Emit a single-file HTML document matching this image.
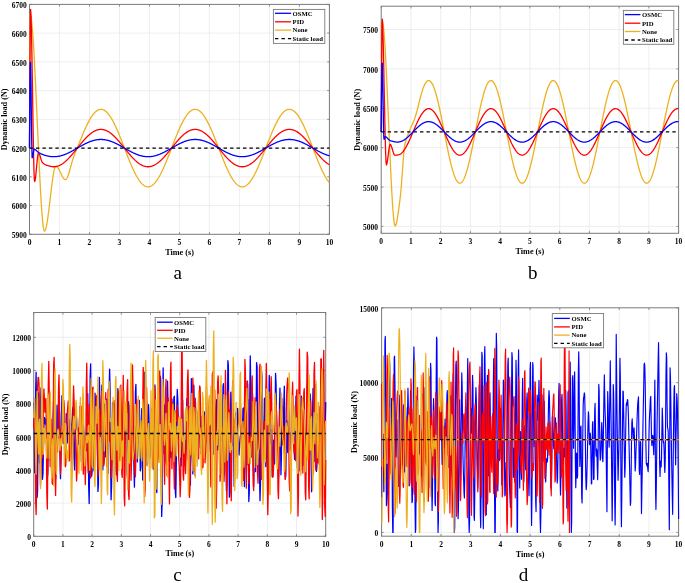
<!DOCTYPE html><html><head><meta charset="utf-8"><style>html,body{margin:0;padding:0;background:#fff;}svg{display:block;will-change:transform;filter:blur(0.35px);}</style></head><body><svg width="685" height="583" viewBox="0 0 685 583" font-family='"Liberation Serif", serif' font-weight="bold" fill="#000">
<rect width="685" height="583" fill="#fff"/>
<line x1="59.49" y1="4.4" x2="59.49" y2="234.3" stroke="#e6e6e6" stroke-width="0.7"/>
<line x1="89.48" y1="4.4" x2="89.48" y2="234.3" stroke="#e6e6e6" stroke-width="0.7"/>
<line x1="119.47" y1="4.4" x2="119.47" y2="234.3" stroke="#e6e6e6" stroke-width="0.7"/>
<line x1="149.46" y1="4.4" x2="149.46" y2="234.3" stroke="#e6e6e6" stroke-width="0.7"/>
<line x1="179.45" y1="4.4" x2="179.45" y2="234.3" stroke="#e6e6e6" stroke-width="0.7"/>
<line x1="209.44" y1="4.4" x2="209.44" y2="234.3" stroke="#e6e6e6" stroke-width="0.7"/>
<line x1="239.43" y1="4.4" x2="239.43" y2="234.3" stroke="#e6e6e6" stroke-width="0.7"/>
<line x1="269.42" y1="4.4" x2="269.42" y2="234.3" stroke="#e6e6e6" stroke-width="0.7"/>
<line x1="299.41" y1="4.4" x2="299.41" y2="234.3" stroke="#e6e6e6" stroke-width="0.7"/>
<line x1="29.5" y1="205.56" x2="329.4" y2="205.56" stroke="#e6e6e6" stroke-width="0.7"/>
<line x1="29.5" y1="176.83" x2="329.4" y2="176.83" stroke="#e6e6e6" stroke-width="0.7"/>
<line x1="29.5" y1="148.09" x2="329.4" y2="148.09" stroke="#e6e6e6" stroke-width="0.7"/>
<line x1="29.5" y1="119.35" x2="329.4" y2="119.35" stroke="#e6e6e6" stroke-width="0.7"/>
<line x1="29.5" y1="90.61" x2="329.4" y2="90.61" stroke="#e6e6e6" stroke-width="0.7"/>
<line x1="29.5" y1="61.88" x2="329.4" y2="61.88" stroke="#e6e6e6" stroke-width="0.7"/>
<line x1="29.5" y1="33.14" x2="329.4" y2="33.14" stroke="#e6e6e6" stroke-width="0.7"/>
<rect x="29.5" y="4.4" width="299.9" height="229.9" fill="none" stroke="#7a7a7a" stroke-width="1"/>
<line x1="29.5" y1="234.3" x2="29.5" y2="232.1" stroke="#7a7a7a" stroke-width="0.8"/>
<line x1="29.5" y1="4.4" x2="29.5" y2="6.6" stroke="#7a7a7a" stroke-width="0.8"/>
<line x1="59.49" y1="234.3" x2="59.49" y2="232.1" stroke="#7a7a7a" stroke-width="0.8"/>
<line x1="59.49" y1="4.4" x2="59.49" y2="6.6" stroke="#7a7a7a" stroke-width="0.8"/>
<line x1="89.48" y1="234.3" x2="89.48" y2="232.1" stroke="#7a7a7a" stroke-width="0.8"/>
<line x1="89.48" y1="4.4" x2="89.48" y2="6.6" stroke="#7a7a7a" stroke-width="0.8"/>
<line x1="119.47" y1="234.3" x2="119.47" y2="232.1" stroke="#7a7a7a" stroke-width="0.8"/>
<line x1="119.47" y1="4.4" x2="119.47" y2="6.6" stroke="#7a7a7a" stroke-width="0.8"/>
<line x1="149.46" y1="234.3" x2="149.46" y2="232.1" stroke="#7a7a7a" stroke-width="0.8"/>
<line x1="149.46" y1="4.4" x2="149.46" y2="6.6" stroke="#7a7a7a" stroke-width="0.8"/>
<line x1="179.45" y1="234.3" x2="179.45" y2="232.1" stroke="#7a7a7a" stroke-width="0.8"/>
<line x1="179.45" y1="4.4" x2="179.45" y2="6.6" stroke="#7a7a7a" stroke-width="0.8"/>
<line x1="209.44" y1="234.3" x2="209.44" y2="232.1" stroke="#7a7a7a" stroke-width="0.8"/>
<line x1="209.44" y1="4.4" x2="209.44" y2="6.6" stroke="#7a7a7a" stroke-width="0.8"/>
<line x1="239.43" y1="234.3" x2="239.43" y2="232.1" stroke="#7a7a7a" stroke-width="0.8"/>
<line x1="239.43" y1="4.4" x2="239.43" y2="6.6" stroke="#7a7a7a" stroke-width="0.8"/>
<line x1="269.42" y1="234.3" x2="269.42" y2="232.1" stroke="#7a7a7a" stroke-width="0.8"/>
<line x1="269.42" y1="4.4" x2="269.42" y2="6.6" stroke="#7a7a7a" stroke-width="0.8"/>
<line x1="299.41" y1="234.3" x2="299.41" y2="232.1" stroke="#7a7a7a" stroke-width="0.8"/>
<line x1="299.41" y1="4.4" x2="299.41" y2="6.6" stroke="#7a7a7a" stroke-width="0.8"/>
<line x1="329.4" y1="234.3" x2="329.4" y2="232.1" stroke="#7a7a7a" stroke-width="0.8"/>
<line x1="329.4" y1="4.4" x2="329.4" y2="6.6" stroke="#7a7a7a" stroke-width="0.8"/>
<line x1="29.5" y1="234.3" x2="31.7" y2="234.3" stroke="#7a7a7a" stroke-width="0.8"/>
<line x1="329.4" y1="234.3" x2="327.2" y2="234.3" stroke="#7a7a7a" stroke-width="0.8"/>
<line x1="29.5" y1="205.56" x2="31.7" y2="205.56" stroke="#7a7a7a" stroke-width="0.8"/>
<line x1="329.4" y1="205.56" x2="327.2" y2="205.56" stroke="#7a7a7a" stroke-width="0.8"/>
<line x1="29.5" y1="176.83" x2="31.7" y2="176.83" stroke="#7a7a7a" stroke-width="0.8"/>
<line x1="329.4" y1="176.83" x2="327.2" y2="176.83" stroke="#7a7a7a" stroke-width="0.8"/>
<line x1="29.5" y1="148.09" x2="31.7" y2="148.09" stroke="#7a7a7a" stroke-width="0.8"/>
<line x1="329.4" y1="148.09" x2="327.2" y2="148.09" stroke="#7a7a7a" stroke-width="0.8"/>
<line x1="29.5" y1="119.35" x2="31.7" y2="119.35" stroke="#7a7a7a" stroke-width="0.8"/>
<line x1="329.4" y1="119.35" x2="327.2" y2="119.35" stroke="#7a7a7a" stroke-width="0.8"/>
<line x1="29.5" y1="90.61" x2="31.7" y2="90.61" stroke="#7a7a7a" stroke-width="0.8"/>
<line x1="329.4" y1="90.61" x2="327.2" y2="90.61" stroke="#7a7a7a" stroke-width="0.8"/>
<line x1="29.5" y1="61.88" x2="31.7" y2="61.88" stroke="#7a7a7a" stroke-width="0.8"/>
<line x1="329.4" y1="61.88" x2="327.2" y2="61.88" stroke="#7a7a7a" stroke-width="0.8"/>
<line x1="29.5" y1="33.14" x2="31.7" y2="33.14" stroke="#7a7a7a" stroke-width="0.8"/>
<line x1="329.4" y1="33.14" x2="327.2" y2="33.14" stroke="#7a7a7a" stroke-width="0.8"/>
<line x1="29.5" y1="4.4" x2="31.7" y2="4.4" stroke="#7a7a7a" stroke-width="0.8"/>
<line x1="329.4" y1="4.4" x2="327.2" y2="4.4" stroke="#7a7a7a" stroke-width="0.8"/>
<text x="29.5" y="244.6" font-size="7.5" text-anchor="middle">0</text>
<text x="59.49" y="244.6" font-size="7.5" text-anchor="middle">1</text>
<text x="89.48" y="244.6" font-size="7.5" text-anchor="middle">2</text>
<text x="119.47" y="244.6" font-size="7.5" text-anchor="middle">3</text>
<text x="149.46" y="244.6" font-size="7.5" text-anchor="middle">4</text>
<text x="179.45" y="244.6" font-size="7.5" text-anchor="middle">5</text>
<text x="209.44" y="244.6" font-size="7.5" text-anchor="middle">6</text>
<text x="239.43" y="244.6" font-size="7.5" text-anchor="middle">7</text>
<text x="269.42" y="244.6" font-size="7.5" text-anchor="middle">8</text>
<text x="299.41" y="244.6" font-size="7.5" text-anchor="middle">9</text>
<text x="329.4" y="244.6" font-size="7.5" text-anchor="middle">10</text>
<text x="26.7" y="238.1" font-size="7.5" text-anchor="end">5900</text>
<text x="26.7" y="209.36" font-size="7.5" text-anchor="end">6000</text>
<text x="26.7" y="180.63" font-size="7.5" text-anchor="end">6100</text>
<text x="26.7" y="151.89" font-size="7.5" text-anchor="end">6200</text>
<text x="26.7" y="123.15" font-size="7.5" text-anchor="end">6300</text>
<text x="26.7" y="94.41" font-size="7.5" text-anchor="end">6400</text>
<text x="26.7" y="65.67" font-size="7.5" text-anchor="end">6500</text>
<text x="26.7" y="36.94" font-size="7.5" text-anchor="end">6600</text>
<text x="26.7" y="8.2" font-size="7.5" text-anchor="end">6700</text>
<text x="179.5" y="254.8" font-size="8.2" text-anchor="middle">Time (s)</text>
<text x="0" y="0" font-size="8.2" text-anchor="middle" transform="translate(7.2,119.35) rotate(-90)">Dynamic load (N)</text>
<text x="177.7" y="279" font-size="19" font-weight="normal" text-anchor="middle">a</text>
<line x1="410.94" y1="6.2" x2="410.94" y2="233.3" stroke="#e6e6e6" stroke-width="0.7"/>
<line x1="440.68" y1="6.2" x2="440.68" y2="233.3" stroke="#e6e6e6" stroke-width="0.7"/>
<line x1="470.42" y1="6.2" x2="470.42" y2="233.3" stroke="#e6e6e6" stroke-width="0.7"/>
<line x1="500.16" y1="6.2" x2="500.16" y2="233.3" stroke="#e6e6e6" stroke-width="0.7"/>
<line x1="529.9" y1="6.2" x2="529.9" y2="233.3" stroke="#e6e6e6" stroke-width="0.7"/>
<line x1="559.64" y1="6.2" x2="559.64" y2="233.3" stroke="#e6e6e6" stroke-width="0.7"/>
<line x1="589.38" y1="6.2" x2="589.38" y2="233.3" stroke="#e6e6e6" stroke-width="0.7"/>
<line x1="619.12" y1="6.2" x2="619.12" y2="233.3" stroke="#e6e6e6" stroke-width="0.7"/>
<line x1="648.86" y1="6.2" x2="648.86" y2="233.3" stroke="#e6e6e6" stroke-width="0.7"/>
<line x1="381.2" y1="226.4" x2="678.6" y2="226.4" stroke="#e6e6e6" stroke-width="0.7"/>
<line x1="381.2" y1="187.02" x2="678.6" y2="187.02" stroke="#e6e6e6" stroke-width="0.7"/>
<line x1="381.2" y1="147.64" x2="678.6" y2="147.64" stroke="#e6e6e6" stroke-width="0.7"/>
<line x1="381.2" y1="108.26" x2="678.6" y2="108.26" stroke="#e6e6e6" stroke-width="0.7"/>
<line x1="381.2" y1="68.88" x2="678.6" y2="68.88" stroke="#e6e6e6" stroke-width="0.7"/>
<line x1="381.2" y1="29.5" x2="678.6" y2="29.5" stroke="#e6e6e6" stroke-width="0.7"/>
<rect x="381.2" y="6.2" width="297.4" height="227.1" fill="none" stroke="#7a7a7a" stroke-width="1"/>
<line x1="381.2" y1="233.3" x2="381.2" y2="231.1" stroke="#7a7a7a" stroke-width="0.8"/>
<line x1="381.2" y1="6.2" x2="381.2" y2="8.4" stroke="#7a7a7a" stroke-width="0.8"/>
<line x1="410.94" y1="233.3" x2="410.94" y2="231.1" stroke="#7a7a7a" stroke-width="0.8"/>
<line x1="410.94" y1="6.2" x2="410.94" y2="8.4" stroke="#7a7a7a" stroke-width="0.8"/>
<line x1="440.68" y1="233.3" x2="440.68" y2="231.1" stroke="#7a7a7a" stroke-width="0.8"/>
<line x1="440.68" y1="6.2" x2="440.68" y2="8.4" stroke="#7a7a7a" stroke-width="0.8"/>
<line x1="470.42" y1="233.3" x2="470.42" y2="231.1" stroke="#7a7a7a" stroke-width="0.8"/>
<line x1="470.42" y1="6.2" x2="470.42" y2="8.4" stroke="#7a7a7a" stroke-width="0.8"/>
<line x1="500.16" y1="233.3" x2="500.16" y2="231.1" stroke="#7a7a7a" stroke-width="0.8"/>
<line x1="500.16" y1="6.2" x2="500.16" y2="8.4" stroke="#7a7a7a" stroke-width="0.8"/>
<line x1="529.9" y1="233.3" x2="529.9" y2="231.1" stroke="#7a7a7a" stroke-width="0.8"/>
<line x1="529.9" y1="6.2" x2="529.9" y2="8.4" stroke="#7a7a7a" stroke-width="0.8"/>
<line x1="559.64" y1="233.3" x2="559.64" y2="231.1" stroke="#7a7a7a" stroke-width="0.8"/>
<line x1="559.64" y1="6.2" x2="559.64" y2="8.4" stroke="#7a7a7a" stroke-width="0.8"/>
<line x1="589.38" y1="233.3" x2="589.38" y2="231.1" stroke="#7a7a7a" stroke-width="0.8"/>
<line x1="589.38" y1="6.2" x2="589.38" y2="8.4" stroke="#7a7a7a" stroke-width="0.8"/>
<line x1="619.12" y1="233.3" x2="619.12" y2="231.1" stroke="#7a7a7a" stroke-width="0.8"/>
<line x1="619.12" y1="6.2" x2="619.12" y2="8.4" stroke="#7a7a7a" stroke-width="0.8"/>
<line x1="648.86" y1="233.3" x2="648.86" y2="231.1" stroke="#7a7a7a" stroke-width="0.8"/>
<line x1="648.86" y1="6.2" x2="648.86" y2="8.4" stroke="#7a7a7a" stroke-width="0.8"/>
<line x1="678.6" y1="233.3" x2="678.6" y2="231.1" stroke="#7a7a7a" stroke-width="0.8"/>
<line x1="678.6" y1="6.2" x2="678.6" y2="8.4" stroke="#7a7a7a" stroke-width="0.8"/>
<line x1="381.2" y1="226.4" x2="383.4" y2="226.4" stroke="#7a7a7a" stroke-width="0.8"/>
<line x1="678.6" y1="226.4" x2="676.4" y2="226.4" stroke="#7a7a7a" stroke-width="0.8"/>
<line x1="381.2" y1="187.02" x2="383.4" y2="187.02" stroke="#7a7a7a" stroke-width="0.8"/>
<line x1="678.6" y1="187.02" x2="676.4" y2="187.02" stroke="#7a7a7a" stroke-width="0.8"/>
<line x1="381.2" y1="147.64" x2="383.4" y2="147.64" stroke="#7a7a7a" stroke-width="0.8"/>
<line x1="678.6" y1="147.64" x2="676.4" y2="147.64" stroke="#7a7a7a" stroke-width="0.8"/>
<line x1="381.2" y1="108.26" x2="383.4" y2="108.26" stroke="#7a7a7a" stroke-width="0.8"/>
<line x1="678.6" y1="108.26" x2="676.4" y2="108.26" stroke="#7a7a7a" stroke-width="0.8"/>
<line x1="381.2" y1="68.88" x2="383.4" y2="68.88" stroke="#7a7a7a" stroke-width="0.8"/>
<line x1="678.6" y1="68.88" x2="676.4" y2="68.88" stroke="#7a7a7a" stroke-width="0.8"/>
<line x1="381.2" y1="29.5" x2="383.4" y2="29.5" stroke="#7a7a7a" stroke-width="0.8"/>
<line x1="678.6" y1="29.5" x2="676.4" y2="29.5" stroke="#7a7a7a" stroke-width="0.8"/>
<text x="381.2" y="244" font-size="7.5" text-anchor="middle">0</text>
<text x="410.94" y="244" font-size="7.5" text-anchor="middle">1</text>
<text x="440.68" y="244" font-size="7.5" text-anchor="middle">2</text>
<text x="470.42" y="244" font-size="7.5" text-anchor="middle">3</text>
<text x="500.16" y="244" font-size="7.5" text-anchor="middle">4</text>
<text x="529.9" y="244" font-size="7.5" text-anchor="middle">5</text>
<text x="559.64" y="244" font-size="7.5" text-anchor="middle">6</text>
<text x="589.38" y="244" font-size="7.5" text-anchor="middle">7</text>
<text x="619.12" y="244" font-size="7.5" text-anchor="middle">8</text>
<text x="648.86" y="244" font-size="7.5" text-anchor="middle">9</text>
<text x="678.6" y="244" font-size="7.5" text-anchor="middle">10</text>
<text x="378.1" y="230.2" font-size="7.5" text-anchor="end">5000</text>
<text x="378.1" y="190.82" font-size="7.5" text-anchor="end">5500</text>
<text x="378.1" y="151.44" font-size="7.5" text-anchor="end">6000</text>
<text x="378.1" y="112.06" font-size="7.5" text-anchor="end">6500</text>
<text x="378.1" y="72.68" font-size="7.5" text-anchor="end">7000</text>
<text x="378.1" y="33.3" font-size="7.5" text-anchor="end">7500</text>
<text x="529.9" y="253.9" font-size="8.2" text-anchor="middle">Time (s)</text>
<text x="0" y="0" font-size="8.2" text-anchor="middle" transform="translate(359.6,119.75) rotate(-90)">Dynamic load (N)</text>
<text x="532.75" y="279" font-size="19" font-weight="normal" text-anchor="middle">b</text>
<line x1="62.9" y1="312.5" x2="62.9" y2="536.3" stroke="#e6e6e6" stroke-width="0.7"/>
<line x1="92.1" y1="312.5" x2="92.1" y2="536.3" stroke="#e6e6e6" stroke-width="0.7"/>
<line x1="121.3" y1="312.5" x2="121.3" y2="536.3" stroke="#e6e6e6" stroke-width="0.7"/>
<line x1="150.5" y1="312.5" x2="150.5" y2="536.3" stroke="#e6e6e6" stroke-width="0.7"/>
<line x1="179.7" y1="312.5" x2="179.7" y2="536.3" stroke="#e6e6e6" stroke-width="0.7"/>
<line x1="208.9" y1="312.5" x2="208.9" y2="536.3" stroke="#e6e6e6" stroke-width="0.7"/>
<line x1="238.1" y1="312.5" x2="238.1" y2="536.3" stroke="#e6e6e6" stroke-width="0.7"/>
<line x1="267.3" y1="312.5" x2="267.3" y2="536.3" stroke="#e6e6e6" stroke-width="0.7"/>
<line x1="296.5" y1="312.5" x2="296.5" y2="536.3" stroke="#e6e6e6" stroke-width="0.7"/>
<line x1="33.7" y1="503.13" x2="325.7" y2="503.13" stroke="#e6e6e6" stroke-width="0.7"/>
<line x1="33.7" y1="469.97" x2="325.7" y2="469.97" stroke="#e6e6e6" stroke-width="0.7"/>
<line x1="33.7" y1="436.8" x2="325.7" y2="436.8" stroke="#e6e6e6" stroke-width="0.7"/>
<line x1="33.7" y1="403.63" x2="325.7" y2="403.63" stroke="#e6e6e6" stroke-width="0.7"/>
<line x1="33.7" y1="370.47" x2="325.7" y2="370.47" stroke="#e6e6e6" stroke-width="0.7"/>
<line x1="33.7" y1="337.3" x2="325.7" y2="337.3" stroke="#e6e6e6" stroke-width="0.7"/>
<rect x="33.7" y="312.5" width="292" height="223.8" fill="none" stroke="#7a7a7a" stroke-width="1"/>
<line x1="33.7" y1="536.3" x2="33.7" y2="534.1" stroke="#7a7a7a" stroke-width="0.8"/>
<line x1="33.7" y1="312.5" x2="33.7" y2="314.7" stroke="#7a7a7a" stroke-width="0.8"/>
<line x1="62.9" y1="536.3" x2="62.9" y2="534.1" stroke="#7a7a7a" stroke-width="0.8"/>
<line x1="62.9" y1="312.5" x2="62.9" y2="314.7" stroke="#7a7a7a" stroke-width="0.8"/>
<line x1="92.1" y1="536.3" x2="92.1" y2="534.1" stroke="#7a7a7a" stroke-width="0.8"/>
<line x1="92.1" y1="312.5" x2="92.1" y2="314.7" stroke="#7a7a7a" stroke-width="0.8"/>
<line x1="121.3" y1="536.3" x2="121.3" y2="534.1" stroke="#7a7a7a" stroke-width="0.8"/>
<line x1="121.3" y1="312.5" x2="121.3" y2="314.7" stroke="#7a7a7a" stroke-width="0.8"/>
<line x1="150.5" y1="536.3" x2="150.5" y2="534.1" stroke="#7a7a7a" stroke-width="0.8"/>
<line x1="150.5" y1="312.5" x2="150.5" y2="314.7" stroke="#7a7a7a" stroke-width="0.8"/>
<line x1="179.7" y1="536.3" x2="179.7" y2="534.1" stroke="#7a7a7a" stroke-width="0.8"/>
<line x1="179.7" y1="312.5" x2="179.7" y2="314.7" stroke="#7a7a7a" stroke-width="0.8"/>
<line x1="208.9" y1="536.3" x2="208.9" y2="534.1" stroke="#7a7a7a" stroke-width="0.8"/>
<line x1="208.9" y1="312.5" x2="208.9" y2="314.7" stroke="#7a7a7a" stroke-width="0.8"/>
<line x1="238.1" y1="536.3" x2="238.1" y2="534.1" stroke="#7a7a7a" stroke-width="0.8"/>
<line x1="238.1" y1="312.5" x2="238.1" y2="314.7" stroke="#7a7a7a" stroke-width="0.8"/>
<line x1="267.3" y1="536.3" x2="267.3" y2="534.1" stroke="#7a7a7a" stroke-width="0.8"/>
<line x1="267.3" y1="312.5" x2="267.3" y2="314.7" stroke="#7a7a7a" stroke-width="0.8"/>
<line x1="296.5" y1="536.3" x2="296.5" y2="534.1" stroke="#7a7a7a" stroke-width="0.8"/>
<line x1="296.5" y1="312.5" x2="296.5" y2="314.7" stroke="#7a7a7a" stroke-width="0.8"/>
<line x1="325.7" y1="536.3" x2="325.7" y2="534.1" stroke="#7a7a7a" stroke-width="0.8"/>
<line x1="325.7" y1="312.5" x2="325.7" y2="314.7" stroke="#7a7a7a" stroke-width="0.8"/>
<line x1="33.7" y1="536.3" x2="35.9" y2="536.3" stroke="#7a7a7a" stroke-width="0.8"/>
<line x1="325.7" y1="536.3" x2="323.5" y2="536.3" stroke="#7a7a7a" stroke-width="0.8"/>
<line x1="33.7" y1="503.13" x2="35.9" y2="503.13" stroke="#7a7a7a" stroke-width="0.8"/>
<line x1="325.7" y1="503.13" x2="323.5" y2="503.13" stroke="#7a7a7a" stroke-width="0.8"/>
<line x1="33.7" y1="469.97" x2="35.9" y2="469.97" stroke="#7a7a7a" stroke-width="0.8"/>
<line x1="325.7" y1="469.97" x2="323.5" y2="469.97" stroke="#7a7a7a" stroke-width="0.8"/>
<line x1="33.7" y1="436.8" x2="35.9" y2="436.8" stroke="#7a7a7a" stroke-width="0.8"/>
<line x1="325.7" y1="436.8" x2="323.5" y2="436.8" stroke="#7a7a7a" stroke-width="0.8"/>
<line x1="33.7" y1="403.63" x2="35.9" y2="403.63" stroke="#7a7a7a" stroke-width="0.8"/>
<line x1="325.7" y1="403.63" x2="323.5" y2="403.63" stroke="#7a7a7a" stroke-width="0.8"/>
<line x1="33.7" y1="370.47" x2="35.9" y2="370.47" stroke="#7a7a7a" stroke-width="0.8"/>
<line x1="325.7" y1="370.47" x2="323.5" y2="370.47" stroke="#7a7a7a" stroke-width="0.8"/>
<line x1="33.7" y1="337.3" x2="35.9" y2="337.3" stroke="#7a7a7a" stroke-width="0.8"/>
<line x1="325.7" y1="337.3" x2="323.5" y2="337.3" stroke="#7a7a7a" stroke-width="0.8"/>
<text x="33.7" y="546.7" font-size="7.5" text-anchor="middle">0</text>
<text x="62.9" y="546.7" font-size="7.5" text-anchor="middle">1</text>
<text x="92.1" y="546.7" font-size="7.5" text-anchor="middle">2</text>
<text x="121.3" y="546.7" font-size="7.5" text-anchor="middle">3</text>
<text x="150.5" y="546.7" font-size="7.5" text-anchor="middle">4</text>
<text x="179.7" y="546.7" font-size="7.5" text-anchor="middle">5</text>
<text x="208.9" y="546.7" font-size="7.5" text-anchor="middle">6</text>
<text x="238.1" y="546.7" font-size="7.5" text-anchor="middle">7</text>
<text x="267.3" y="546.7" font-size="7.5" text-anchor="middle">8</text>
<text x="296.5" y="546.7" font-size="7.5" text-anchor="middle">9</text>
<text x="325.7" y="546.7" font-size="7.5" text-anchor="middle">10</text>
<text x="30.9" y="540.1" font-size="7.5" text-anchor="end">0</text>
<text x="30.9" y="506.93" font-size="7.5" text-anchor="end">2000</text>
<text x="30.9" y="473.77" font-size="7.5" text-anchor="end">4000</text>
<text x="30.9" y="440.6" font-size="7.5" text-anchor="end">6000</text>
<text x="30.9" y="407.43" font-size="7.5" text-anchor="end">8000</text>
<text x="30.9" y="374.27" font-size="7.5" text-anchor="end">10000</text>
<text x="30.9" y="341.1" font-size="7.5" text-anchor="end">12000</text>
<text x="179.9" y="556.2" font-size="8.2" text-anchor="middle">Time (s)</text>
<text x="0" y="0" font-size="8.2" text-anchor="middle" transform="translate(7.6,424.4) rotate(-90)">Dynamic load (N)</text>
<text x="177.4" y="580.8" font-size="19" font-weight="normal" text-anchor="middle">c</text>
<line x1="411.3" y1="307.8" x2="411.3" y2="536.2" stroke="#e6e6e6" stroke-width="0.7"/>
<line x1="441" y1="307.8" x2="441" y2="536.2" stroke="#e6e6e6" stroke-width="0.7"/>
<line x1="470.7" y1="307.8" x2="470.7" y2="536.2" stroke="#e6e6e6" stroke-width="0.7"/>
<line x1="500.4" y1="307.8" x2="500.4" y2="536.2" stroke="#e6e6e6" stroke-width="0.7"/>
<line x1="530.1" y1="307.8" x2="530.1" y2="536.2" stroke="#e6e6e6" stroke-width="0.7"/>
<line x1="559.8" y1="307.8" x2="559.8" y2="536.2" stroke="#e6e6e6" stroke-width="0.7"/>
<line x1="589.5" y1="307.8" x2="589.5" y2="536.2" stroke="#e6e6e6" stroke-width="0.7"/>
<line x1="619.2" y1="307.8" x2="619.2" y2="536.2" stroke="#e6e6e6" stroke-width="0.7"/>
<line x1="648.9" y1="307.8" x2="648.9" y2="536.2" stroke="#e6e6e6" stroke-width="0.7"/>
<line x1="381.6" y1="532.4" x2="678.6" y2="532.4" stroke="#e6e6e6" stroke-width="0.7"/>
<line x1="381.6" y1="457.53" x2="678.6" y2="457.53" stroke="#e6e6e6" stroke-width="0.7"/>
<line x1="381.6" y1="382.67" x2="678.6" y2="382.67" stroke="#e6e6e6" stroke-width="0.7"/>
<rect x="381.6" y="307.8" width="297" height="228.4" fill="none" stroke="#7a7a7a" stroke-width="1"/>
<line x1="381.6" y1="536.2" x2="381.6" y2="534" stroke="#7a7a7a" stroke-width="0.8"/>
<line x1="381.6" y1="307.8" x2="381.6" y2="310" stroke="#7a7a7a" stroke-width="0.8"/>
<line x1="411.3" y1="536.2" x2="411.3" y2="534" stroke="#7a7a7a" stroke-width="0.8"/>
<line x1="411.3" y1="307.8" x2="411.3" y2="310" stroke="#7a7a7a" stroke-width="0.8"/>
<line x1="441" y1="536.2" x2="441" y2="534" stroke="#7a7a7a" stroke-width="0.8"/>
<line x1="441" y1="307.8" x2="441" y2="310" stroke="#7a7a7a" stroke-width="0.8"/>
<line x1="470.7" y1="536.2" x2="470.7" y2="534" stroke="#7a7a7a" stroke-width="0.8"/>
<line x1="470.7" y1="307.8" x2="470.7" y2="310" stroke="#7a7a7a" stroke-width="0.8"/>
<line x1="500.4" y1="536.2" x2="500.4" y2="534" stroke="#7a7a7a" stroke-width="0.8"/>
<line x1="500.4" y1="307.8" x2="500.4" y2="310" stroke="#7a7a7a" stroke-width="0.8"/>
<line x1="530.1" y1="536.2" x2="530.1" y2="534" stroke="#7a7a7a" stroke-width="0.8"/>
<line x1="530.1" y1="307.8" x2="530.1" y2="310" stroke="#7a7a7a" stroke-width="0.8"/>
<line x1="559.8" y1="536.2" x2="559.8" y2="534" stroke="#7a7a7a" stroke-width="0.8"/>
<line x1="559.8" y1="307.8" x2="559.8" y2="310" stroke="#7a7a7a" stroke-width="0.8"/>
<line x1="589.5" y1="536.2" x2="589.5" y2="534" stroke="#7a7a7a" stroke-width="0.8"/>
<line x1="589.5" y1="307.8" x2="589.5" y2="310" stroke="#7a7a7a" stroke-width="0.8"/>
<line x1="619.2" y1="536.2" x2="619.2" y2="534" stroke="#7a7a7a" stroke-width="0.8"/>
<line x1="619.2" y1="307.8" x2="619.2" y2="310" stroke="#7a7a7a" stroke-width="0.8"/>
<line x1="648.9" y1="536.2" x2="648.9" y2="534" stroke="#7a7a7a" stroke-width="0.8"/>
<line x1="648.9" y1="307.8" x2="648.9" y2="310" stroke="#7a7a7a" stroke-width="0.8"/>
<line x1="678.6" y1="536.2" x2="678.6" y2="534" stroke="#7a7a7a" stroke-width="0.8"/>
<line x1="678.6" y1="307.8" x2="678.6" y2="310" stroke="#7a7a7a" stroke-width="0.8"/>
<line x1="381.6" y1="532.4" x2="383.8" y2="532.4" stroke="#7a7a7a" stroke-width="0.8"/>
<line x1="678.6" y1="532.4" x2="676.4" y2="532.4" stroke="#7a7a7a" stroke-width="0.8"/>
<line x1="381.6" y1="457.53" x2="383.8" y2="457.53" stroke="#7a7a7a" stroke-width="0.8"/>
<line x1="678.6" y1="457.53" x2="676.4" y2="457.53" stroke="#7a7a7a" stroke-width="0.8"/>
<line x1="381.6" y1="382.67" x2="383.8" y2="382.67" stroke="#7a7a7a" stroke-width="0.8"/>
<line x1="678.6" y1="382.67" x2="676.4" y2="382.67" stroke="#7a7a7a" stroke-width="0.8"/>
<line x1="381.6" y1="307.8" x2="383.8" y2="307.8" stroke="#7a7a7a" stroke-width="0.8"/>
<line x1="678.6" y1="307.8" x2="676.4" y2="307.8" stroke="#7a7a7a" stroke-width="0.8"/>
<text x="381.6" y="546.9" font-size="7.5" text-anchor="middle">0</text>
<text x="411.3" y="546.9" font-size="7.5" text-anchor="middle">1</text>
<text x="441" y="546.9" font-size="7.5" text-anchor="middle">2</text>
<text x="470.7" y="546.9" font-size="7.5" text-anchor="middle">3</text>
<text x="500.4" y="546.9" font-size="7.5" text-anchor="middle">4</text>
<text x="530.1" y="546.9" font-size="7.5" text-anchor="middle">5</text>
<text x="559.8" y="546.9" font-size="7.5" text-anchor="middle">6</text>
<text x="589.5" y="546.9" font-size="7.5" text-anchor="middle">7</text>
<text x="619.2" y="546.9" font-size="7.5" text-anchor="middle">8</text>
<text x="648.9" y="546.9" font-size="7.5" text-anchor="middle">9</text>
<text x="678.6" y="546.9" font-size="7.5" text-anchor="middle">10</text>
<text x="378.3" y="536.2" font-size="7.5" text-anchor="end">0</text>
<text x="378.3" y="461.33" font-size="7.5" text-anchor="end">5000</text>
<text x="378.3" y="386.47" font-size="7.5" text-anchor="end">10000</text>
<text x="378.3" y="311.6" font-size="7.5" text-anchor="end">15000</text>
<text x="530.1" y="556.6" font-size="8.2" text-anchor="middle">Time (s)</text>
<text x="0" y="0" font-size="8.2" text-anchor="middle" transform="translate(356.5,422) rotate(-90)">Dynamic load (N)</text>
<text x="523.6" y="580.8" font-size="19" font-weight="normal" text-anchor="middle">d</text>
<polyline points="29.5,148.09 29.87,44.05 30.25,13.95 30.62,14.73 31,16.32 31.37,18.69 31.75,21.79 32.12,25.56 32.5,29.98 32.87,34.98 33.25,40.52 33.62,46.57 34,53.06 34.37,59.96 34.75,67.22 35.12,74.79 35.5,82.62 35.87,90.68 36.25,98.92 36.62,107.28 37,115.73 37.37,124.21 37.75,132.68 38.12,141.1 38.5,149.42 38.87,157.59 39.25,165.56 39.62,173.3 40,180.75 40.37,187.87 40.75,194.61 41.12,200.93 41.5,206.78 41.87,212.11 42.25,216.88 42.62,221.05 43,224.56 43.37,227.37 43.75,229.43 44.12,230.7 44.49,231.14 44.87,230.93 45.24,230.33 45.62,229.37 45.99,228.06 46.37,226.45 46.74,224.55 47.12,222.39 47.49,220.01 47.87,217.43 48.24,214.68 48.62,211.78 48.99,208.77 49.37,205.67 49.74,202.5 50.12,199.31 50.49,196.1 50.87,192.92 51.24,189.79 51.62,186.74 51.99,183.79 52.37,180.98 52.74,178.33 53.12,175.86 53.49,173.62 53.87,171.61 54.24,169.88 54.62,168.45 54.99,167.34 55.37,166.59 55.74,166.23 56.12,166.21 56.49,166.34 56.87,166.58 57.24,166.92 57.62,167.34 57.99,167.85 58.37,168.42 58.74,169.06 59.12,169.74 59.49,170.47 59.86,171.22 60.24,172 60.61,172.79 60.99,173.58 61.36,174.36 61.74,175.13 62.11,175.86 62.49,176.57 62.86,177.22 63.24,177.82 63.61,178.35 63.99,178.81 64.36,179.19 64.74,179.46 65.11,179.64 65.49,179.7 65.86,179.6 66.24,179.32 66.61,178.86 66.99,178.24 67.36,177.47 67.74,176.56 68.11,175.54 68.49,174.42 68.86,173.22 69.24,171.95 69.61,170.63 69.99,169.28 70.36,167.91 70.74,166.53 71.11,165.17 71.49,163.82 71.86,162.51 72.24,161.23 72.61,160 72.99,158.82 73.36,157.7 73.74,156.63 74.11,155.61 74.48,154.66 74.86,153.72 75.23,152.8 75.61,151.87 75.98,150.95 76.36,150.03 76.73,149.11 77.11,148.19 77.48,147.27 77.86,146.35 78.23,145.43 78.61,144.51 78.98,143.59 79.36,142.67 79.73,141.76 80.11,140.84 80.48,139.92 80.86,139.01 81.23,138.09 81.61,137.18 81.98,136.28 82.36,135.37 82.73,134.47 83.11,133.57 83.48,132.68 83.86,131.79 84.23,130.92 84.61,130.06 84.98,129.2 85.36,128.36 85.73,127.53 86.11,126.72 86.48,125.91 86.86,125.12 87.23,124.35 87.61,123.59 87.98,122.85 88.36,122.12 88.73,121.41 89.11,120.71 89.48,120.03 89.85,119.37 90.23,118.73 90.6,118.1 90.98,117.5 91.35,116.91 91.73,116.34 92.1,115.79 92.48,115.27 92.85,114.76 93.23,114.27 93.6,113.81 93.98,113.37 94.35,112.94 94.73,112.54 95.1,112.17 95.48,111.81 95.85,111.48 96.23,111.17 96.6,110.88 96.98,110.62 97.35,110.38 97.73,110.16 98.1,109.97 98.48,109.8 98.85,109.66 99.23,109.54 99.6,109.44 99.98,109.37 100.35,109.32 100.73,109.29 101.1,109.29 101.48,109.32 101.85,109.37 102.23,109.44 102.6,109.54 102.98,109.66 103.35,109.8 103.73,109.97 104.1,110.17 104.47,110.38 104.85,110.62 105.22,110.89 105.6,111.17 105.97,111.48 106.35,111.81 106.72,112.17 107.1,112.55 107.47,112.95 107.85,113.37 108.22,113.81 108.6,114.28 108.97,114.76 109.35,115.27 109.72,115.8 110.1,116.35 110.47,116.91 110.85,117.5 111.22,118.11 111.6,118.73 111.97,119.38 112.35,120.04 112.72,120.72 113.1,121.41 113.47,122.12 113.85,122.85 114.22,123.6 114.6,124.36 114.97,125.13 115.35,125.92 115.72,126.72 116.1,127.54 116.47,128.37 116.85,129.21 117.22,130.06 117.6,130.93 117.97,131.8 118.35,132.69 118.72,133.58 119.1,134.49 119.47,135.4 119.84,136.32 120.22,137.25 120.59,138.18 120.97,139.12 121.34,140.07 121.72,141.02 122.09,141.98 122.47,142.94 122.84,143.9 123.22,144.86 123.59,145.83 123.97,146.8 124.34,147.77 124.72,148.74 125.09,149.71 125.47,150.68 125.84,151.64 126.22,152.61 126.59,153.57 126.97,154.53 127.34,155.48 127.72,156.43 128.09,157.38 128.47,158.32 128.84,159.25 129.22,160.17 129.59,161.09 129.97,162 130.34,162.9 130.72,163.79 131.09,164.68 131.47,165.55 131.84,166.41 132.22,167.26 132.59,168.09 132.97,168.92 133.34,169.73 133.72,170.53 134.09,171.31 134.46,172.08 134.84,172.84 135.21,173.58 135.59,174.3 135.96,175.01 136.34,175.7 136.71,176.37 137.09,177.02 137.46,177.66 137.84,178.28 138.21,178.88 138.59,179.46 138.96,180.02 139.34,180.56 139.71,181.08 140.09,181.58 140.46,182.06 140.84,182.52 141.21,182.95 141.59,183.37 141.96,183.76 142.34,184.13 142.71,184.48 143.09,184.8 143.46,185.1 143.84,185.38 144.21,185.64 144.59,185.87 144.96,186.08 145.34,186.26 145.71,186.42 146.09,186.56 146.46,186.67 146.84,186.76 147.21,186.83 147.59,186.87 147.96,186.88 148.34,186.87 148.71,186.84 149.09,186.79 149.46,186.7 149.83,186.6 150.21,186.47 150.58,186.32 150.96,186.14 151.33,185.94 151.71,185.71 152.08,185.47 152.46,185.2 152.83,184.9 153.21,184.58 153.58,184.24 153.96,183.88 154.33,183.5 154.71,183.09 155.08,182.66 155.46,182.21 155.83,181.74 156.21,181.24 156.58,180.73 156.96,180.19 157.33,179.64 157.71,179.07 158.08,178.47 158.46,177.86 158.83,177.23 159.21,176.58 159.58,175.91 159.96,175.23 160.33,174.53 160.71,173.81 161.08,173.07 161.46,172.32 161.83,171.56 162.21,170.78 162.58,169.99 162.96,169.18 163.33,168.36 163.71,167.52 164.08,166.68 164.45,165.82 164.83,164.95 165.2,164.08 165.58,163.19 165.95,162.29 166.33,161.38 166.7,160.47 167.08,159.54 167.45,158.61 167.83,157.68 168.2,156.73 168.58,155.79 168.95,154.83 169.33,153.88 169.7,152.92 170.08,151.95 170.45,150.99 170.83,150.02 171.2,149.05 171.58,148.08 171.95,147.11 172.33,146.14 172.7,145.17 173.08,144.21 173.45,143.24 173.83,142.28 174.2,141.32 174.58,140.37 174.95,139.42 175.33,138.48 175.7,137.54 176.08,136.61 176.45,135.69 176.83,134.78 177.2,133.87 177.58,132.97 177.95,132.08 178.33,131.2 178.7,130.34 179.08,129.48 179.45,128.64 179.82,127.8 180.2,126.98 180.57,126.17 180.95,125.38 181.32,124.6 181.7,123.84 182.07,123.09 182.45,122.35 182.82,121.64 183.2,120.94 183.57,120.25 183.95,119.58 184.32,118.94 184.7,118.3 185.07,117.69 185.45,117.1 185.82,116.53 186.2,115.97 186.57,115.44 186.95,114.92 187.32,114.43 187.7,113.96 188.07,113.51 188.45,113.08 188.82,112.67 189.2,112.29 189.57,111.93 189.95,111.59 190.32,111.27 190.7,110.97 191.07,110.7 191.45,110.46 191.82,110.23 192.2,110.03 192.57,109.85 192.95,109.7 193.32,109.57 193.7,109.47 194.07,109.39 194.44,109.33 194.82,109.3 195.19,109.29 195.57,109.31 195.94,109.35 196.32,109.41 196.69,109.5 197.07,109.62 197.44,109.75 197.82,109.91 198.19,110.1 198.57,110.31 198.94,110.54 199.32,110.8 199.69,111.08 200.07,111.38 200.44,111.7 200.82,112.05 201.19,112.42 201.57,112.81 201.94,113.23 202.32,113.67 202.69,114.12 203.07,114.6 203.44,115.1 203.82,115.62 204.19,116.17 204.57,116.73 204.94,117.31 205.32,117.91 205.69,118.53 206.07,119.16 206.44,119.82 206.82,120.49 207.19,121.18 207.57,121.89 207.94,122.61 208.32,123.35 208.69,124.11 209.07,124.88 209.44,125.66 209.81,126.46 210.19,127.27 210.56,128.1 210.94,128.93 211.31,129.78 211.69,130.64 212.06,131.51 212.44,132.4 212.81,133.29 213.19,134.19 213.56,135.1 213.94,136.02 214.31,136.94 214.69,137.88 215.06,138.81 215.44,139.76 215.81,140.71 216.19,141.66 216.56,142.62 216.94,143.58 217.31,144.55 217.69,145.51 218.06,146.48 218.44,147.45 218.81,148.42 219.19,149.39 219.56,150.36 219.94,151.33 220.31,152.29 220.69,153.26 221.06,154.22 221.44,155.17 221.81,156.12 222.19,157.07 222.56,158.01 222.94,158.94 223.31,159.87 223.69,160.79 224.06,161.7 224.44,162.61 224.81,163.5 225.18,164.39 225.56,165.26 225.93,166.13 226.31,166.98 226.68,167.82 227.06,168.65 227.43,169.47 227.81,170.27 228.18,171.06 228.56,171.83 228.93,172.59 229.31,173.34 229.68,174.06 230.06,174.78 230.43,175.47 230.81,176.15 231.18,176.81 231.56,177.45 231.93,178.08 232.31,178.68 232.68,179.27 233.06,179.84 233.43,180.39 233.81,180.91 234.18,181.42 234.56,181.91 234.93,182.37 235.31,182.81 235.68,183.23 236.06,183.63 236.43,184.01 236.81,184.37 237.18,184.7 237.56,185.01 237.93,185.29 238.31,185.56 238.68,185.8 239.06,186.01 239.43,186.21 239.8,186.37 240.18,186.52 240.55,186.64 240.93,186.74 241.3,186.81 241.68,186.86 242.05,186.88 242.43,186.88 242.8,186.86 243.18,186.81 243.55,186.73 243.93,186.64 244.3,186.52 244.68,186.37 245.05,186.2 245.43,186.01 245.8,185.79 246.18,185.55 246.55,185.29 246.93,185 247.3,184.69 247.68,184.36 248.05,184 248.43,183.62 248.8,183.22 249.18,182.8 249.55,182.36 249.93,181.89 250.3,181.41 250.68,180.9 251.05,180.37 251.43,179.82 251.8,179.26 252.18,178.67 252.55,178.06 252.93,177.44 253.3,176.79 253.68,176.13 254.05,175.45 254.43,174.76 254.8,174.04 255.17,173.32 255.55,172.57 255.92,171.81 256.3,171.04 256.67,170.25 257.05,169.44 257.42,168.63 257.8,167.8 258.17,166.96 258.55,166.1 258.92,165.24 259.3,164.36 259.67,163.48 260.05,162.58 260.42,161.68 260.8,160.77 261.17,159.85 261.55,158.92 261.92,157.98 262.3,157.04 262.67,156.1 263.05,155.15 263.42,154.19 263.8,153.23 264.17,152.27 264.55,151.3 264.92,150.33 265.3,149.37 265.67,148.4 266.05,147.43 266.42,146.46 266.8,145.49 267.17,144.52 267.55,143.56 267.92,142.6 268.3,141.64 268.67,140.68 269.05,139.73 269.42,138.79 269.79,137.85 270.17,136.92 270.54,135.99 270.92,135.08 271.29,134.17 271.67,133.26 272.04,132.37 272.42,131.49 272.79,130.62 273.17,129.76 273.54,128.91 273.92,128.07 274.29,127.25 274.67,126.44 275.04,125.64 275.42,124.86 275.79,124.09 276.17,123.33 276.54,122.59 276.92,121.87 277.29,121.16 277.67,120.47 278.04,119.8 278.42,119.15 278.79,118.51 279.17,117.89 279.54,117.29 279.92,116.71 280.29,116.15 280.67,115.61 281.04,115.09 281.42,114.59 281.79,114.11 282.17,113.65 282.54,113.22 282.92,112.8 283.29,112.41 283.67,112.04 284.04,111.69 284.41,111.37 284.79,111.07 285.16,110.79 285.54,110.53 285.91,110.3 286.29,110.09 286.66,109.91 287.04,109.75 287.41,109.61 287.79,109.5 288.16,109.41 288.54,109.35 288.91,109.31 289.29,109.29 289.66,109.3 290.04,109.33 290.41,109.39 290.79,109.47 291.16,109.58 291.54,109.71 291.91,109.86 292.29,110.04 292.66,110.24 293.04,110.46 293.41,110.71 293.79,110.98 294.16,111.28 294.54,111.59 294.91,111.93 295.29,112.3 295.66,112.68 296.04,113.09 296.41,113.52 296.79,113.97 297.16,114.44 297.54,114.94 297.91,115.45 298.29,115.99 298.66,116.54 299.04,117.11 299.41,117.71 299.78,118.32 300.16,118.95 300.53,119.6 300.91,120.27 301.28,120.95 301.66,121.66 302.03,122.37 302.41,123.11 302.78,123.86 303.16,124.62 303.53,125.4 303.91,126.2 304.28,127 304.66,127.82 305.03,128.66 305.41,129.5 305.78,130.36 306.16,131.23 306.53,132.11 306.91,133 307.28,133.89 307.66,134.8 308.03,135.72 308.41,136.64 308.78,137.57 309.16,138.51 309.53,139.45 309.91,140.4 310.28,141.35 310.66,142.31 311.03,143.27 311.41,144.23 311.78,145.2 312.16,146.17 312.53,147.13 312.91,148.1 313.28,149.07 313.66,150.04 314.03,151.01 314.4,151.98 314.78,152.94 315.15,153.9 315.53,154.86 315.9,155.81 316.28,156.76 316.65,157.7 317.03,158.64 317.4,159.57 317.78,160.49 318.15,161.41 318.53,162.31 318.9,163.21 319.28,164.1 319.65,164.98 320.03,165.85 320.4,166.7 320.78,167.55 321.15,168.38 321.53,169.2 321.9,170.01 322.28,170.8 322.65,171.58 323.03,172.34 323.4,173.09 323.78,173.83 324.15,174.54 324.53,175.25 324.9,175.93 325.28,176.6 325.65,177.25 326.03,177.88 326.4,178.49 326.78,179.08 327.15,179.65 327.53,180.21 327.9,180.74 328.28,181.26 328.65,181.75 329.03,182.22 329.4,182.67" fill="none" stroke="#edb120" stroke-width="1.3" stroke-linejoin="round" />
<polyline points="29.5,148.09 29.87,81.56 30.25,26.51 30.62,9.46 31,15.2 31.37,27.83 31.75,45.73 32.12,67.23 32.5,90.71 32.87,114.52 33.25,137.01 33.62,156.54 34,171.48 34.37,180.17 34.75,181.59 35.12,180.29 35.5,177.83 35.87,174.5 36.25,170.63 36.62,166.51 37,162.46 37.37,158.77 37.75,155.75 38.12,153.72 38.5,152.97 38.87,153.19 39.25,153.77 39.62,154.66 40,155.75 40.37,156.98 40.75,158.26 41.12,159.51 41.5,160.65 41.87,161.6 42.25,162.28 42.62,162.68 43,163.02 43.37,163.35 43.75,163.65 44.12,163.93 44.49,164.19 44.87,164.42 45.24,164.63 45.62,164.81 45.99,164.98 46.37,165.13 46.74,165.27 47.12,165.39 47.49,165.5 47.87,165.61 48.24,165.71 48.62,165.81 48.99,165.91 49.37,166.01 49.74,166.11 50.12,166.21 50.49,166.31 50.87,166.41 51.24,166.5 51.62,166.57 51.99,166.63 52.37,166.68 52.74,166.72 53.12,166.75 53.49,166.76 53.87,166.77 54.24,166.76 54.62,166.74 54.99,166.71 55.37,166.67 55.74,166.61 56.12,166.55 56.49,166.47 56.87,166.38 57.24,166.28 57.62,166.17 57.99,166.04 58.37,165.91 58.74,165.76 59.12,165.61 59.49,165.44 59.86,165.26 60.24,165.07 60.61,164.87 60.99,164.66 61.36,164.44 61.74,164.21 62.11,163.97 62.49,163.72 62.86,163.46 63.24,163.19 63.61,162.91 63.99,162.62 64.36,162.32 64.74,162.02 65.11,161.7 65.49,161.38 65.86,161.05 66.24,160.7 66.61,160.36 66.99,160 67.36,159.64 67.74,159.27 68.11,158.89 68.49,158.5 68.86,158.11 69.24,157.72 69.61,157.31 69.99,156.9 70.36,156.49 70.74,156.07 71.11,155.65 71.49,155.22 71.86,154.78 72.24,154.34 72.61,153.9 72.99,153.46 73.36,153.01 73.74,152.56 74.11,152.1 74.48,151.64 74.86,151.18 75.23,150.72 75.61,150.26 75.98,149.8 76.36,149.33 76.73,148.86 77.11,148.4 77.48,147.93 77.86,147.46 78.23,147 78.61,146.53 78.98,146.07 79.36,145.6 79.73,145.14 80.11,144.68 80.48,144.22 80.86,143.77 81.23,143.31 81.61,142.86 81.98,142.42 82.36,141.97 82.73,141.54 83.11,141.1 83.48,140.67 83.86,140.24 84.23,139.82 84.61,139.41 84.98,138.99 85.36,138.59 85.73,138.19 86.11,137.8 86.48,137.41 86.86,137.03 87.23,136.66 87.61,136.29 87.98,135.93 88.36,135.58 88.73,135.24 89.11,134.91 89.48,134.58 89.85,134.26 90.23,133.95 90.6,133.65 90.98,133.36 91.35,133.08 91.73,132.8 92.1,132.54 92.48,132.29 92.85,132.04 93.23,131.81 93.6,131.58 93.98,131.37 94.35,131.17 94.73,130.97 95.1,130.79 95.48,130.62 95.85,130.46 96.23,130.31 96.6,130.17 96.98,130.05 97.35,129.93 97.73,129.83 98.1,129.74 98.48,129.65 98.85,129.58 99.23,129.53 99.6,129.48 99.98,129.44 100.35,129.42 100.73,129.41 101.1,129.41 101.48,129.42 101.85,129.44 102.23,129.48 102.6,129.53 102.98,129.58 103.35,129.65 103.73,129.74 104.1,129.83 104.47,129.93 104.85,130.05 105.22,130.18 105.6,130.31 105.97,130.46 106.35,130.62 106.72,130.79 107.1,130.98 107.47,131.17 107.85,131.37 108.22,131.59 108.6,131.81 108.97,132.04 109.35,132.29 109.72,132.54 110.1,132.8 110.47,133.08 110.85,133.36 111.22,133.65 111.6,133.95 111.97,134.26 112.35,134.58 112.72,134.91 113.1,135.24 113.47,135.59 113.85,135.94 114.22,136.3 114.6,136.66 114.97,137.03 115.35,137.41 115.72,137.8 116.1,138.19 116.47,138.59 116.85,139 117.22,139.41 117.6,139.83 117.97,140.25 118.35,140.67 118.72,141.1 119.1,141.54 119.47,141.98 119.84,142.42 120.22,142.87 120.59,143.32 120.97,143.77 121.34,144.23 121.72,144.68 122.09,145.15 122.47,145.61 122.84,146.07 123.22,146.54 123.59,147 123.97,147.47 124.34,147.93 124.72,148.4 125.09,148.87 125.47,149.33 125.84,149.8 126.22,150.26 126.59,150.73 126.97,151.19 127.34,151.65 127.72,152.11 128.09,152.56 128.47,153.01 128.84,153.46 129.22,153.91 129.59,154.35 129.97,154.79 130.34,155.22 130.72,155.65 131.09,156.07 131.47,156.49 131.84,156.91 132.22,157.32 132.59,157.72 132.97,158.12 133.34,158.51 133.72,158.89 134.09,159.27 134.46,159.64 134.84,160 135.21,160.36 135.59,160.71 135.96,161.05 136.34,161.38 136.71,161.7 137.09,162.02 137.46,162.33 137.84,162.62 138.21,162.91 138.59,163.19 138.96,163.46 139.34,163.72 139.71,163.97 140.09,164.21 140.46,164.44 140.84,164.66 141.21,164.87 141.59,165.07 141.96,165.26 142.34,165.44 142.71,165.61 143.09,165.77 143.46,165.91 143.84,166.04 144.21,166.17 144.59,166.28 144.96,166.38 145.34,166.47 145.71,166.55 146.09,166.61 146.46,166.67 146.84,166.71 147.21,166.74 147.59,166.76 147.96,166.77 148.34,166.76 148.71,166.75 149.09,166.72 149.46,166.68 149.83,166.63 150.21,166.57 150.58,166.49 150.96,166.41 151.33,166.31 151.71,166.2 152.08,166.09 152.46,165.95 152.83,165.81 153.21,165.66 153.58,165.5 153.96,165.32 154.33,165.14 154.71,164.94 155.08,164.73 155.46,164.52 155.83,164.29 156.21,164.05 156.58,163.8 156.96,163.55 157.33,163.28 157.71,163 158.08,162.72 158.46,162.42 158.83,162.12 159.21,161.81 159.58,161.48 159.96,161.15 160.33,160.82 160.71,160.47 161.08,160.12 161.46,159.76 161.83,159.39 162.21,159.01 162.58,158.63 162.96,158.24 163.33,157.85 163.71,157.45 164.08,157.04 164.45,156.63 164.83,156.21 165.2,155.79 165.58,155.36 165.95,154.93 166.33,154.49 166.7,154.05 167.08,153.6 167.45,153.16 167.83,152.7 168.2,152.25 168.58,151.79 168.95,151.34 169.33,150.87 169.7,150.41 170.08,149.95 170.45,149.48 170.83,149.02 171.2,148.55 171.58,148.08 171.95,147.62 172.33,147.15 172.7,146.68 173.08,146.22 173.45,145.75 173.83,145.29 174.2,144.83 174.58,144.37 174.95,143.92 175.33,143.46 175.7,143.01 176.08,142.56 176.45,142.12 176.83,141.68 177.2,141.24 177.58,140.81 177.95,140.38 178.33,139.96 178.7,139.54 179.08,139.13 179.45,138.72 179.82,138.32 180.2,137.93 180.57,137.54 180.95,137.15 181.32,136.78 181.7,136.41 182.07,136.05 182.45,135.7 182.82,135.35 183.2,135.01 183.57,134.68 183.95,134.36 184.32,134.05 184.7,133.75 185.07,133.45 185.45,133.17 185.82,132.89 186.2,132.62 186.57,132.37 186.95,132.12 187.32,131.88 187.7,131.66 188.07,131.44 188.45,131.23 188.82,131.04 189.2,130.85 189.57,130.68 189.95,130.51 190.32,130.36 190.7,130.22 191.07,130.09 191.45,129.97 191.82,129.86 192.2,129.76 192.57,129.68 192.95,129.61 193.32,129.54 193.7,129.49 194.07,129.45 194.44,129.43 194.82,129.41 195.19,129.41 195.57,129.42 195.94,129.44 196.32,129.47 196.69,129.51 197.07,129.56 197.44,129.63 197.82,129.71 198.19,129.8 198.57,129.9 198.94,130.01 199.32,130.13 199.69,130.27 200.07,130.41 200.44,130.57 200.82,130.74 201.19,130.92 201.57,131.1 201.94,131.3 202.32,131.51 202.69,131.73 203.07,131.97 203.44,132.21 203.82,132.46 204.19,132.72 204.57,132.99 204.94,133.27 205.32,133.56 205.69,133.85 206.07,134.16 206.44,134.48 206.82,134.8 207.19,135.13 207.57,135.47 207.94,135.82 208.32,136.18 208.69,136.54 209.07,136.91 209.44,137.29 209.81,137.67 210.19,138.06 210.56,138.46 210.94,138.86 211.31,139.27 211.69,139.69 212.06,140.11 212.44,140.53 212.81,140.96 213.19,141.4 213.56,141.83 213.94,142.28 214.31,142.72 214.69,143.17 215.06,143.62 215.44,144.08 215.81,144.53 216.19,144.99 216.56,145.46 216.94,145.92 217.31,146.38 217.69,146.85 218.06,147.31 218.44,147.78 218.81,148.25 219.19,148.72 219.56,149.18 219.94,149.65 220.31,150.11 220.69,150.58 221.06,151.04 221.44,151.5 221.81,151.96 222.19,152.41 222.56,152.86 222.94,153.31 223.31,153.76 223.69,154.2 224.06,154.64 224.44,155.08 224.81,155.51 225.18,155.94 225.56,156.36 225.93,156.77 226.31,157.18 226.68,157.59 227.06,157.99 227.43,158.38 227.81,158.77 228.18,159.15 228.56,159.52 228.93,159.89 229.31,160.24 229.68,160.59 230.06,160.94 230.43,161.27 230.81,161.6 231.18,161.92 231.56,162.23 231.93,162.53 232.31,162.82 232.68,163.1 233.06,163.37 233.43,163.64 233.81,163.89 234.18,164.14 234.56,164.37 234.93,164.59 235.31,164.81 235.68,165.01 236.06,165.2 236.43,165.38 236.81,165.56 237.18,165.72 237.56,165.86 237.93,166 238.31,166.13 238.68,166.24 239.06,166.35 239.43,166.44 239.8,166.52 240.18,166.59 240.55,166.65 240.93,166.7 241.3,166.73 241.68,166.75 242.05,166.77 242.43,166.77 242.8,166.75 243.18,166.73 243.55,166.69 243.93,166.65 244.3,166.59 244.68,166.52 245.05,166.44 245.43,166.35 245.8,166.24 246.18,166.13 246.55,166 246.93,165.86 247.3,165.71 247.68,165.55 248.05,165.38 248.43,165.2 248.8,165 249.18,164.8 249.55,164.59 249.93,164.36 250.3,164.13 250.68,163.89 251.05,163.63 251.43,163.37 251.8,163.09 252.18,162.81 252.55,162.52 252.93,162.22 253.3,161.91 253.68,161.59 254.05,161.26 254.43,160.93 254.8,160.59 255.17,160.23 255.55,159.88 255.92,159.51 256.3,159.14 256.67,158.76 257.05,158.37 257.42,157.98 257.8,157.58 258.17,157.17 258.55,156.76 258.92,156.35 259.3,155.92 259.67,155.5 260.05,155.07 260.42,154.63 260.8,154.19 261.17,153.75 261.55,153.3 261.92,152.85 262.3,152.4 262.67,151.94 263.05,151.49 263.42,151.03 263.8,150.56 264.17,150.1 264.55,149.64 264.92,149.17 265.3,148.7 265.67,148.24 266.05,147.77 266.42,147.3 266.8,146.84 267.17,146.37 267.55,145.91 267.92,145.44 268.3,144.98 268.67,144.52 269.05,144.07 269.42,143.61 269.79,143.16 270.17,142.71 270.54,142.26 270.92,141.82 271.29,141.38 271.67,140.95 272.04,140.52 272.42,140.1 272.79,139.68 273.17,139.26 273.54,138.85 273.92,138.45 274.29,138.05 274.67,137.66 275.04,137.28 275.42,136.9 275.79,136.53 276.17,136.17 276.54,135.81 276.92,135.46 277.29,135.12 277.67,134.79 278.04,134.47 278.42,134.15 278.79,133.85 279.17,133.55 279.54,133.26 279.92,132.98 280.29,132.71 280.67,132.45 281.04,132.2 281.42,131.96 281.79,131.73 282.17,131.51 282.54,131.3 282.92,131.1 283.29,130.91 283.67,130.73 284.04,130.56 284.41,130.41 284.79,130.26 285.16,130.13 285.54,130.01 285.91,129.89 286.29,129.79 286.66,129.71 287.04,129.63 287.41,129.56 287.79,129.51 288.16,129.47 288.54,129.44 288.91,129.42 289.29,129.41 289.66,129.41 290.04,129.43 290.41,129.46 290.79,129.49 291.16,129.55 291.54,129.61 291.91,129.68 292.29,129.77 292.66,129.86 293.04,129.97 293.41,130.09 293.79,130.22 294.16,130.36 294.54,130.52 294.91,130.68 295.29,130.86 295.66,131.04 296.04,131.24 296.41,131.44 296.79,131.66 297.16,131.89 297.54,132.13 297.91,132.37 298.29,132.63 298.66,132.9 299.04,133.17 299.41,133.46 299.78,133.76 300.16,134.06 300.53,134.37 300.91,134.69 301.28,135.02 301.66,135.36 302.03,135.71 302.41,136.06 302.78,136.42 303.16,136.79 303.53,137.16 303.91,137.55 304.28,137.94 304.66,138.33 305.03,138.73 305.41,139.14 305.78,139.55 306.16,139.97 306.53,140.39 306.91,140.82 307.28,141.25 307.66,141.69 308.03,142.13 308.41,142.58 308.78,143.02 309.16,143.47 309.53,143.93 309.91,144.38 310.28,144.84 310.66,145.3 311.03,145.77 311.41,146.23 311.78,146.7 312.16,147.16 312.53,147.63 312.91,148.1 313.28,148.56 313.66,149.03 314.03,149.5 314.4,149.96 314.78,150.42 315.15,150.89 315.53,151.35 315.9,151.81 316.28,152.26 316.65,152.72 317.03,153.17 317.4,153.62 317.78,154.06 318.15,154.5 318.53,154.94 318.9,155.37 319.28,155.8 319.65,156.22 320.03,156.64 320.4,157.05 320.78,157.46 321.15,157.86 321.53,158.25 321.9,158.64 322.28,159.02 322.65,159.4 323.03,159.77 323.4,160.13 323.78,160.48 324.15,160.83 324.53,161.16 324.9,161.49 325.28,161.81 325.65,162.13 326.03,162.43 326.4,162.72 326.78,163.01 327.15,163.29 327.53,163.55 327.9,163.81 328.28,164.06 328.65,164.29 329.03,164.52 329.4,164.74" fill="none" stroke="#ff0000" stroke-width="1.3" stroke-linejoin="round" />
<polyline points="29.5,148.09 29.87,95.39 30.25,62.47 30.62,63.26 31,84.71 31.37,114.76 31.75,142.65 32.12,157.64 32.5,157.65 32.87,155.98 33.25,153.69 33.62,151.41 34,149.73 34.37,149.24 34.75,149.31 35.12,149.48 35.5,149.73 35.87,150.03 36.25,150.38 36.62,150.75 37,151.13 37.37,151.5 37.75,151.85 38.12,152.15 38.5,152.4 38.87,152.61 39.25,152.81 39.62,153.02 40,153.22 40.37,153.42 40.75,153.61 41.12,153.8 41.5,153.98 41.87,154.15 42.25,154.32 42.62,154.47 43,154.62 43.37,154.77 43.75,154.9 44.12,155.03 44.49,155.15 44.87,155.26 45.24,155.37 45.62,155.48 45.99,155.58 46.37,155.68 46.74,155.77 47.12,155.87 47.49,155.96 47.87,156.04 48.24,156.12 48.62,156.2 48.99,156.27 49.37,156.33 49.74,156.39 50.12,156.45 50.49,156.5 50.87,156.54 51.24,156.58 51.62,156.62 51.99,156.65 52.37,156.67 52.74,156.69 53.12,156.7 53.49,156.71 53.87,156.71 54.24,156.71 54.62,156.7 54.99,156.68 55.37,156.66 55.74,156.64 56.12,156.61 56.49,156.57 56.87,156.53 57.24,156.48 57.62,156.43 57.99,156.37 58.37,156.31 58.74,156.25 59.12,156.17 59.49,156.1 59.86,156.01 60.24,155.93 60.61,155.83 60.99,155.74 61.36,155.64 61.74,155.53 62.11,155.42 62.49,155.3 62.86,155.18 63.24,155.06 63.61,154.93 63.99,154.8 64.36,154.66 64.74,154.52 65.11,154.37 65.49,154.22 65.86,154.07 66.24,153.91 66.61,153.75 66.99,153.59 67.36,153.42 67.74,153.25 68.11,153.07 68.49,152.9 68.86,152.72 69.24,152.53 69.61,152.35 69.99,152.16 70.36,151.97 70.74,151.77 71.11,151.58 71.49,151.38 71.86,151.18 72.24,150.98 72.61,150.77 72.99,150.57 73.36,150.36 73.74,150.15 74.11,149.94 74.48,149.73 74.86,149.52 75.23,149.3 75.61,149.09 75.98,148.88 76.36,148.66 76.73,148.45 77.11,148.23 77.48,148.02 77.86,147.8 78.23,147.58 78.61,147.37 78.98,147.15 79.36,146.94 79.73,146.73 80.11,146.52 80.48,146.3 80.86,146.09 81.23,145.88 81.61,145.68 81.98,145.47 82.36,145.27 82.73,145.06 83.11,144.86 83.48,144.66 83.86,144.47 84.23,144.27 84.61,144.08 84.98,143.89 85.36,143.7 85.73,143.52 86.11,143.34 86.48,143.16 86.86,142.98 87.23,142.81 87.61,142.64 87.98,142.48 88.36,142.32 88.73,142.16 89.11,142 89.48,141.85 89.85,141.71 90.23,141.56 90.6,141.42 90.98,141.29 91.35,141.16 91.73,141.03 92.1,140.91 92.48,140.79 92.85,140.68 93.23,140.57 93.6,140.47 93.98,140.37 94.35,140.28 94.73,140.19 95.1,140.11 95.48,140.03 95.85,139.95 96.23,139.88 96.6,139.82 96.98,139.76 97.35,139.71 97.73,139.66 98.1,139.62 98.48,139.58 98.85,139.55 99.23,139.52 99.6,139.5 99.98,139.48 100.35,139.47 100.73,139.47 101.1,139.47 101.48,139.47 101.85,139.48 102.23,139.5 102.6,139.52 102.98,139.55 103.35,139.58 103.73,139.62 104.1,139.66 104.47,139.71 104.85,139.76 105.22,139.82 105.6,139.88 105.97,139.95 106.35,140.03 106.72,140.11 107.1,140.19 107.47,140.28 107.85,140.37 108.22,140.47 108.6,140.57 108.97,140.68 109.35,140.8 109.72,140.91 110.1,141.03 110.47,141.16 110.85,141.29 111.22,141.43 111.6,141.56 111.97,141.71 112.35,141.85 112.72,142 113.1,142.16 113.47,142.32 113.85,142.48 114.22,142.65 114.6,142.81 114.97,142.99 115.35,143.16 115.72,143.34 116.1,143.52 116.47,143.71 116.85,143.89 117.22,144.08 117.6,144.27 117.97,144.47 118.35,144.67 118.72,144.86 119.1,145.07 119.47,145.27 119.84,145.47 120.22,145.68 120.59,145.89 120.97,146.1 121.34,146.31 121.72,146.52 122.09,146.73 122.47,146.94 122.84,147.16 123.22,147.37 123.59,147.59 123.97,147.8 124.34,148.02 124.72,148.23 125.09,148.45 125.47,148.66 125.84,148.88 126.22,149.09 126.59,149.31 126.97,149.52 127.34,149.73 127.72,149.94 128.09,150.15 128.47,150.36 128.84,150.57 129.22,150.77 129.59,150.98 129.97,151.18 130.34,151.38 130.72,151.58 131.09,151.77 131.47,151.97 131.84,152.16 132.22,152.35 132.59,152.53 132.97,152.72 133.34,152.9 133.72,153.07 134.09,153.25 134.46,153.42 134.84,153.59 135.21,153.75 135.59,153.91 135.96,154.07 136.34,154.22 136.71,154.37 137.09,154.52 137.46,154.66 137.84,154.8 138.21,154.93 138.59,155.06 138.96,155.18 139.34,155.3 139.71,155.42 140.09,155.53 140.46,155.64 140.84,155.74 141.21,155.84 141.59,155.93 141.96,156.01 142.34,156.1 142.71,156.17 143.09,156.25 143.46,156.31 143.84,156.38 144.21,156.43 144.59,156.48 144.96,156.53 145.34,156.57 145.71,156.61 146.09,156.64 146.46,156.66 146.84,156.68 147.21,156.7 147.59,156.71 147.96,156.71 148.34,156.71 148.71,156.7 149.09,156.69 149.46,156.67 149.83,156.65 150.21,156.62 150.58,156.58 150.96,156.54 151.33,156.5 151.71,156.45 152.08,156.39 152.46,156.33 152.83,156.27 153.21,156.2 153.58,156.12 153.96,156.04 154.33,155.96 154.71,155.87 155.08,155.77 155.46,155.67 155.83,155.56 156.21,155.46 156.58,155.34 156.96,155.22 157.33,155.1 157.71,154.97 158.08,154.84 158.46,154.7 158.83,154.56 159.21,154.42 159.58,154.27 159.96,154.12 160.33,153.96 160.71,153.8 161.08,153.64 161.46,153.47 161.83,153.3 162.21,153.13 162.58,152.95 162.96,152.77 163.33,152.59 163.71,152.41 164.08,152.22 164.45,152.03 164.83,151.84 165.2,151.64 165.58,151.44 165.95,151.24 166.33,151.04 166.7,150.84 167.08,150.63 167.45,150.43 167.83,150.22 168.2,150.01 168.58,149.8 168.95,149.59 169.33,149.37 169.7,149.16 170.08,148.95 170.45,148.73 170.83,148.52 171.2,148.3 171.58,148.09 171.95,147.87 172.33,147.65 172.7,147.44 173.08,147.22 173.45,147.01 173.83,146.8 174.2,146.58 174.58,146.37 174.95,146.16 175.33,145.95 175.7,145.74 176.08,145.54 176.45,145.33 176.83,145.13 177.2,144.93 177.58,144.73 177.95,144.53 178.33,144.34 178.7,144.14 179.08,143.95 179.45,143.76 179.82,143.58 180.2,143.4 180.57,143.22 180.95,143.04 181.32,142.87 181.7,142.7 182.07,142.53 182.45,142.37 182.82,142.21 183.2,142.05 183.57,141.9 183.95,141.75 184.32,141.61 184.7,141.47 185.07,141.33 185.45,141.2 185.82,141.07 186.2,140.95 186.57,140.83 186.95,140.72 187.32,140.61 187.7,140.5 188.07,140.4 188.45,140.31 188.82,140.22 189.2,140.13 189.57,140.05 189.95,139.98 190.32,139.91 190.7,139.84 191.07,139.78 191.45,139.72 191.82,139.68 192.2,139.63 192.57,139.59 192.95,139.56 193.32,139.53 193.7,139.51 194.07,139.49 194.44,139.48 194.82,139.47 195.19,139.47 195.57,139.47 195.94,139.48 196.32,139.49 196.69,139.51 197.07,139.54 197.44,139.57 197.82,139.6 198.19,139.65 198.57,139.69 198.94,139.74 199.32,139.8 199.69,139.86 200.07,139.93 200.44,140 200.82,140.08 201.19,140.16 201.57,140.25 201.94,140.34 202.32,140.44 202.69,140.54 203.07,140.65 203.44,140.76 203.82,140.87 204.19,140.99 204.57,141.12 204.94,141.25 205.32,141.38 205.69,141.52 206.07,141.66 206.44,141.81 206.82,141.96 207.19,142.11 207.57,142.27 207.94,142.43 208.32,142.59 208.69,142.76 209.07,142.93 209.44,143.1 209.81,143.28 210.19,143.46 210.56,143.64 210.94,143.83 211.31,144.02 211.69,144.21 212.06,144.4 212.44,144.6 212.81,144.8 213.19,145 213.56,145.2 213.94,145.41 214.31,145.61 214.69,145.82 215.06,146.03 215.44,146.24 215.81,146.45 216.19,146.66 216.56,146.87 216.94,147.09 217.31,147.3 217.69,147.52 218.06,147.73 218.44,147.95 218.81,148.16 219.19,148.38 219.56,148.59 219.94,148.81 220.31,149.02 220.69,149.24 221.06,149.45 221.44,149.66 221.81,149.87 222.19,150.08 222.56,150.29 222.94,150.5 223.31,150.71 223.69,150.91 224.06,151.11 224.44,151.31 224.81,151.51 225.18,151.71 225.56,151.9 225.93,152.1 226.31,152.29 226.68,152.47 227.06,152.66 227.43,152.84 227.81,153.02 228.18,153.19 228.56,153.36 228.93,153.53 229.31,153.7 229.68,153.86 230.06,154.02 230.43,154.17 230.81,154.32 231.18,154.47 231.56,154.61 231.93,154.75 232.31,154.89 232.68,155.02 233.06,155.14 233.43,155.26 233.81,155.38 234.18,155.49 234.56,155.6 234.93,155.71 235.31,155.8 235.68,155.9 236.06,155.99 236.43,156.07 236.81,156.15 237.18,156.22 237.56,156.29 237.93,156.36 238.31,156.41 238.68,156.47 239.06,156.52 239.43,156.56 239.8,156.6 240.18,156.63 240.55,156.65 240.93,156.68 241.3,156.69 241.68,156.7 242.05,156.71 242.43,156.71 242.8,156.7 243.18,156.69 243.55,156.68 243.93,156.65 244.3,156.63 244.68,156.59 245.05,156.56 245.43,156.51 245.8,156.47 246.18,156.41 246.55,156.35 246.93,156.29 247.3,156.22 247.68,156.15 248.05,156.07 248.43,155.98 248.8,155.9 249.18,155.8 249.55,155.7 249.93,155.6 250.3,155.49 250.68,155.38 251.05,155.26 251.43,155.14 251.8,155.01 252.18,154.88 252.55,154.75 252.93,154.61 253.3,154.47 253.68,154.32 254.05,154.17 254.43,154.01 254.8,153.86 255.17,153.69 255.55,153.53 255.92,153.36 256.3,153.19 256.67,153.01 257.05,152.83 257.42,152.65 257.8,152.47 258.17,152.28 258.55,152.09 258.92,151.9 259.3,151.7 259.67,151.51 260.05,151.31 260.42,151.11 260.8,150.91 261.17,150.7 261.55,150.49 261.92,150.29 262.3,150.08 262.67,149.87 263.05,149.66 263.42,149.44 263.8,149.23 264.17,149.02 264.55,148.8 264.92,148.59 265.3,148.37 265.67,148.16 266.05,147.94 266.42,147.73 266.8,147.51 267.17,147.3 267.55,147.08 267.92,146.87 268.3,146.65 268.67,146.44 269.05,146.23 269.42,146.02 269.79,145.81 270.17,145.61 270.54,145.4 270.92,145.2 271.29,144.99 271.67,144.79 272.04,144.6 272.42,144.4 272.79,144.21 273.17,144.01 273.54,143.83 273.92,143.64 274.29,143.46 274.67,143.28 275.04,143.1 275.42,142.92 275.79,142.75 276.17,142.59 276.54,142.42 276.92,142.26 277.29,142.1 277.67,141.95 278.04,141.8 278.42,141.66 278.79,141.51 279.17,141.38 279.54,141.24 279.92,141.11 280.29,140.99 280.67,140.87 281.04,140.75 281.42,140.64 281.79,140.54 282.17,140.44 282.54,140.34 282.92,140.25 283.29,140.16 283.67,140.08 284.04,140 284.41,139.93 284.79,139.86 285.16,139.8 285.54,139.74 285.91,139.69 286.29,139.64 286.66,139.6 287.04,139.57 287.41,139.54 287.79,139.51 288.16,139.49 288.54,139.48 288.91,139.47 289.29,139.47 289.66,139.47 290.04,139.48 290.41,139.49 290.79,139.51 291.16,139.53 291.54,139.56 291.91,139.59 292.29,139.63 292.66,139.68 293.04,139.73 293.41,139.78 293.79,139.84 294.16,139.91 294.54,139.98 294.91,140.05 295.29,140.13 295.66,140.22 296.04,140.31 296.41,140.41 296.79,140.51 297.16,140.61 297.54,140.72 297.91,140.84 298.29,140.95 298.66,141.08 299.04,141.2 299.41,141.34 299.78,141.47 300.16,141.61 300.53,141.76 300.91,141.91 301.28,142.06 301.66,142.21 302.03,142.37 302.41,142.54 302.78,142.7 303.16,142.87 303.53,143.05 303.91,143.22 304.28,143.4 304.66,143.58 305.03,143.77 305.41,143.96 305.78,144.15 306.16,144.34 306.53,144.54 306.91,144.73 307.28,144.93 307.66,145.13 308.03,145.34 308.41,145.54 308.78,145.75 309.16,145.96 309.53,146.17 309.91,146.38 310.28,146.59 310.66,146.8 311.03,147.02 311.41,147.23 311.78,147.45 312.16,147.66 312.53,147.88 312.91,148.09 313.28,148.31 313.66,148.52 314.03,148.74 314.4,148.95 314.78,149.17 315.15,149.38 315.53,149.59 315.9,149.8 316.28,150.01 316.65,150.22 317.03,150.43 317.4,150.64 317.78,150.84 318.15,151.05 318.53,151.25 318.9,151.45 319.28,151.65 319.65,151.84 320.03,152.03 320.4,152.22 320.78,152.41 321.15,152.6 321.53,152.78 321.9,152.96 322.28,153.13 322.65,153.31 323.03,153.48 323.4,153.64 323.78,153.81 324.15,153.97 324.53,154.12 324.9,154.27 325.28,154.42 325.65,154.57 326.03,154.71 326.4,154.84 326.78,154.97 327.15,155.1 327.53,155.23 327.9,155.34 328.28,155.46 328.65,155.57 329.03,155.67 329.4,155.77" fill="none" stroke="#0000ff" stroke-width="1.3" stroke-linejoin="round" />
<polyline points="381.2,131.89 381.57,73.11 381.94,26.08 382.32,20.78 382.69,21.83 383.06,23.8 383.43,26.61 383.8,30.21 384.17,34.54 384.55,39.56 384.92,45.19 385.29,51.39 385.66,58.1 386.03,65.26 386.4,72.82 386.78,80.72 387.15,88.89 387.52,97.3 387.89,105.87 388.26,114.56 388.63,123.3 389.01,132.05 389.38,140.73 389.75,149.31 390.12,157.71 390.49,165.89 390.87,173.79 391.24,181.34 391.61,188.51 391.98,195.21 392.35,201.41 392.72,207.05 393.1,212.06 393.47,216.4 393.84,220 394.21,222.81 394.58,224.77 394.95,225.83 395.33,225.96 395.7,225.51 396.07,224.6 396.44,223.28 396.81,221.59 397.19,219.6 397.56,217.35 397.93,214.88 398.3,212.25 398.67,209.51 399.04,206.71 399.42,203.89 399.79,201.11 400.16,198.25 400.53,194.78 400.9,190.73 401.27,186.23 401.65,181.41 402.02,176.39 402.39,171.29 402.76,166.25 403.13,161.38 403.5,156.81 403.88,152.66 404.25,149.07 404.62,146.14 404.99,144.02 405.36,142.43 405.74,141.01 406.11,139.74 406.48,138.6 406.85,137.56 407.22,136.6 407.59,135.71 407.97,134.85 408.34,134 408.71,133.14 409.08,132.24 409.45,131.3 409.82,130.27 410.2,129.16 410.57,128.12 410.94,127.19 411.31,126.32 411.68,125.49 412.06,124.7 412.43,123.92 412.8,123.13 413.17,122.31 413.54,121.47 413.91,120.58 414.29,119.64 414.66,118.64 415.03,117.59 415.4,116.47 415.77,115.28 416.14,114.03 416.52,112.72 416.89,111.35 417.26,109.94 417.63,108.49 418,107 418.38,105.5 418.75,103.99 419.12,102.47 419.49,100.96 419.86,99.46 420.23,97.99 420.61,96.57 420.98,95.2 421.35,93.88 421.72,92.61 422.09,91.4 422.46,90.24 422.84,89.14 423.21,88.11 423.58,87.13 423.95,86.22 424.32,85.37 424.69,84.59 425.07,83.87 425.44,83.22 425.81,82.64 426.18,82.13 426.55,81.69 426.93,81.32 427.3,81.02 427.67,80.79 428.04,80.64 428.41,80.55 428.78,80.54 429.16,80.6 429.53,80.73 429.9,80.94 430.27,81.21 430.64,81.56 431.01,81.98 431.39,82.47 431.76,83.03 432.13,83.65 432.5,84.35 432.87,85.11 433.25,85.93 433.62,86.83 433.99,87.78 434.36,88.8 434.73,89.87 435.1,91.01 435.48,92.21 435.85,93.46 436.22,94.76 436.59,96.12 436.96,97.52 437.33,98.98 437.71,100.48 438.08,102.02 438.45,103.61 438.82,105.24 439.19,106.9 439.56,108.6 439.94,110.33 440.31,112.1 440.68,113.89 441.05,115.7 441.42,117.54 441.8,119.4 442.17,121.27 442.54,123.17 442.91,125.07 443.28,126.98 443.65,128.9 444.03,130.83 444.4,132.75 444.77,134.68 445.14,136.6 445.51,138.51 445.88,140.41 446.26,142.31 446.63,144.18 447,146.05 447.37,147.89 447.74,149.7 448.12,151.5 448.49,153.26 448.86,155 449.23,156.7 449.6,158.37 449.97,160 450.35,161.59 450.72,163.14 451.09,164.65 451.46,166.11 451.83,167.52 452.2,168.88 452.58,170.19 452.95,171.44 453.32,172.64 453.69,173.79 454.06,174.87 454.43,175.89 454.81,176.85 455.18,177.75 455.55,178.59 455.92,179.35 456.29,180.06 456.67,180.69 457.04,181.25 457.41,181.75 457.78,182.17 458.15,182.53 458.52,182.81 458.9,183.02 459.27,183.16 459.64,183.23 460.01,183.23 460.38,183.15 460.75,183 461.13,182.78 461.5,182.49 461.87,182.13 462.24,181.69 462.61,181.19 462.99,180.62 463.36,179.97 463.73,179.27 464.1,178.49 464.47,177.65 464.84,176.74 465.22,175.77 465.59,174.74 465.96,173.65 466.33,172.5 466.7,171.3 467.07,170.03 467.45,168.72 467.82,167.35 468.19,165.93 468.56,164.47 468.93,162.96 469.3,161.4 469.68,159.81 470.05,158.17 470.42,156.5 470.79,154.79 471.16,153.05 471.54,151.28 471.91,149.49 472.28,147.66 472.65,145.82 473.02,143.96 473.39,142.08 473.77,140.18 474.14,138.28 474.51,136.36 474.88,134.44 475.25,132.52 475.62,130.59 476,128.67 476.37,126.75 476.74,124.84 477.11,122.94 477.48,121.05 477.86,119.17 478.23,117.32 478.6,115.48 478.97,113.67 479.34,111.88 479.71,110.12 480.09,108.39 480.46,106.7 480.83,105.04 481.2,103.42 481.57,101.83 481.94,100.29 482.32,98.8 482.69,97.35 483.06,95.95 483.43,94.6 483.8,93.3 484.17,92.06 484.55,90.87 484.92,89.74 485.29,88.67 485.66,87.66 486.03,86.71 486.41,85.83 486.78,85.01 487.15,84.26 487.52,83.57 487.89,82.95 488.26,82.4 488.64,81.92 489.01,81.52 489.38,81.18 489.75,80.91 490.12,80.71 490.49,80.59 490.87,80.54 491.24,80.56 491.61,80.65 491.98,80.82 492.35,81.05 492.73,81.36 493.1,81.74 493.47,82.19 493.84,82.71 494.21,83.3 494.58,83.95 494.96,84.68 495.33,85.47 495.7,86.33 496.07,87.25 496.44,88.23 496.81,89.27 497.19,90.38 497.56,91.54 497.93,92.76 498.3,94.03 498.67,95.36 499.04,96.74 499.42,98.17 499.79,99.64 500.16,101.16 500.53,102.73 500.9,104.33 501.28,105.98 501.65,107.66 502.02,109.37 502.39,111.12 502.76,112.89 503.13,114.7 503.51,116.52 503.88,118.37 504.25,120.24 504.62,122.12 504.99,124.02 505.36,125.93 505.74,127.84 506.11,129.76 506.48,131.69 506.85,133.61 507.22,135.54 507.6,137.46 507.97,139.37 508.34,141.26 508.71,143.15 509.08,145.02 509.45,146.87 509.83,148.7 510.2,150.51 510.57,152.29 510.94,154.04 511.31,155.77 511.68,157.45 512.06,159.11 512.43,160.72 512.8,162.29 513.17,163.82 513.54,165.31 513.91,166.75 514.29,168.13 514.66,169.47 515.03,170.76 515.4,171.99 515.77,173.16 516.15,174.28 516.52,175.34 516.89,176.33 517.26,177.27 517.63,178.13 518,178.94 518.38,179.68 518.75,180.35 519.12,180.95 519.49,181.48 519.86,181.95 520.23,182.34 520.61,182.67 520.98,182.92 521.35,183.1 521.72,183.2 522.09,183.24 522.47,183.2 522.84,183.09 523.21,182.91 523.58,182.66 523.95,182.34 524.32,181.94 524.7,181.48 525.07,180.94 525.44,180.34 525.81,179.66 526.18,178.93 526.55,178.12 526.93,177.25 527.3,176.32 527.67,175.32 528.04,174.26 528.41,173.14 528.78,171.97 529.16,170.74 529.53,169.45 529.9,168.11 530.27,166.72 530.64,165.28 531.02,163.8 531.39,162.26 531.76,160.69 532.13,159.08 532.5,157.42 532.87,155.74 533.25,154.01 533.62,152.26 533.99,150.48 534.36,148.67 534.73,146.84 535.1,144.99 535.48,143.12 535.85,141.23 536.22,139.33 536.59,137.42 536.96,135.5 537.34,133.58 537.71,131.66 538.08,129.73 538.45,127.81 538.82,125.89 539.19,123.98 539.57,122.09 539.94,120.2 540.31,118.34 540.68,116.49 541.05,114.66 541.42,112.86 541.8,111.09 542.17,109.34 542.54,107.63 542.91,105.95 543.28,104.31 543.65,102.7 544.03,101.14 544.4,99.62 544.77,98.14 545.14,96.71 545.51,95.34 545.89,94.01 546.26,92.74 546.63,91.52 547,90.36 547.37,89.25 547.74,88.21 548.12,87.23 548.49,86.31 548.86,85.46 549.23,84.67 549.6,83.94 549.97,83.29 550.35,82.7 550.72,82.18 551.09,81.73 551.46,81.35 551.83,81.05 552.21,80.81 552.58,80.65 552.95,80.56 553.32,80.54 553.69,80.59 554.06,80.72 554.44,80.91 554.81,81.18 555.18,81.52 555.55,81.93 555.92,82.41 556.29,82.96 556.67,83.58 557.04,84.27 557.41,85.03 557.78,85.85 558.15,86.73 558.52,87.68 558.9,88.69 559.27,89.76 559.64,90.89 560.01,92.08 560.38,93.32 560.76,94.62 561.13,95.97 561.5,97.37 561.87,98.82 562.24,100.32 562.61,101.86 562.99,103.44 563.36,105.07 563.73,106.73 564.1,108.42 564.47,110.15 564.84,111.91 565.22,113.7 565.59,115.51 565.96,117.35 566.33,119.21 566.7,121.08 567.08,122.97 567.45,124.87 567.82,126.78 568.19,128.7 568.56,130.63 568.93,132.55 569.31,134.48 569.68,136.4 570.05,138.31 570.42,140.22 570.79,142.11 571.16,143.99 571.54,145.85 571.91,147.7 572.28,149.52 572.65,151.31 573.02,153.08 573.39,154.82 573.77,156.53 574.14,158.2 574.51,159.83 574.88,161.43 575.25,162.98 575.63,164.49 576,165.96 576.37,167.37 576.74,168.74 577.11,170.06 577.48,171.32 577.86,172.52 578.23,173.67 578.6,174.76 578.97,175.79 579.34,176.76 579.71,177.66 580.09,178.5 580.46,179.28 580.83,179.99 581.2,180.63 581.57,181.2 581.95,181.7 582.32,182.13 582.69,182.5 583.06,182.79 583.43,183.01 583.8,183.15 584.18,183.23 584.55,183.23 584.92,183.16 585.29,183.02 585.66,182.81 586.03,182.52 586.41,182.17 586.78,181.74 587.15,181.24 587.52,180.68 587.89,180.04 588.26,179.34 588.64,178.57 589.01,177.74 589.38,176.84 589.75,175.88 590.12,174.85 590.5,173.77 590.87,172.62 591.24,171.42 591.61,170.17 591.98,168.86 592.35,167.49 592.73,166.08 593.1,164.62 593.47,163.11 593.84,161.56 594.21,159.97 594.58,158.34 594.96,156.67 595.33,154.97 595.7,153.23 596.07,151.47 596.44,149.67 596.82,147.85 597.19,146.01 597.56,144.15 597.93,142.27 598.3,140.38 598.67,138.48 599.05,136.56 599.42,134.64 599.79,132.72 600.16,130.79 600.53,128.87 600.9,126.95 601.28,125.04 601.65,123.13 602.02,121.24 602.39,119.37 602.76,117.51 603.13,115.67 603.51,113.85 603.88,112.06 604.25,110.3 604.62,108.57 604.99,106.87 605.37,105.21 605.74,103.58 606.11,101.99 606.48,100.45 606.85,98.95 607.22,97.5 607.6,96.09 607.97,94.74 608.34,93.43 608.71,92.18 609.08,90.99 609.45,89.86 609.83,88.78 610.2,87.76 610.57,86.81 610.94,85.92 611.31,85.09 611.69,84.33 612.06,83.64 612.43,83.01 612.8,82.46 613.17,81.97 613.54,81.55 613.92,81.21 614.29,80.93 614.66,80.73 615.03,80.6 615.4,80.54 615.77,80.55 616.15,80.64 616.52,80.8 616.89,81.03 617.26,81.33 617.63,81.7 618,82.14 618.38,82.65 618.75,83.23 619.12,83.88 619.49,84.6 619.86,85.39 620.24,86.23 620.61,87.15 620.98,88.12 621.35,89.16 621.72,90.26 622.09,91.42 622.47,92.63 622.84,93.9 623.21,95.22 623.58,96.6 623.95,98.02 624.32,99.49 624.7,101.01 625.07,102.57 625.44,104.17 625.81,105.81 626.18,107.48 626.56,109.19 626.93,110.94 627.3,112.71 627.67,114.51 628.04,116.33 628.41,118.18 628.79,120.04 629.16,121.93 629.53,123.82 629.9,125.73 630.27,127.64 630.64,129.57 631.02,131.49 631.39,133.42 631.76,135.34 632.13,137.26 632.5,139.17 632.87,141.07 633.25,142.96 633.62,144.83 633.99,146.68 634.36,148.52 634.73,150.33 635.11,152.11 635.48,153.87 635.85,155.59 636.22,157.28 636.59,158.94 636.96,160.55 637.34,162.13 637.71,163.67 638.08,165.16 638.45,166.6 638.82,167.99 639.19,169.34 639.57,170.63 639.94,171.86 640.31,173.04 640.68,174.17 641.05,175.23 641.42,176.23 641.8,177.17 642.17,178.05 642.54,178.86 642.91,179.6 643.28,180.28 643.66,180.89 644.03,181.43 644.4,181.9 644.77,182.31 645.14,182.64 645.51,182.89 645.89,183.08 646.26,183.2 646.63,183.24 647,183.21 647.37,183.11 647.74,182.93 648.12,182.69 648.49,182.37 648.86,181.99 649.23,181.53 649.6,181 649.98,180.4 650.35,179.74 650.72,179 651.09,178.21 651.46,177.34 651.83,176.41 652.21,175.42 652.58,174.37 652.95,173.26 653.32,172.09 653.69,170.87 654.06,169.58 654.44,168.25 654.81,166.87 655.18,165.43 655.55,163.95 655.92,162.42 656.3,160.86 656.67,159.24 657.04,157.6 657.41,155.91 657.78,154.19 658.15,152.44 658.53,150.66 658.9,148.86 659.27,147.03 659.64,145.18 660.01,143.31 660.38,141.43 660.76,139.53 661.13,137.62 661.5,135.7 661.87,133.78 662.24,131.85 662.61,129.93 662.99,128.01 663.36,126.09 663.73,124.18 664.1,122.28 664.47,120.4 664.85,118.53 665.22,116.68 665.59,114.85 665.96,113.05 666.33,111.27 666.7,109.52 667.08,107.8 667.45,106.12 667.82,104.47 668.19,102.86 668.56,101.3 668.93,99.77 669.31,98.29 669.68,96.86 670.05,95.48 670.42,94.14 670.79,92.87 671.16,91.64 671.54,90.47 671.91,89.37 672.28,88.32 672.65,87.33 673.02,86.4 673.4,85.54 673.77,84.74 674.14,84.01 674.51,83.35 674.88,82.76 675.25,82.23 675.63,81.78 676,81.39 676.37,81.08 676.74,80.83 677.11,80.66 677.48,80.56 677.86,80.54 678.23,80.58 678.6,80.7" fill="none" stroke="#edb120" stroke-width="1.3" stroke-linejoin="round" />
<polyline points="381.2,131.89 381.57,69.44 381.94,23.3 382.32,19.22 382.69,25.68 383.06,36.89 383.43,51.7 383.8,69 384.17,87.65 384.55,106.53 384.92,124.5 385.29,140.44 385.66,153.23 386.03,161.73 386.4,164.81 386.78,164.24 387.15,162.69 387.52,160.4 387.89,157.63 388.26,154.61 388.63,151.59 389.01,148.82 389.38,146.53 389.75,144.98 390.12,144.41 390.49,144.6 390.87,145.12 391.24,145.91 391.61,146.91 391.98,148.06 392.35,149.3 392.72,150.56 393.1,151.79 393.47,152.91 393.84,153.88 394.21,154.62 394.58,155.08 394.95,155.2 395.33,155.19 395.7,155.18 396.07,155.16 396.44,155.13 396.81,155.1 397.19,155.07 397.56,155.02 397.93,154.95 398.3,154.87 398.67,154.77 399.04,154.65 399.42,154.51 399.79,154.34 400.16,154.15 400.53,153.94 400.9,153.7 401.27,153.43 401.65,153.12 402.02,152.77 402.39,152.37 402.76,151.94 403.13,151.49 403.5,151.01 403.88,150.5 404.25,149.97 404.62,149.41 404.99,148.82 405.36,148.21 405.74,147.58 406.11,146.93 406.48,146.25 406.85,145.56 407.22,144.85 407.59,144.11 407.97,143.36 408.34,142.6 408.71,141.82 409.08,141.02 409.45,140.22 409.82,139.4 410.2,138.57 410.57,137.73 410.94,136.88 411.31,136.03 411.68,135.17 412.06,134.3 412.43,133.43 412.8,132.56 413.17,131.69 413.54,130.82 413.91,129.95 414.29,129.09 414.66,128.22 415.03,127.37 415.4,126.51 415.77,125.67 416.14,124.84 416.52,124.01 416.89,123.2 417.26,122.39 417.63,121.61 418,120.83 418.38,120.07 418.75,119.33 419.12,118.61 419.49,117.9 419.86,117.22 420.23,116.55 420.61,115.91 420.98,115.29 421.35,114.69 421.72,114.12 422.09,113.57 422.46,113.04 422.84,112.55 423.21,112.08 423.58,111.64 423.95,111.22 424.32,110.84 424.69,110.49 425.07,110.16 425.44,109.87 425.81,109.61 426.18,109.38 426.55,109.18 426.93,109.01 427.3,108.87 427.67,108.77 428.04,108.7 428.41,108.66 428.78,108.66 429.16,108.68 429.53,108.74 429.9,108.84 430.27,108.96 430.64,109.12 431.01,109.31 431.39,109.53 431.76,109.78 432.13,110.06 432.5,110.38 432.87,110.72 433.25,111.1 433.62,111.5 433.99,111.93 434.36,112.39 434.73,112.88 435.1,113.39 435.48,113.93 435.85,114.5 436.22,115.09 436.59,115.7 436.96,116.34 437.33,117 437.71,117.68 438.08,118.38 438.45,119.09 438.82,119.83 439.19,120.58 439.56,121.35 439.94,122.14 440.31,122.93 440.68,123.74 441.05,124.56 441.42,125.4 441.8,126.24 442.17,127.09 442.54,127.94 442.91,128.8 443.28,129.67 443.65,130.54 444.03,131.41 444.4,132.28 444.77,133.15 445.14,134.02 445.51,134.88 445.88,135.75 446.26,136.6 446.63,137.45 447,138.29 447.37,139.13 447.74,139.95 448.12,140.76 448.49,141.56 448.86,142.34 449.23,143.11 449.6,143.87 449.97,144.61 450.35,145.33 450.72,146.03 451.09,146.71 451.46,147.37 451.83,148.01 452.2,148.62 452.58,149.22 452.95,149.79 453.32,150.33 453.69,150.85 454.06,151.34 454.43,151.8 454.81,152.23 455.18,152.64 455.55,153.02 455.92,153.36 456.29,153.68 456.67,153.97 457.04,154.22 457.41,154.45 457.78,154.64 458.15,154.8 458.52,154.93 458.9,155.03 459.27,155.09 459.64,155.12 460.01,155.12 460.38,155.08 460.75,155.02 461.13,154.92 461.5,154.78 461.87,154.62 462.24,154.42 462.61,154.19 462.99,153.94 463.36,153.64 463.73,153.32 464.1,152.97 464.47,152.59 464.84,152.18 465.22,151.74 465.59,151.28 465.96,150.78 466.33,150.26 466.7,149.72 467.07,149.15 467.45,148.55 467.82,147.93 468.19,147.29 468.56,146.63 468.93,145.94 469.3,145.24 469.68,144.52 470.05,143.78 470.42,143.02 470.79,142.25 471.16,141.46 471.54,140.66 471.91,139.85 472.28,139.03 472.65,138.19 473.02,137.35 473.39,136.5 473.77,135.64 474.14,134.78 474.51,133.91 474.88,133.04 475.25,132.17 475.62,131.3 476,130.43 476.37,129.56 476.74,128.7 477.11,127.84 477.48,126.98 477.86,126.13 478.23,125.29 478.6,124.46 478.97,123.64 479.34,122.84 479.71,122.04 480.09,121.26 480.46,120.49 480.83,119.74 481.2,119.01 481.57,118.29 481.94,117.59 482.32,116.92 482.69,116.26 483.06,115.63 483.43,115.02 483.8,114.43 484.17,113.87 484.55,113.33 484.92,112.82 485.29,112.33 485.66,111.88 486.03,111.45 486.41,111.05 486.78,110.68 487.15,110.34 487.52,110.03 487.89,109.75 488.26,109.5 488.64,109.28 489.01,109.1 489.38,108.94 489.75,108.82 490.12,108.73 490.49,108.68 490.87,108.65 491.24,108.66 491.61,108.71 491.98,108.78 492.35,108.89 492.73,109.03 493.1,109.2 493.47,109.4 493.84,109.64 494.21,109.9 494.58,110.2 494.96,110.53 495.33,110.89 495.7,111.27 496.07,111.69 496.44,112.13 496.81,112.61 497.19,113.11 497.56,113.63 497.93,114.18 498.3,114.76 498.67,115.36 499.04,115.98 499.42,116.63 499.79,117.3 500.16,117.99 500.53,118.69 500.9,119.42 501.28,120.16 501.65,120.93 502.02,121.7 502.39,122.49 502.76,123.29 503.13,124.11 503.51,124.94 503.88,125.77 504.25,126.62 504.62,127.47 504.99,128.33 505.36,129.19 505.74,130.06 506.11,130.93 506.48,131.8 506.85,132.67 507.22,133.54 507.6,134.41 507.97,135.27 508.34,136.13 508.71,136.98 509.08,137.83 509.45,138.67 509.83,139.5 510.2,140.31 510.57,141.12 510.94,141.91 511.31,142.69 511.68,143.46 512.06,144.2 512.43,144.93 512.8,145.64 513.17,146.34 513.54,147.01 513.91,147.66 514.29,148.29 514.66,148.89 515.03,149.48 515.4,150.03 515.77,150.56 516.15,151.07 516.52,151.55 516.89,152 517.26,152.42 517.63,152.81 518,153.18 518.38,153.51 518.75,153.81 519.12,154.09 519.49,154.33 519.86,154.54 520.23,154.72 520.61,154.86 520.98,154.98 521.35,155.06 521.72,155.11 522.09,155.12 522.47,155.11 522.84,155.06 523.21,154.97 523.58,154.86 523.95,154.71 524.32,154.53 524.7,154.32 525.07,154.08 525.44,153.81 525.81,153.5 526.18,153.17 526.55,152.81 526.93,152.41 527.3,151.99 527.67,151.54 528.04,151.06 528.41,150.55 528.78,150.02 529.16,149.46 529.53,148.88 529.9,148.28 530.27,147.65 530.64,147 531.02,146.32 531.39,145.63 531.76,144.92 532.13,144.19 532.5,143.44 532.87,142.68 533.25,141.9 533.62,141.11 533.99,140.3 534.36,139.48 534.73,138.65 535.1,137.82 535.48,136.97 535.85,136.12 536.22,135.26 536.59,134.39 536.96,133.52 537.34,132.65 537.71,131.78 538.08,130.91 538.45,130.04 538.82,129.17 539.19,128.31 539.57,127.45 539.94,126.6 540.31,125.76 540.68,124.92 541.05,124.1 541.42,123.28 541.8,122.48 542.17,121.69 542.54,120.91 542.91,120.15 543.28,119.41 543.65,118.68 544.03,117.97 544.4,117.29 544.77,116.62 545.14,115.97 545.51,115.35 545.89,114.75 546.26,114.17 546.63,113.62 547,113.1 547.37,112.6 547.74,112.13 548.12,111.68 548.49,111.27 548.86,110.88 549.23,110.52 549.6,110.19 549.97,109.9 550.35,109.63 550.72,109.4 551.09,109.19 551.46,109.02 551.83,108.89 552.21,108.78 552.58,108.7 552.95,108.66 553.32,108.65 553.69,108.68 554.06,108.74 554.44,108.82 554.81,108.95 555.18,109.1 555.55,109.29 555.92,109.5 556.29,109.75 556.67,110.03 557.04,110.34 557.41,110.68 557.78,111.06 558.15,111.46 558.52,111.89 558.9,112.34 559.27,112.83 559.64,113.34 560.01,113.88 560.38,114.44 560.76,115.03 561.13,115.64 561.5,116.27 561.87,116.93 562.24,117.61 562.61,118.3 562.99,119.02 563.36,119.75 563.73,120.5 564.1,121.27 564.47,122.05 564.84,122.85 565.22,123.66 565.59,124.48 565.96,125.31 566.33,126.15 566.7,127 567.08,127.85 567.45,128.71 567.82,129.58 568.19,130.45 568.56,131.32 568.93,132.19 569.31,133.06 569.68,133.93 570.05,134.79 570.42,135.66 570.79,136.51 571.16,137.36 571.54,138.21 571.91,139.04 572.28,139.86 572.65,140.68 573.02,141.48 573.39,142.26 573.77,143.04 574.14,143.79 574.51,144.53 574.88,145.25 575.25,145.96 575.63,146.64 576,147.3 576.37,147.94 576.74,148.56 577.11,149.16 577.48,149.73 577.86,150.27 578.23,150.79 578.6,151.29 578.97,151.75 579.34,152.19 579.71,152.6 580.09,152.98 580.46,153.33 580.83,153.65 581.2,153.94 581.57,154.2 581.95,154.43 582.32,154.62 582.69,154.79 583.06,154.92 583.43,155.02 583.8,155.08 584.18,155.12 584.55,155.12 584.92,155.09 585.29,155.02 585.66,154.93 586.03,154.8 586.41,154.64 586.78,154.44 587.15,154.22 587.52,153.96 587.89,153.68 588.26,153.36 588.64,153.01 589.01,152.63 589.38,152.23 589.75,151.79 590.12,151.33 590.5,150.84 590.87,150.32 591.24,149.78 591.61,149.21 591.98,148.61 592.35,148 592.73,147.36 593.1,146.7 593.47,146.02 593.84,145.31 594.21,144.59 594.58,143.86 594.96,143.1 595.33,142.33 595.7,141.55 596.07,140.75 596.44,139.93 596.82,139.11 597.19,138.28 597.56,137.44 597.93,136.59 598.3,135.73 598.67,134.87 599.05,134 599.42,133.13 599.79,132.26 600.16,131.39 600.53,130.52 600.9,129.65 601.28,128.79 601.65,127.93 602.02,127.07 602.39,126.22 602.76,125.38 603.13,124.55 603.51,123.73 603.88,122.92 604.25,122.12 604.62,121.34 604.99,120.57 605.37,119.82 605.74,119.08 606.11,118.36 606.48,117.66 606.85,116.99 607.22,116.33 607.6,115.69 607.97,115.08 608.34,114.49 608.71,113.92 609.08,113.38 609.45,112.87 609.83,112.38 610.2,111.92 610.57,111.49 610.94,111.09 611.31,110.72 611.69,110.37 612.06,110.06 612.43,109.78 612.8,109.52 613.17,109.3 613.54,109.11 613.92,108.96 614.29,108.83 614.66,108.74 615.03,108.68 615.4,108.66 615.77,108.66 616.15,108.7 616.52,108.77 616.89,108.87 617.26,109.01 617.63,109.18 618,109.38 618.38,109.61 618.75,109.87 619.12,110.17 619.49,110.49 619.86,110.85 620.24,111.23 620.61,111.65 620.98,112.09 621.35,112.56 621.72,113.05 622.09,113.58 622.47,114.13 622.84,114.7 623.21,115.3 623.58,115.92 623.95,116.56 624.32,117.23 624.7,117.92 625.07,118.62 625.44,119.35 625.81,120.09 626.18,120.85 626.56,121.62 626.93,122.41 627.3,123.21 627.67,124.02 628.04,124.85 628.41,125.69 628.79,126.53 629.16,127.38 629.53,128.24 629.9,129.1 630.27,129.97 630.64,130.84 631.02,131.71 631.39,132.58 631.76,133.45 632.13,134.32 632.5,135.18 632.87,136.04 633.25,136.9 633.62,137.74 633.99,138.58 634.36,139.41 634.73,140.23 635.11,141.04 635.48,141.83 635.85,142.61 636.22,143.38 636.59,144.13 636.96,144.86 637.34,145.57 637.71,146.27 638.08,146.94 638.45,147.59 638.82,148.22 639.19,148.83 639.57,149.42 639.94,149.98 640.31,150.51 640.68,151.02 641.05,151.5 641.42,151.95 641.8,152.38 642.17,152.77 642.54,153.14 642.91,153.48 643.28,153.78 643.66,154.06 644.03,154.3 644.4,154.52 644.77,154.7 645.14,154.85 645.51,154.97 645.89,155.05 646.26,155.1 646.63,155.12 647,155.11 647.37,155.06 647.74,154.98 648.12,154.87 648.49,154.73 648.86,154.55 649.23,154.35 649.6,154.11 649.98,153.84 650.35,153.54 650.72,153.21 651.09,152.84 651.46,152.45 651.83,152.03 652.21,151.59 652.58,151.11 652.95,150.61 653.32,150.08 653.69,149.52 654.06,148.94 654.44,148.34 654.81,147.71 655.18,147.07 655.55,146.39 655.92,145.7 656.3,144.99 656.67,144.27 657.04,143.52 657.41,142.76 657.78,141.98 658.15,141.19 658.53,140.38 658.9,139.57 659.27,138.74 659.64,137.9 660.01,137.06 660.38,136.2 660.76,135.34 661.13,134.48 661.5,133.61 661.87,132.74 662.24,131.87 662.61,131 662.99,130.13 663.36,129.26 663.73,128.4 664.1,127.54 664.47,126.69 664.85,125.84 665.22,125.01 665.59,124.18 665.96,123.36 666.33,122.56 666.7,121.77 667.08,120.99 667.45,120.23 667.82,119.48 668.19,118.76 668.56,118.05 668.93,117.36 669.31,116.69 669.68,116.04 670.05,115.41 670.42,114.81 670.79,114.23 671.16,113.68 671.54,113.15 671.91,112.65 672.28,112.17 672.65,111.73 673.02,111.31 673.4,110.92 673.77,110.56 674.14,110.23 674.51,109.93 674.88,109.66 675.25,109.42 675.63,109.21 676,109.04 676.37,108.9 676.74,108.79 677.11,108.71 677.48,108.67 677.86,108.65 678.23,108.67 678.6,108.73" fill="none" stroke="#ff0000" stroke-width="1.3" stroke-linejoin="round" />
<polyline points="381.2,131.89 381.57,89.84 381.94,63.06 382.32,63.23 382.69,78.63 383.06,100.84 383.43,122.77 383.8,137.32 384.17,139.38 384.55,138.05 384.92,136.77 385.29,136.63 385.66,136.74 386.03,136.94 386.4,137.21 386.78,137.53 387.15,137.89 387.52,138.29 387.89,138.69 388.26,139.09 388.63,139.48 389.01,139.83 389.38,140.14 389.75,140.38 390.12,140.55 390.49,140.68 390.87,140.79 391.24,140.91 391.61,141.02 391.98,141.13 392.35,141.23 392.72,141.33 393.1,141.43 393.47,141.52 393.84,141.61 394.21,141.69 394.58,141.77 394.95,141.84 395.33,141.9 395.7,141.96 396.07,142 396.44,142.04 396.81,142.07 397.19,142.08 397.56,142.08 397.93,142.07 398.3,142.05 398.67,142.01 399.04,141.95 399.42,141.89 399.79,141.81 400.16,141.71 400.53,141.61 400.9,141.49 401.27,141.36 401.65,141.21 402.02,141.06 402.39,140.89 402.76,140.71 403.13,140.51 403.5,140.3 403.88,140.08 404.25,139.85 404.62,139.61 404.99,139.35 405.36,139.08 405.74,138.8 406.11,138.52 406.48,138.22 406.85,137.91 407.22,137.6 407.59,137.28 407.97,136.95 408.34,136.61 408.71,136.26 409.08,135.91 409.45,135.56 409.82,135.2 410.2,134.83 410.57,134.46 410.94,134.09 411.31,133.71 411.68,133.33 412.06,132.95 412.43,132.57 412.8,132.19 413.17,131.8 413.54,131.42 413.91,131.03 414.29,130.65 414.66,130.27 415.03,129.89 415.4,129.52 415.77,129.15 416.14,128.78 416.52,128.42 416.89,128.06 417.26,127.7 417.63,127.36 418,127.02 418.38,126.68 418.75,126.35 419.12,126.04 419.49,125.73 419.86,125.42 420.23,125.13 420.61,124.85 420.98,124.57 421.35,124.31 421.72,124.06 422.09,123.81 422.46,123.58 422.84,123.37 423.21,123.16 423.58,122.96 423.95,122.78 424.32,122.61 424.69,122.46 425.07,122.31 425.44,122.18 425.81,122.07 426.18,121.97 426.55,121.88 426.93,121.81 427.3,121.75 427.67,121.7 428.04,121.67 428.41,121.65 428.78,121.65 429.16,121.66 429.53,121.69 429.9,121.73 430.27,121.78 430.64,121.85 431.01,121.94 431.39,122.03 431.76,122.15 432.13,122.27 432.5,122.41 432.87,122.56 433.25,122.73 433.62,122.9 433.99,123.09 434.36,123.3 434.73,123.51 435.1,123.74 435.48,123.98 435.85,124.23 436.22,124.48 436.59,124.76 436.96,125.04 437.33,125.33 437.71,125.63 438.08,125.93 438.45,126.25 438.82,126.57 439.19,126.91 439.56,127.24 439.94,127.59 440.31,127.94 440.68,128.3 441.05,128.66 441.42,129.03 441.8,129.4 442.17,129.77 442.54,130.15 442.91,130.53 443.28,130.91 443.65,131.29 444.03,131.68 444.4,132.06 444.77,132.44 445.14,132.83 445.51,133.21 445.88,133.59 446.26,133.97 446.63,134.34 447,134.71 447.37,135.08 447.74,135.44 448.12,135.8 448.49,136.15 448.86,136.5 449.23,136.84 449.6,137.17 449.97,137.49 450.35,137.81 450.72,138.12 451.09,138.42 451.46,138.71 451.83,138.99 452.2,139.26 452.58,139.52 452.95,139.77 453.32,140.01 453.69,140.24 454.06,140.46 454.43,140.66 454.81,140.85 455.18,141.03 455.55,141.2 455.92,141.35 456.29,141.49 456.67,141.62 457.04,141.73 457.41,141.83 457.78,141.91 458.15,141.99 458.52,142.04 458.9,142.08 459.27,142.11 459.64,142.13 460.01,142.12 460.38,142.11 460.75,142.08 461.13,142.04 461.5,141.98 461.87,141.91 462.24,141.82 462.61,141.72 462.99,141.6 463.36,141.48 463.73,141.33 464.1,141.18 464.47,141.01 464.84,140.83 465.22,140.64 465.59,140.43 465.96,140.22 466.33,139.99 466.7,139.75 467.07,139.49 467.45,139.23 467.82,138.96 468.19,138.68 468.56,138.38 468.93,138.08 469.3,137.77 469.68,137.45 470.05,137.13 470.42,136.79 470.79,136.45 471.16,136.11 471.54,135.75 471.91,135.4 472.28,135.03 472.65,134.67 473.02,134.29 473.39,133.92 473.77,133.54 474.14,133.16 474.51,132.78 474.88,132.4 475.25,132.01 475.62,131.63 476,131.25 476.37,130.86 476.74,130.48 477.11,130.1 477.48,129.73 477.86,129.35 478.23,128.98 478.6,128.62 478.97,128.26 479.34,127.9 479.71,127.55 480.09,127.2 480.46,126.87 480.83,126.53 481.2,126.21 481.57,125.9 481.94,125.59 482.32,125.29 482.69,125 483.06,124.72 483.43,124.45 483.8,124.19 484.17,123.95 484.55,123.71 484.92,123.48 485.29,123.27 485.66,123.07 486.03,122.88 486.41,122.7 486.78,122.54 487.15,122.39 487.52,122.25 487.89,122.13 488.26,122.02 488.64,121.93 489.01,121.84 489.38,121.78 489.75,121.72 490.12,121.68 490.49,121.66 490.87,121.65 491.24,121.65 491.61,121.67 491.98,121.7 492.35,121.75 492.73,121.81 493.1,121.89 493.47,121.98 493.84,122.08 494.21,122.2 494.58,122.33 494.96,122.48 495.33,122.63 495.7,122.8 496.07,122.99 496.44,123.18 496.81,123.39 497.19,123.61 497.56,123.84 497.93,124.09 498.3,124.34 498.67,124.6 499.04,124.88 499.42,125.16 499.79,125.46 500.16,125.76 500.53,126.07 500.9,126.39 501.28,126.72 501.65,127.06 502.02,127.4 502.39,127.75 502.76,128.1 503.13,128.46 503.51,128.82 503.88,129.19 504.25,129.57 504.62,129.94 504.99,130.32 505.36,130.7 505.74,131.08 506.11,131.46 506.48,131.85 506.85,132.23 507.22,132.62 507.6,133 507.97,133.38 508.34,133.76 508.71,134.13 509.08,134.51 509.45,134.88 509.83,135.24 510.2,135.6 510.57,135.96 510.94,136.31 511.31,136.65 511.68,136.99 512.06,137.31 512.43,137.64 512.8,137.95 513.17,138.26 513.54,138.55 513.91,138.84 514.29,139.12 514.66,139.38 515.03,139.64 515.4,139.88 515.77,140.12 516.15,140.34 516.52,140.55 516.89,140.75 517.26,140.94 517.63,141.11 518,141.27 518.38,141.42 518.75,141.55 519.12,141.67 519.49,141.78 519.86,141.87 520.23,141.95 520.61,142.01 520.98,142.06 521.35,142.1 521.72,142.12 522.09,142.13 522.47,142.12 522.84,142.1 523.21,142.06 523.58,142.01 523.95,141.95 524.32,141.87 524.7,141.78 525.07,141.67 525.44,141.55 525.81,141.41 526.18,141.27 526.55,141.11 526.93,140.93 527.3,140.75 527.67,140.55 528.04,140.34 528.41,140.11 528.78,139.88 529.16,139.63 529.53,139.38 529.9,139.11 530.27,138.83 530.64,138.55 531.02,138.25 531.39,137.94 531.76,137.63 532.13,137.31 532.5,136.98 532.87,136.64 533.25,136.3 533.62,135.95 533.99,135.59 534.36,135.23 534.73,134.87 535.1,134.5 535.48,134.13 535.85,133.75 536.22,133.37 536.59,132.99 536.96,132.61 537.34,132.23 537.71,131.84 538.08,131.46 538.45,131.07 538.82,130.69 539.19,130.31 539.57,129.93 539.94,129.56 540.31,129.19 540.68,128.82 541.05,128.45 541.42,128.09 541.8,127.74 542.17,127.39 542.54,127.05 542.91,126.72 543.28,126.39 543.65,126.07 544.03,125.76 544.4,125.45 544.77,125.16 545.14,124.87 545.51,124.6 545.89,124.34 546.26,124.08 546.63,123.84 547,123.61 547.37,123.39 547.74,123.18 548.12,122.98 548.49,122.8 548.86,122.63 549.23,122.47 549.6,122.33 549.97,122.2 550.35,122.08 550.72,121.98 551.09,121.89 551.46,121.81 551.83,121.75 552.21,121.7 552.58,121.67 552.95,121.65 553.32,121.65 553.69,121.66 554.06,121.69 554.44,121.72 554.81,121.78 555.18,121.85 555.55,121.93 555.92,122.02 556.29,122.13 556.67,122.26 557.04,122.39 557.41,122.54 557.78,122.71 558.15,122.88 558.52,123.07 558.9,123.27 559.27,123.49 559.64,123.71 560.01,123.95 560.38,124.2 560.76,124.46 561.13,124.73 561.5,125.01 561.87,125.3 562.24,125.59 562.61,125.9 562.99,126.22 563.36,126.54 563.73,126.87 564.1,127.21 564.47,127.55 564.84,127.91 565.22,128.26 565.59,128.62 565.96,128.99 566.33,129.36 566.7,129.73 567.08,130.11 567.45,130.49 567.82,130.87 568.19,131.25 568.56,131.64 568.93,132.02 569.31,132.4 569.68,132.79 570.05,133.17 570.42,133.55 570.79,133.93 571.16,134.3 571.54,134.67 571.91,135.04 572.28,135.4 572.65,135.76 573.02,136.11 573.39,136.46 573.77,136.8 574.14,137.13 574.51,137.46 574.88,137.78 575.25,138.09 575.63,138.39 576,138.68 576.37,138.96 576.74,139.24 577.11,139.5 577.48,139.75 577.86,139.99 578.23,140.22 578.6,140.44 578.97,140.64 579.34,140.83 579.71,141.01 580.09,141.18 580.46,141.34 580.83,141.48 581.2,141.61 581.57,141.72 581.95,141.82 582.32,141.91 582.69,141.98 583.06,142.04 583.43,142.08 583.8,142.11 584.18,142.12 584.55,142.13 584.92,142.11 585.29,142.08 585.66,142.04 586.03,141.98 586.41,141.91 586.78,141.83 587.15,141.73 587.52,141.62 587.89,141.49 588.26,141.35 588.64,141.2 589.01,141.03 589.38,140.85 589.75,140.66 590.12,140.45 590.5,140.24 590.87,140.01 591.24,139.77 591.61,139.52 591.98,139.26 592.35,138.99 592.73,138.71 593.1,138.41 593.47,138.11 593.84,137.8 594.21,137.49 594.58,137.16 594.96,136.83 595.33,136.49 595.7,136.14 596.07,135.79 596.44,135.43 596.82,135.07 597.19,134.7 597.56,134.33 597.93,133.96 598.3,133.58 598.67,133.2 599.05,132.82 599.42,132.44 599.79,132.05 600.16,131.67 600.53,131.29 600.9,130.9 601.28,130.52 601.65,130.14 602.02,129.77 602.39,129.39 602.76,129.02 603.13,128.65 603.51,128.29 603.88,127.94 604.25,127.58 604.62,127.24 604.99,126.9 605.37,126.57 605.74,126.24 606.11,125.93 606.48,125.62 606.85,125.32 607.22,125.03 607.6,124.75 607.97,124.48 608.34,124.22 608.71,123.97 609.08,123.73 609.45,123.51 609.83,123.29 610.2,123.09 610.57,122.9 610.94,122.72 611.31,122.56 611.69,122.41 612.06,122.27 612.43,122.14 612.8,122.03 613.17,121.94 613.54,121.85 613.92,121.78 614.29,121.73 614.66,121.69 615.03,121.66 615.4,121.65 615.77,121.65 616.15,121.67 616.52,121.7 616.89,121.75 617.26,121.81 617.63,121.88 618,121.97 618.38,122.07 618.75,122.19 619.12,122.32 619.49,122.46 619.86,122.62 620.24,122.79 620.61,122.97 620.98,123.16 621.35,123.37 621.72,123.59 622.09,123.82 622.47,124.06 622.84,124.31 623.21,124.58 623.58,124.85 623.95,125.13 624.32,125.43 624.7,125.73 625.07,126.04 625.44,126.36 625.81,126.69 626.18,127.02 626.56,127.36 626.93,127.71 627.3,128.06 627.67,128.42 628.04,128.79 628.41,129.15 628.79,129.53 629.16,129.9 629.53,130.28 629.9,130.66 630.27,131.04 630.64,131.42 631.02,131.81 631.39,132.19 631.76,132.58 632.13,132.96 632.5,133.34 632.87,133.72 633.25,134.1 633.62,134.47 633.99,134.84 634.36,135.2 634.73,135.56 635.11,135.92 635.48,136.27 635.85,136.61 636.22,136.95 636.59,137.28 636.96,137.6 637.34,137.92 637.71,138.22 638.08,138.52 638.45,138.81 638.82,139.09 639.19,139.35 639.57,139.61 639.94,139.86 640.31,140.09 640.68,140.32 641.05,140.53 641.42,140.73 641.8,140.92 642.17,141.09 642.54,141.25 642.91,141.4 643.28,141.54 643.66,141.66 644.03,141.77 644.4,141.86 644.77,141.94 645.14,142.01 645.51,142.06 645.89,142.1 646.26,142.12 646.63,142.13 647,142.12 647.37,142.1 647.74,142.07 648.12,142.02 648.49,141.95 648.86,141.88 649.23,141.79 649.6,141.68 649.98,141.56 650.35,141.43 650.72,141.28 651.09,141.12 651.46,140.95 651.83,140.77 652.21,140.57 652.58,140.36 652.95,140.14 653.32,139.9 653.69,139.66 654.06,139.4 654.44,139.14 654.81,138.86 655.18,138.58 655.55,138.28 655.92,137.98 656.3,137.66 656.67,137.34 657.04,137.01 657.41,136.68 657.78,136.34 658.15,135.99 658.53,135.63 658.9,135.27 659.27,134.91 659.64,134.54 660.01,134.17 660.38,133.79 660.76,133.41 661.13,133.03 661.5,132.65 661.87,132.27 662.24,131.88 662.61,131.5 662.99,131.11 663.36,130.73 663.73,130.35 664.1,129.97 664.47,129.6 664.85,129.22 665.22,128.86 665.59,128.49 665.96,128.13 666.33,127.78 666.7,127.43 667.08,127.09 667.45,126.75 667.82,126.42 668.19,126.1 668.56,125.79 668.93,125.48 669.31,125.19 669.68,124.9 670.05,124.63 670.42,124.36 670.79,124.11 671.16,123.86 671.54,123.63 671.91,123.41 672.28,123.2 672.65,123 673.02,122.82 673.4,122.65 673.77,122.49 674.14,122.34 674.51,122.21 674.88,122.09 675.25,121.99 675.63,121.9 676,121.82 676.37,121.76 676.74,121.71 677.11,121.67 677.48,121.65 677.86,121.65 678.23,121.66 678.6,121.68" fill="none" stroke="#0000ff" stroke-width="1.3" stroke-linejoin="round" />
<polyline points="33.7,402.73 34.19,427.31 34.67,472.66 35.16,458.22 35.65,389.91 36.13,372.25 36.62,431.43 37.11,497.4 37.59,490.94 38.08,425.93 38.57,392.94 39.05,425.08 39.54,462.88 40.03,447.72 40.51,402.27 41,387.9 41.49,414.84 41.97,458.75 42.46,479.31 42.95,473.82 43.43,450.46 43.92,425.89 44.41,417.42 44.89,422.2 45.38,424.03 45.87,418.82 46.35,424.73 46.84,452.91 47.33,477.7 47.81,472.5 48.3,436.76 48.79,405.38 49.27,403.91 49.76,419.57 50.25,431.87 50.73,438.71 51.22,448.98 51.71,458.66 52.19,456.04 52.68,438.78 53.17,416.25 53.65,399.64 54.14,396.51 54.63,415.48 55.11,454.53 55.6,478.91 56.09,467.66 56.57,427.93 57.06,405.16 57.55,418.43 58.03,438.35 58.52,429.31 59.01,406.42 59.49,411.7 59.98,452.04 60.47,478.66 60.95,462.04 61.44,416.12 61.93,395.74 62.41,413.55 62.9,441.01 63.39,443.39 63.87,427.81 64.36,423.28 64.85,436.2 65.33,444.16 65.82,431.64 66.31,413.73 66.79,414.11 67.28,431.93 67.77,443.04 68.25,433.57 68.74,419.36 69.23,422.71 69.71,441.63 70.2,453.37 70.69,446.85 71.17,432.91 71.66,424.62 72.15,418.68 72.63,409.31 73.12,406.88 73.61,425.92 74.09,457.67 74.58,469.96 75.07,451.86 75.55,421.53 76.04,410.33 76.53,418.99 77.01,428.36 77.5,430.28 77.99,434.9 78.47,444.63 78.96,443.94 79.45,424.72 79.93,406.48 80.42,412.3 80.91,440.17 81.39,461.72 81.88,459.31 82.37,440.72 82.85,425.38 83.34,423.93 83.83,431.8 84.31,439.06 84.8,440.13 85.29,439.08 85.77,443.94 86.26,450.86 86.75,441.71 87.23,411.14 87.72,393.58 88.21,424.11 88.69,486.65 89.18,503.59 89.67,459.36 90.15,376.65 90.64,363.83 91.13,413.47 91.61,476.13 92.1,472.04 92.59,432.51 93.07,429.07 93.56,463.56 94.05,470.89 94.53,430.02 95.02,393.25 95.51,401.48 95.99,428.47 96.48,430.29 96.97,424.36 97.45,454.25 97.94,491.46 98.43,484.45 98.91,418.66 99.4,377.35 99.89,403.88 100.37,462.35 100.86,461.52 101.35,406.6 101.83,385.16 102.32,423.78 102.81,469.82 103.29,459.4 103.78,414.98 104.27,404.64 104.75,436.06 105.24,457.11 105.73,435.71 106.21,401.88 106.7,399.18 107.19,430.99 107.67,466.76 108.16,473.19 108.65,441.73 109.13,389.85 109.62,369.05 110.11,392.39 110.59,463.64 111.08,499.76 111.57,486.19 112.05,433.8 112.54,402.7 113.03,412.49 113.51,427.87 114,419.69 114.49,404.26 114.97,409.88 115.46,439.93 115.95,468.94 116.43,474.92 116.92,453.87 117.41,413.84 117.89,388.72 118.38,396.26 118.87,431.83 119.35,458.64 119.84,453.14 120.33,433.74 120.81,430.27 121.3,440.55 121.79,440.44 122.27,427.47 122.76,424.6 123.25,440.69 123.73,454.67 124.22,448.47 124.71,428.81 125.19,412.28 125.68,404.81 126.17,410.62 126.65,439.03 127.14,474.29 127.63,479.48 128.11,442.49 128.6,401.68 129.09,411.13 129.57,453.81 130.06,459.33 130.55,411.35 131.03,380.26 131.52,403.36 132.01,453.92 132.49,458.87 132.98,427 133.47,425.78 133.95,468.57 134.44,487.22 134.93,450.87 135.41,392.34 135.9,384.34 136.39,420.79 136.87,457.65 137.36,461.9 137.85,447.38 138.33,425.96 138.82,403.87 139.31,400.28 139.79,432.01 140.28,470.86 140.77,467.24 141.25,424.62 141.74,408.66 142.23,448.58 142.71,479.98 143.2,448.32 143.69,383.05 144.17,372.1 144.66,415.93 145.15,462.68 145.63,454.56 146.12,428.28 146.61,437.27 147.09,465.18 147.58,463.22 148.07,427.83 148.55,404.6 149.04,417.7 149.53,445.92 150.01,457.92 150.5,450.71 150.99,433.52 151.47,415 151.96,408.25 152.45,425.73 152.93,457.85 153.42,469.25 153.91,443.92 154.39,401.51 154.88,384.78 155.37,402.46 155.85,449.59 156.34,487.91 156.83,492.59 157.31,455.42 157.8,393.86 158.29,378.89 158.77,416.39 159.26,458.01 159.75,431.36 160.23,376.25 160.72,379.44 161.21,468.12 161.69,516.47 162.18,501.27 162.67,407.65 163.15,367.83 163.64,401.36 164.13,453.74 164.61,441.64 165.1,404.81 165.59,415.98 166.07,461.27 166.56,464.39 167.05,412.74 167.53,381.26 168.02,404.44 168.51,452.86 168.99,461.11 169.48,438.51 169.97,434.66 170.45,455.72 170.94,457.79 171.43,424.92 171.91,398.96 172.4,410.45 172.89,435.23 173.37,427.74 173.86,397.93 174.35,396.25 174.83,443.5 175.32,492 175.81,497.53 176.29,463.92 176.78,410.89 177.27,389.42 177.75,398.93 178.24,423.02 178.73,439.17 179.21,438 179.7,431.81 180.19,439.44 180.67,459.51 181.16,466.02 181.65,441.52 182.13,405.39 182.62,400.04 183.11,430.79 183.59,460.19 184.08,456.9 184.57,439.69 185.05,442.23 185.54,455.48 186.03,443.36 186.51,408.08 187,398.35 187.49,430.39 187.97,459.27 188.46,440.4 188.95,406.51 189.43,421.31 189.92,474.22 190.41,485.16 190.89,430.91 191.38,378.6 191.87,393.89 192.35,457.71 192.84,473.91 193.33,424.57 193.81,385.03 194.3,406.22 194.79,461.35 195.27,475.84 195.76,446.39 196.25,414.08 196.73,410.75 197.22,422.71 197.71,433.99 198.19,443.9 198.68,447.79 199.17,434.53 199.65,413.76 200.14,413.61 200.63,438.11 201.11,453.92 201.6,438.89 202.09,416.62 202.57,421.19 203.06,443.73 203.55,447.25 204.03,425.65 204.52,411.94 205.01,424.94 205.49,443.62 205.98,441.39 206.47,427.76 206.95,430.5 207.44,451.21 207.93,461.92 208.41,445.83 208.9,416.58 209.39,405.86 209.87,423.09 210.36,449.6 210.85,455.02 211.33,433.59 211.82,410.8 212.31,414.58 212.79,440.1 213.28,454.3 213.77,442.44 214.25,427.33 214.74,434.27 215.23,448.57 215.71,438.5 216.2,408.92 216.69,399.72 217.17,423.67 217.66,449.81 218.15,445.01 218.63,425.7 219.12,425.85 219.61,441.04 220.09,441.49 220.58,429.08 221.07,437.12 221.55,466.96 222.04,474.11 222.53,434.16 223.01,386.1 223.5,383.61 223.99,419.44 224.47,445.5 224.96,432.78 225.45,422.64 225.93,454.16 226.42,490.69 226.91,483.47 227.39,413.02 227.88,360.68 228.37,365.36 228.85,434.45 229.34,497.17 229.83,493.4 230.31,435.94 230.8,392.16 231.29,406.59 231.77,444.19 232.26,445.49 232.75,416.83 233.23,414.84 233.72,456.49 234.21,486.38 234.69,473.01 235.18,430.73 235.67,412.78 236.15,425.52 236.64,430.91 237.13,415.28 237.61,408.32 238.1,427.78 238.59,451.96 239.07,455 239.56,444.76 240.05,438.47 240.53,434.6 241.02,427.21 241.51,425.66 241.99,432.76 242.48,428.69 242.97,408.61 243.45,407.93 243.94,450.89 244.43,486.63 244.91,466 245.4,399.02 245.89,381.34 246.37,426.65 246.86,464.83 247.35,434.34 247.83,399.65 248.32,441.87 248.81,501.56 249.29,491.91 249.78,395.4 250.27,355.91 250.75,387.53 251.24,457.19 251.73,444.36 252.21,390.18 252.7,397.78 253.19,464.95 253.67,486.52 254.16,447.51 254.65,418.6 255.13,451.6 255.62,471.72 256.11,418.27 256.59,362.61 257.08,366.75 257.57,426.28 258.05,465.35 258.54,445.16 259.03,432.96 259.51,471.86 260,500.62 260.49,483.53 260.97,413.18 261.46,370.82 261.95,376.05 262.43,416.33 262.92,460.28 263.41,468.47 263.89,437.65 264.38,398.67 264.87,398.03 265.35,438.13 265.84,466.68 266.33,450.2 266.81,425.26 267.3,446.29 267.79,483.84 268.27,476.43 268.76,412.86 269.25,375.44 269.73,394.1 270.22,437.72 270.71,443.9 271.19,429.3 271.68,445.07 272.17,476.71 272.65,477.01 273.14,448.26 273.63,440.12 274.11,464.02 274.6,463.51 275.09,411.78 275.57,373.46 276.06,384.38 276.55,427.59 277.03,445.93 277.52,439.88 278.01,454.6 278.49,478.14 278.98,463.36 279.47,407.34 279.95,388.05 280.44,430.63 280.93,474.77 281.41,457.63 281.9,409.14 282.39,405.68 282.87,440.82 283.36,444.29 283.85,402.44 284.33,386.18 284.82,427.76 285.31,478.92 285.79,475.61 286.28,435.05 286.77,420.68 287.25,444.84 287.74,452.5 288.23,416.84 288.71,383.83 289.2,389.74 289.69,425.81 290.17,450.04 290.66,444.72 291.15,432.81 291.63,432.28 292.12,434.91 292.61,429.16 293.09,421.9 293.58,427.67 294.07,446.5 294.55,459.33 295.04,448.92 295.53,417.73 296.01,396.17 296.5,406.84 296.99,444.86 297.47,467.63 297.96,450.63 298.45,413.93 298.93,407.22 299.42,440.89 299.91,470.93 300.39,458.59 300.88,414.84 301.37,396.2 301.85,423.18 302.34,463.3 302.83,465.47 303.31,428.67 303.8,398.53 304.29,407.05 304.77,439.77 305.26,456.17 305.75,446.08 306.23,433.94 306.72,438.59 307.21,446.99 307.69,441.86 308.18,431.91 308.67,434.23 309.15,438.34 309.64,420.33 310.13,393.95 310.61,400.2 311.1,453.71 311.59,491.77 312.07,475.51 312.56,413.22 313.05,388.43 313.53,422.44 314.02,461.85 314.51,443.49 314.99,393.46 315.48,384.42 315.97,427.12 316.45,471.37 316.94,466.07 317.43,429.36 317.91,413.81 318.4,435.6 318.89,462.68 319.37,464.22 319.86,440.82 320.35,412.04 320.83,397.59 321.32,399.4 321.81,411.54 322.29,426.28 322.78,441.15 323.27,459.28 323.75,475.7 324.24,477.52 324.73,456.64 325.21,422.36 325.7,402.11" fill="none" stroke="#0000ff" stroke-width="1.3" stroke-linejoin="round" />
<polyline points="33.7,429.05 34.19,416.53 34.67,412.73 35.16,449.7 35.65,500.34 36.13,514.49 36.62,487.55 37.11,426.41 37.59,386.89 38.08,377.56 38.57,377.38 39.05,385.26 39.54,416.83 40.03,464.25 40.51,485.39 41,471.8 41.49,448.65 41.97,448.08 42.46,457.62 42.95,443.38 43.43,407.24 43.92,388.82 44.41,399.39 44.89,412.24 45.38,403.52 45.87,398.51 46.35,435.31 46.84,493.65 47.33,508.98 47.81,465.94 48.3,385.6 48.79,361.41 49.27,393.57 49.76,451.69 50.25,466.73 50.73,439.16 51.22,419.27 51.71,443.71 52.19,483.2 52.68,484.31 53.17,427.55 53.65,365.12 54.14,357.5 54.63,406.22 55.11,477.88 55.6,495.42 56.09,469.59 56.57,440.11 57.06,442.5 57.55,452.1 58.03,430.65 58.52,389.02 59.01,375 59.49,404.24 59.98,455.35 60.47,474.08 60.95,454.64 61.44,428.06 61.93,426.04 62.41,440.47 62.9,441.67 63.39,420.25 63.87,400.45 64.36,407.63 64.85,440.18 65.33,466.8 65.82,465.16 66.31,442.58 66.79,421.83 67.28,412.94 67.77,406.74 68.25,400.95 68.74,408.88 69.23,436.78 69.71,460.93 70.2,456.25 70.69,433.82 71.17,431.2 71.66,457.19 72.15,472.8 72.63,448.43 73.12,402.85 73.61,385.94 74.09,401.45 74.58,419.91 75.07,421.77 75.55,428.61 76.04,457.59 76.53,481.11 77.01,472.27 77.5,441.37 77.99,427.84 78.47,438.44 78.96,439.53 79.45,418.97 79.93,408.63 80.42,428.18 80.91,447.89 81.39,433.14 81.88,406.1 82.37,414.07 82.85,454.91 83.34,474.12 83.83,454.53 84.31,437.4 84.8,460.42 85.29,484.51 85.77,458.09 86.26,388.97 86.75,363.16 87.23,397.91 87.72,461.49 88.21,472.97 88.69,434.41 89.18,404.34 89.67,420.1 90.15,459.02 90.64,478.04 91.13,468.94 91.61,441.66 92.1,409.95 92.59,388.37 93.07,387.05 93.56,408.94 94.05,441.97 94.53,461.4 95.02,458.26 95.51,437.31 95.99,410.31 96.48,395.76 96.97,408.84 97.45,447.82 97.94,475.82 98.43,465.51 98.91,428.19 99.4,409.68 99.89,426.36 100.37,444.34 100.86,429.09 101.35,397.83 101.83,391.25 102.32,416.1 102.81,447.13 103.29,461.56 103.78,465.57 104.27,462.33 104.75,439.65 105.24,403.59 105.73,392.55 106.21,424.75 106.7,466.48 107.19,463.73 107.67,418.78 108.16,389.2 108.65,402.54 109.13,432.91 109.62,440.9 110.11,433.76 110.59,443.35 111.08,468.29 111.57,477.84 112.05,461.13 112.54,433.46 113.03,414.62 113.51,404.44 114,400.59 114.49,409.32 114.97,427.78 115.46,437.64 115.95,436.17 116.43,446.48 116.92,473.41 117.41,481.45 117.89,444.06 118.38,392.58 118.87,391.33 119.35,437.62 119.84,460.5 120.33,422.15 120.81,385.08 121.3,411.46 121.79,473.55 122.27,477.31 122.76,412.33 123.25,375.47 123.73,421.77 124.22,497.62 124.71,505.75 125.19,454.44 125.68,404.99 126.17,406.86 126.65,412.56 127.14,388.83 127.63,379.64 128.11,428.66 128.6,495.21 129.09,499.6 129.57,445.37 130.06,405.4 130.55,437.09 131.03,480.33 131.52,462.77 132.01,395.06 132.49,365 132.98,387.04 133.47,433.63 133.95,456.18 134.44,461.06 134.93,471.59 135.41,476.79 135.9,454.89 136.39,415.78 136.87,399.7 137.36,413.07 137.85,428.86 138.33,428.71 138.82,428.21 139.31,441.06 139.79,450.31 140.28,438.27 140.77,422.32 141.25,432.3 141.74,457.68 142.23,453.72 142.71,405.43 143.2,367.47 143.69,379.8 144.17,446.62 144.66,496.71 145.15,489.32 145.63,435.28 146.12,389.56 146.61,387.65 147.09,413.73 147.58,438.54 148.07,445.79 148.55,443.73 149.04,443.03 149.53,444.37 150.01,443.15 150.5,437.36 150.99,429.5 151.47,425.74 151.96,433.32 152.45,452.5 152.93,468.03 153.42,460.12 153.91,423.87 154.39,389.07 154.88,387.14 155.37,418.58 155.85,452.55 156.34,457.72 156.83,446.5 157.31,448.39 157.8,462.55 158.29,456.16 158.77,412.93 159.26,372.47 159.75,370.99 160.23,409.45 160.72,458.5 161.21,476.84 161.69,467.99 162.18,444.01 162.67,414.82 163.15,398.68 163.64,416.08 164.13,462.36 164.61,484.33 165.1,450.49 165.59,389.43 166.07,379.45 166.56,430.49 167.05,475.57 167.53,452.08 168.02,397.95 168.51,403.02 168.99,472.37 169.48,503.96 169.97,457.16 170.45,373.22 170.94,362.04 171.43,417.6 171.91,468.7 172.4,447.51 172.89,402.79 173.37,411.3 173.86,465.3 174.35,488.87 174.83,461.71 175.32,419.48 175.81,410.79 176.29,421.32 176.78,417.45 177.27,405.09 177.75,412.69 178.24,440.21 178.73,459.26 179.21,465.34 179.7,479.73 180.19,496.85 180.67,482.57 181.16,409.04 181.65,350.1 182.13,350.07 182.62,407.24 183.11,474.95 183.59,480.22 184.08,451.84 184.57,442.63 185.05,462.39 185.54,473.71 186.03,458.69 186.51,430 187,403.67 187.49,380.67 187.97,369.87 188.46,391.19 188.95,454.2 189.43,497.44 189.92,489.47 190.41,448.56 190.89,431.33 191.38,451.51 191.87,455.09 192.35,413.37 192.84,378.11 193.33,395.55 193.81,451.83 194.3,471.24 194.79,434.93 195.27,398.27 195.76,408.82 196.25,442.93 196.73,450.24 197.22,433.9 197.71,434.97 198.19,457.26 198.68,458.9 199.17,421.49 199.65,385.9 200.14,387.55 200.63,413.51 201.11,429.53 201.6,431.72 202.09,445.58 202.57,467.86 203.06,466.86 203.55,436.19 204.03,415.69 204.52,435.09 205.01,462.86 205.49,451.63 205.98,407.26 206.47,386.96 206.95,413.37 207.44,458.18 207.93,470.5 208.41,445.83 208.9,411.45 209.39,397.7 209.87,413.09 210.36,453.47 210.85,486.95 211.33,482.04 211.82,427.8 212.31,374.18 212.79,371.95 213.28,412.05 213.77,440.85 214.25,417.84 214.74,389.99 215.23,413.08 215.71,478.67 216.2,508.12 216.69,486.72 217.17,424.74 217.66,381.8 218.15,375.81 218.63,392.35 219.12,426.03 219.61,464.01 220.09,481.15 220.58,468.87 221.07,441.38 221.55,427.2 222.04,428.91 222.53,429.33 223.01,431.68 223.5,454.43 223.99,481.47 224.47,471.58 224.96,411.26 225.45,370.28 225.93,396.1 226.42,474.32 226.91,503.78 227.39,469.57 227.88,407.88 228.37,391.92 228.85,407.94 229.34,413.24 229.83,410.19 230.31,438.34 230.8,488.07 231.29,500.74 231.77,458.39 232.26,394.1 232.75,380.66 233.23,408.43 233.72,432.16 234.21,426.53 234.69,419.32 235.18,433.29 235.67,452.84 236.15,456.58 236.64,450.26 237.13,448.64 237.61,449.35 238.1,442.05 238.59,429.05 239.07,418.45 239.56,408.96 240.05,400.49 240.53,405.23 241.02,429.02 241.51,448.48 241.99,439.88 242.48,423.92 242.97,441.79 243.45,480.55 243.94,480.14 244.43,414.26 244.91,359.32 245.4,372.42 245.89,449.92 246.37,488.2 246.86,444 247.35,380.79 247.83,385.11 248.32,447.44 248.81,483.78 249.29,465.29 249.78,436.29 250.27,443.19 250.75,457.4 251.24,431.16 251.73,383.61 252.21,375.99 252.7,424.27 253.19,482.96 253.67,490.55 254.16,453.71 254.65,410.32 255.13,397.73 255.62,407.08 256.11,420.54 256.59,433.85 257.08,453.06 257.57,474.81 258.05,483.26 258.54,463.21 259.03,411.51 259.51,368.87 260,364.27 260.49,399.32 260.97,454.28 261.46,479.32 261.95,475.15 262.43,464.61 262.92,457.51 263.41,443.79 263.89,424.73 264.38,421.6 264.87,434.97 265.35,429.37 265.84,389.02 266.33,363.51 266.81,392.19 267.3,477.33 267.79,514.66 268.27,491.2 268.76,425.63 269.25,399.31 269.73,417.28 270.22,423.14 270.71,394.69 271.19,376.58 271.68,398.77 272.17,448.86 272.65,476.98 273.14,476.11 273.63,466.22 274.11,454.91 274.6,434.88 275.09,411.23 275.57,401.04 276.06,405.09 276.55,411.77 277.03,423.32 277.52,454.59 278.01,490.92 278.49,498.61 278.98,467.38 279.47,420.45 279.95,409.05 280.44,425.82 280.93,428.36 281.41,407.24 281.9,398.45 282.39,420.26 282.87,445.05 283.36,440.86 283.85,426.08 284.33,438.25 284.82,470.15 285.31,479.35 285.79,451.91 286.28,412.04 286.77,391.28 287.25,382.97 287.74,377.96 288.23,389.23 288.71,432.44 289.2,479.34 289.69,490.76 290.17,475.24 290.66,460.43 291.15,455.91 291.63,436.75 292.12,398.87 292.61,382.15 293.09,405.51 293.58,444.17 294.07,452.59 294.55,441.05 295.04,446.83 295.53,460.71 296.01,439.27 296.5,391.55 296.99,389.56 297.47,462.76 297.96,516.02 298.45,494.16 298.93,391.29 299.42,349.1 299.91,383.6 300.39,460.63 300.88,469.72 301.37,423.31 301.85,406.78 302.34,445.31 302.83,472.98 303.31,443.24 303.8,392.25 304.29,388.68 304.77,440.42 305.26,492.66 305.75,499.77 306.23,461.24 306.72,390.59 307.21,352.03 307.69,356.78 308.18,414.24 308.67,486.5 309.15,498.75 309.64,459.27 310.13,409.76 310.61,401.25 311.1,418.86 311.59,434.01 312.07,447.88 312.56,469.34 313.05,474.08 313.53,431.92 314.02,372.81 314.51,362.38 314.99,408.12 315.48,467.48 315.97,470.33 316.45,440.34 316.94,437.36 317.43,462.84 317.91,462.27 318.4,423.77 318.89,406.68 319.37,443.41 319.86,472.35 320.35,427.36 320.83,358.88 321.32,358.86 321.81,450.91 322.29,519.43 322.78,495.64 323.27,385.57 323.75,350.29 324.24,409.86 324.73,506.62 325.21,516.51 325.7,459.99" fill="none" stroke="#ff0000" stroke-width="1.3" stroke-linejoin="round" />
<polyline points="33.7,417.91 34.19,403.01 34.67,398.12 35.16,419.54 35.65,461.43 36.13,474.12 36.62,435.86 37.11,391.43 37.59,397.92 38.08,440.94 38.57,454.16 39.05,426.26 39.54,419.16 40.03,461.57 40.51,488.41 41,449.86 41.49,377.63 41.97,363.45 42.46,405.18 42.95,454.54 43.43,452.07 43.92,428.29 44.41,428.04 44.89,442.32 45.38,442.99 45.87,439.23 46.35,451 46.84,458.16 47.33,430.73 47.81,393.11 48.3,396.52 48.79,439.57 49.27,458.28 49.76,423.2 50.25,391.9 50.73,416.32 51.22,468.88 51.71,478.27 52.19,448.24 52.68,438.82 53.17,471.71 53.65,485.59 54.14,439.92 54.63,375.87 55.11,368.99 55.6,417.47 56.09,470.34 56.57,474.24 57.06,449.92 57.55,432.03 58.03,429.25 58.52,430.86 59.01,436.3 59.49,446.55 59.98,450.47 60.47,442.97 60.95,438.62 61.44,445.67 61.93,442.5 62.41,410.29 62.9,379.46 63.39,386.63 63.87,433.02 64.36,465.58 64.85,451.62 65.33,423.14 65.82,425.38 66.31,449.61 66.79,458.17 67.28,450.12 67.77,452.7 68.25,461.3 68.74,435.38 69.23,373.07 69.71,344.5 70.2,358.54 70.69,430.98 71.17,494.54 71.66,502.15 72.15,480.28 72.63,449.76 73.12,427.11 73.61,416.19 74.09,419.09 74.58,429.21 75.07,428.63 75.55,412.5 76.04,400.32 76.53,407.09 77.01,424.67 77.5,437.3 77.99,448.1 78.47,465.14 78.96,473.47 79.45,451.93 79.93,410.3 80.42,397.34 80.91,430.31 81.39,470.26 81.88,466.33 82.37,420.64 82.85,387.01 83.34,395.24 83.83,432.06 84.31,461.04 84.8,466.06 85.29,456.7 85.77,443.93 86.26,435.65 86.75,436.77 87.23,442.62 87.72,439.86 88.21,427.04 88.69,425.23 89.18,448.52 89.67,470.21 90.15,452.97 90.64,401.13 91.13,378.18 91.61,410.34 92.1,465.31 92.59,467.9 93.07,417.6 93.56,389.53 94.05,425.69 94.53,482.17 95.02,486.66 95.51,442.36 95.99,406.6 96.48,413.61 96.97,422.99 97.45,399.11 97.94,376.81 98.43,395.55 98.91,448.62 99.4,469.89 99.89,447.88 100.37,437.43 100.86,474.39 101.35,503.59 101.83,481.1 102.32,401.2 102.81,360.59 103.29,376.85 103.78,427.52 104.27,450.98 104.75,432.5 105.24,406.64 105.73,400.24 106.21,417.3 106.7,455.37 107.19,490.4 107.67,494.57 108.16,455.74 108.65,397.94 109.13,381.38 109.62,401.58 110.11,421.32 110.59,418.33 111.08,421.52 111.57,447.88 112.05,459.68 112.54,427.89 113.03,397.42 113.51,431.09 114,500.69 114.49,514.87 114.97,462.57 115.46,382.07 115.95,376.41 116.43,423.18 116.92,450.13 117.41,432.25 117.89,426.48 118.38,457.17 118.87,470.83 119.35,431.62 119.84,386.45 120.33,394.95 120.81,444.73 121.3,468.3 121.79,452 122.27,440.82 122.76,455.32 123.25,456.28 123.73,420.58 124.22,391 124.71,402.83 125.19,430.95 125.68,425.73 126.17,401.75 126.65,413.16 127.14,463.89 127.63,489.76 128.11,470.71 128.6,440.33 129.09,445.79 129.57,463.06 130.06,440.92 130.55,386.23 131.03,363.04 131.52,382.53 132.01,430.46 132.49,459.15 132.98,459.77 133.47,454.47 133.95,451.54 134.44,440.75 134.93,419.21 135.41,404.38 135.9,412.7 136.39,440.3 136.87,458.8 137.36,445.79 137.85,411.55 138.33,396.26 138.82,418.49 139.31,454.07 139.79,458.53 140.28,432.89 140.77,420.76 141.25,443 141.74,461.07 142.23,437.43 142.71,399.52 143.2,408.51 143.69,469.48 144.17,502.95 144.66,475.72 145.15,396.24 145.63,360.29 146.12,377.82 146.61,432.57 147.09,466.29 147.58,456.6 148.07,428.89 148.55,423.58 149.04,452.95 149.53,481.21 150.01,469.51 150.5,417.54 150.99,390.53 151.47,423.82 151.96,467.79 152.45,439 152.93,363.73 153.42,350.98 153.91,427.77 154.39,517.89 154.88,516.4 155.37,443.37 155.85,400 156.34,451.6 156.83,488.98 157.31,435.14 157.8,357.54 158.29,354.48 158.77,414.09 159.26,462.43 159.75,442.08 160.23,424.6 160.72,465.95 161.21,504.38 161.69,490.06 162.18,421.84 162.67,379.08 163.15,388.32 163.64,419.73 164.13,439.92 164.61,445.01 165.1,439.68 165.59,423.38 166.07,413.51 166.56,434.2 167.05,470.89 167.53,477.21 168.02,440.86 168.51,402.16 168.99,402.65 169.48,424.13 169.97,429.7 170.45,423.35 170.94,433.39 171.43,451.04 171.91,441.54 172.4,410.13 172.89,404.23 173.37,436.91 173.86,461.56 174.35,442.6 174.83,410.63 175.32,414.5 175.81,445.2 176.29,455.91 176.78,438.55 177.27,426.47 177.75,433.05 178.24,433.68 178.73,419.24 179.21,417.02 179.7,439.99 180.19,457.17 180.67,443.06 181.16,419.11 181.65,419.46 182.13,436.48 182.62,441.36 183.11,435.85 183.59,441.92 184.08,453.15 184.57,443.52 185.05,417.72 185.54,409.14 186.03,420.37 186.51,420.48 187,406.77 187.49,419.65 187.97,469.87 188.46,495.26 188.95,465.91 189.43,410.49 189.92,407.63 190.41,447.52 190.89,454.88 191.38,413.25 191.87,393.32 192.35,430.96 192.84,470.84 193.33,452.05 193.81,407.48 194.3,413.66 194.79,463.42 195.27,477.8 195.76,438.97 196.25,408.43 196.73,433.25 197.22,466.2 197.71,449.07 198.19,402.67 198.68,391.27 199.17,416.07 199.65,433.14 200.14,427.78 200.63,436.85 201.11,467.72 201.6,474.59 202.09,434.75 202.57,392.36 203.06,397.84 203.55,436.69 204.03,458.08 204.52,451.3 205.01,439.69 205.49,421.73 205.98,384.01 206.47,360.47 206.95,386.18 207.44,474.63 207.93,513.08 208.41,483.92 208.9,411.32 209.39,395.64 209.87,424.99 210.36,422.46 210.85,386.03 211.33,397.08 211.82,485.53 212.31,524.36 212.79,481.58 213.28,353.46 213.77,331.01 214.25,373.39 214.74,497.24 215.23,522.2 215.71,489.52 216.2,436.29 216.69,432.19 217.17,445.09 217.66,425.97 218.15,394.04 218.63,398.29 219.12,444.35 219.61,474.69 220.09,447.85 220.58,389.82 221.07,375.8 221.55,427.83 222.04,498.75 222.53,511.36 223.01,470.35 223.5,404.64 223.99,394.76 224.47,433.99 224.96,462 225.45,440.83 225.93,400.91 226.42,395.41 226.91,428.96 227.39,460.18 227.88,453.94 228.37,424.89 228.85,412.65 229.34,429.1 229.83,450.19 230.31,452.38 230.8,443.38 231.29,443.73 231.77,449.63 232.26,432.38 232.75,385.92 233.23,357.5 233.72,370.99 234.21,438.64 234.69,490.61 235.18,478.32 235.67,423.66 236.15,402.52 236.64,439.07 237.13,478.52 237.61,473.8 238.1,441 238.59,425.06 239.07,426.92 239.56,408.19 240.05,374.87 240.53,372.26 241.02,422.79 241.51,483.22 241.99,486.52 242.48,446.36 242.97,421.51 243.45,442.7 243.94,467.16 244.43,458.04 244.91,429.42 245.4,413.9 245.89,409.03 246.37,397 246.86,388.32 247.35,405.26 247.83,443.49 248.32,463.29 248.81,453.79 249.29,443.2 249.78,452.75 250.27,463.77 250.75,455.33 251.24,438.99 251.73,437.21 252.21,440.46 252.7,424.63 253.19,401.4 253.67,406.44 254.16,444.05 254.65,467.65 255.13,446.78 255.62,407.84 256.11,401.98 256.59,432.8 257.08,462 257.57,464.42 258.05,454.13 258.54,449.51 259.03,448.12 259.51,438.75 260,419.79 260.49,395.35 260.97,372.65 261.46,366.13 261.95,394.59 262.43,464.61 262.92,504.29 263.41,493.62 263.89,449.18 264.38,430.08 264.87,452.78 265.35,461.86 265.84,426.36 266.33,389.11 266.81,394.85 267.3,424.78 267.79,424.17 268.27,393.92 268.76,391.94 269.25,443.95 269.73,494.57 270.22,494.56 270.71,453.79 271.19,415.83 271.68,411.96 272.17,421.27 272.65,424.87 273.14,427.36 273.63,431.38 274.11,424.26 274.6,404.31 275.09,393.21 275.57,406.17 276.06,435.59 276.55,458.74 277.03,468.24 277.52,468.71 278.01,459.04 278.49,439.67 278.98,426.88 279.47,434.13 279.95,446.28 280.44,436.66 280.93,408.02 281.41,393.21 281.9,405.88 282.39,428.93 282.87,438.78 283.36,441.78 283.85,455.37 284.33,471.63 284.82,469.85 285.31,447.89 285.79,426.86 286.28,423.02 286.77,428.84 287.25,433.17 287.74,432.55 288.23,420.37 288.71,392.73 289.2,372.87 289.69,391.18 290.17,464.29 290.66,513.8 291.15,508.69 291.63,449.94 292.12,395.42 292.61,402.95 293.09,438.12 293.58,443.59 294.07,418.52 294.55,405.97 295.04,419.11 295.53,430.3 296.01,421.89 296.5,417.86 296.99,442.22 297.47,473.37 297.96,472.65 298.45,433.29 298.93,394.42 299.42,395.24 299.91,433.48 300.39,471.33 300.88,475.26 301.37,447.04 301.85,411.58 302.34,397.34 302.83,402.11 303.31,408.78 303.8,409.98 304.29,418.91 304.77,445.98 305.26,471.81 305.75,471.6 306.23,448.69 306.72,435.14 307.21,448.86 307.69,459.88 308.18,433.74 308.67,387.72 309.15,375.02 309.64,406.61 310.13,450.03 310.61,450.09 311.1,419.87 311.59,416.69 312.07,457.9 312.56,489.97 313.05,477.06 313.53,432.12 314.02,412.77 314.51,432.6 314.99,443.73 315.48,413.49 315.97,380.81 316.45,389.38 316.94,434.86 317.43,457.88 317.91,431.14 318.4,402.17 318.89,423.84 319.37,481.6 319.86,507.42 320.35,492.65 320.83,443.62 321.32,395.82 321.81,372.3 322.29,368.42 322.78,388.93 323.27,439.82 323.75,481.91 324.24,484.62 324.73,456.52 325.21,427.09 325.7,420.77" fill="none" stroke="#edb120" stroke-width="1.3" stroke-linejoin="round" />
<polyline points="381.6,466.43 381.97,496.62 382.34,482.79 382.71,445.71 383.09,433.96 383.46,463.32 383.83,491.7 384.2,472.12 384.57,396.84 384.94,340.67 385.31,336.32 385.68,383.17 386.06,467.78 386.43,505.63 386.8,492.32 387.17,464.05 387.54,465.26 387.91,493.24 388.28,504.45 388.65,470.25 389.03,399.71 389.4,358.58 389.77,365.12 390.14,408.11 390.51,445.61 390.88,438.84 391.25,406.87 391.62,398.38 392,439.97 392.37,507.24 392.74,532.4 393.11,532.4 393.48,480.17 393.85,399.78 394.22,357.41 394.59,356.11 394.97,384.19 395.34,427.18 395.71,455.98 396.08,456.93 396.45,437.93 396.82,419.45 397.19,420.35 397.56,443.92 397.94,473.69 398.31,486.45 398.68,473.05 399.05,440.04 399.42,408.85 399.79,395.17 400.16,396.96 400.53,405.49 400.91,415.97 401.28,430.54 401.65,450 402.02,465.05 402.39,462.54 402.76,439.47 403.13,412.28 403.5,404.94 403.88,425.41 404.25,457.77 404.62,471.93 404.99,455.54 405.36,423.54 405.73,407.61 406.1,422.22 406.47,452.75 406.85,466.26 407.22,446.1 407.59,407.87 407.96,388.15 408.33,404.8 408.7,450.03 409.07,485.85 409.44,485.64 409.82,451.05 410.19,408.36 410.56,390.64 410.93,405.2 411.3,443.27 411.67,482.05 412.04,502.75 412.41,501 412.79,473.04 413.16,419 413.53,367.43 413.9,346.89 414.27,362.41 414.64,426.21 415.01,505 415.38,532.4 415.75,529.33 416.13,484.5 416.5,425.48 416.87,396.03 417.24,398.32 417.61,414.75 417.98,429.45 418.35,439.08 418.73,447.97 419.1,454.77 419.47,452.07 419.84,438.82 420.21,428.11 420.58,435.64 420.95,459.48 421.32,475.75 421.7,462.9 422.07,423.88 422.44,394.09 422.81,403.05 423.18,450.57 423.55,495.21 423.92,499.66 424.29,461.36 424.67,408.66 425.04,387.62 425.41,404.84 425.78,440.52 426.15,462.27 426.52,459.46 426.89,445.48 427.26,437.56 427.64,440.5 428.01,449.16 428.38,460.5 428.75,475.13 429.12,487.45 429.49,483.12 429.86,448.8 430.23,395.23 430.61,363.31 430.98,371.11 431.35,422.49 431.72,485.77 432.09,510.55 432.46,494.57 432.83,451.05 433.2,411.98 433.58,398.62 433.95,408.5 434.32,435.99 434.69,473.59 435.06,503.39 435.43,505.7 435.8,462.98 436.17,383.01 436.55,337.15 436.92,339.39 437.29,399.33 437.66,497.61 438.03,532.4 438.4,521.6 438.77,466.17 439.14,417.12 439.52,411.46 439.89,428.64 440.26,433.61 440.63,417.08 441,402.74 441.37,412.82 441.74,442.94 442.11,464.35 442.49,458.86 442.86,437.51 443.23,426.14 443.6,434.64 443.97,447.56 444.34,445.29 444.71,429.03 445.08,418.94 445.46,427.86 445.83,444.51 446.2,444.87 446.57,421.29 446.94,394.76 447.31,390.66 447.68,414.27 448.05,448.68 448.43,467.33 448.8,464.51 449.17,452.31 449.54,441.51 449.91,429.76 450.28,411.68 450.65,395.84 451.02,400 451.4,432.06 451.77,470.26 452.14,476.65 452.51,438.39 452.88,386.86 453.25,373.32 453.62,415.39 453.99,493.47 454.37,532.4 454.74,527.08 455.11,474.25 455.48,402.14 455.85,365.35 456.22,361.18 456.59,375.36 456.96,403.76 457.34,447.57 457.71,494.29 458.08,518.72 458.45,510.01 458.82,465.13 459.19,412.81 459.56,399.82 459.93,431.11 460.31,473 460.68,480.49 461.05,443.86 461.42,393.43 461.79,372.73 462.16,387.35 462.53,423.39 462.9,454.03 463.28,469.02 463.65,479.89 464.02,493.06 464.39,497.94 464.76,480.16 465.13,439.76 465.5,406.76 465.87,407.86 466.25,436.89 466.62,457.12 466.99,436.5 467.36,386.91 467.73,358.52 468.1,375.53 468.47,447.67 468.84,519.26 469.22,532.4 469.59,518.31 469.96,463.42 470.33,416.4 470.7,408.05 471.07,423.55 471.44,433.19 471.81,419.14 472.19,391.56 472.56,375.28 472.93,385.24 473.3,426.51 473.67,481.98 474.04,516.46 474.41,520.36 474.78,494.99 475.16,446.14 475.53,403.03 475.9,387.56 476.27,397.61 476.64,423.12 477.01,450.37 477.38,469.45 477.75,476.51 478.12,467.8 478.5,440.21 478.87,404.01 479.24,384.85 479.61,401.99 479.98,459.65 480.35,514.92 480.72,527.63 481.1,490.08 481.47,405.15 481.84,352.28 482.21,356.09 482.58,418 482.95,500.5 483.32,528.64 483.69,502.5 484.07,423.66 484.44,358.96 484.81,346.5 485.18,378.98 485.55,452.91 485.92,508.44 486.29,514.62 486.66,475.13 487.04,410.08 487.41,375.35 487.78,386.85 488.15,434.43 488.52,475.82 488.89,475.35 489.26,437.12 489.63,398.35 490.01,392.82 490.38,419.54 490.75,452.11 491.12,462.52 491.49,453.81 491.86,448.35 492.23,456.2 492.6,458.62 492.98,430.69 493.35,382.02 493.72,358.68 494.09,387.45 494.46,478.97 494.83,532.4 495.2,532.4 495.57,486.79 495.95,375.5 496.32,333.27 496.69,346.79 497.06,410.67 497.43,476.71 497.8,491.01 498.17,470.38 498.54,449.29 498.92,449.91 499.29,460.67 499.66,458.13 500.03,435.97 500.4,412 500.77,408.35 501.14,430.41 501.51,464.03 501.88,484.87 502.26,480.17 502.63,449.2 503,406.69 503.37,379.97 503.74,382.97 504.11,417.9 504.48,467.29 504.86,495.97 505.23,494.59 505.6,475.71 505.97,462.54 506.34,466.24 506.71,469.96 507.08,449 507.45,401.68 507.83,363.59 508.2,358.14 508.57,386.37 508.94,436.15 509.31,473.51 509.68,489.53 510.05,498.99 510.42,507.37 510.8,501.25 511.17,460.45 511.54,392.32 511.91,352.6 512.28,357.4 512.65,404.65 513.02,461.41 513.39,477.36 513.77,460.05 514.14,448.01 514.51,464.03 514.88,482.42 515.25,463.32 515.62,402.1 515.99,360.22 516.36,376.65 516.74,462.3 517.11,531.65 517.48,532.4 517.85,462.76 518.22,370.23 518.59,349.8 518.96,390.75 519.33,462.45 519.71,487.87 520.08,462.81 520.45,431.47 520.82,437.54 521.19,469.24 521.56,479.23 521.93,444.68 522.3,393.74 522.67,378.28 523.05,409.34 523.42,461.05 523.79,481.68 524.16,461.75 524.53,430.51 524.9,425.57 525.27,448.98 525.64,469.72 526.02,461.95 526.39,429.48 526.76,400.12 527.13,392.93 527.5,405.45 527.87,428.73 528.24,456.72 528.62,483.56 528.99,495.76 529.36,476.93 529.73,420.96 530.1,369.07 530.47,362.41 530.84,412.45 531.21,493.88 531.59,525.52 531.96,496.66 532.33,415.33 532.7,362.48 533.07,366.34 533.44,409.56 533.81,446.6 534.18,440.15 534.56,412.87 534.93,411.19 535.3,451.98 535.67,500.06 536.04,511.65 536.41,480.17 536.78,424.97 537.15,395.13 537.53,401.62 537.9,420.03 538.27,418.6 538.64,395.2 539.01,380.28 539.38,400.68 539.75,462.2 540.12,518.94 540.5,532.4 540.87,514.95 541.24,459.16 541.61,406.77 541.98,394.79 542.35,417.99 542.72,450.62 543.09,461.52 543.47,443.24 543.84,414.01 544.21,401.34 544.58,416.35 544.95,449.62 545.32,476.33 545.69,482 546.06,471.73 546.44,460.31 546.81,458.45 547.18,462.17 547.55,459.07 547.92,442.16 548.29,417.15 548.66,397.32 549.03,390.58 549.4,397.21 549.78,415.26 550.15,441.83 550.52,469.82 550.89,488.09 551.26,488.31 551.63,468.72 552,438.46 552.38,417.04 552.75,415.76 553.12,430.02 553.49,445.21 553.86,448.98 554.23,440.62 554.6,428.12 554.97,419.56 555.35,417.8 555.72,422.65 556.09,434.28 556.46,452.22 556.83,471.5 557.2,483 557.57,479.04 557.94,456.73 558.32,422.38 558.69,393.15 559.06,383.34 559.43,398.57 559.8,437.29 560.17,478.42 560.54,495.05 560.91,478.56 561.29,435.99 561.66,399.39 562.03,394.34 562.4,419.13 562.77,451.3 563.14,464.35 563.51,457.15 563.88,448.3 564.26,451.51 564.63,456.99 565,444.06 565.37,411.66 565.74,390.22 566.11,408.01 566.48,464.64 566.85,508.11 567.23,502.89 567.6,448.2 567.97,392.92 568.34,390.92 568.71,436.6 569.08,474.3 569.45,454.12 569.82,392.14 570.2,362.1 570.57,396.22 570.94,487.15 571.31,532.4 571.68,521.95 572.05,446.48 572.42,378.33 572.79,375.54 573.16,417.36 573.54,448.35 573.91,427.34 574.28,384.02 574.65,371.93 575.02,405.92 575.39,462.67 575.76,487.73 576.13,474.19 576.51,453.12 576.88,457.67 577.25,478.22 577.62,475.73 577.99,428.67 578.36,370.66 578.73,351.79 579.11,376.3 579.48,432.4 579.85,466.51 580.22,455.25 580.59,427.39 580.96,425.94 581.33,460.48 581.7,497.02 582.08,502.98 582.45,475.37 582.82,432.65 583.19,405.31 583.56,397.76 583.93,396.14 584.3,392.77 584.67,394.64 585.05,412.69 585.42,446.12 585.79,476.72 586.16,489.59 586.53,486.11 586.9,474.35 587.27,459.63 587.64,441.84 588.02,422.88 588.39,411.81 588.76,416.39 589.13,432.6 589.5,444.76 589.87,442.1 590.24,433.11 590.61,437.06 590.99,460.28 591.36,483.73 591.73,483.89 592.1,456.51 592.47,424.91 592.84,421.55 593.21,449.92 593.58,479.5 593.96,479.05 594.33,446.32 594.7,410.44 595.07,403.3 595.44,424.75 595.81,449.94 596.18,456.07 596.55,448.83 596.92,450.3 597.3,467.62 597.67,479.74 598.04,461.79 598.41,413.95 598.78,384.41 599.15,390.03 599.52,421.12 599.89,450.08 600.27,460.18 600.64,457.34 601.01,448.12 601.38,432.65 601.75,422.64 602.12,431.37 602.49,458.28 602.87,461.65 603.24,445.69 603.61,418.23 603.98,392.08 604.35,374.71 604.72,396.87 605.09,412.04 605.46,420.14 605.84,431.72 606.21,455.11 606.58,486.34 606.95,511.64 607.32,454.34 607.69,391.57 608.06,402.74 608.43,421.11 608.81,440.51 609.18,447.1 609.55,415.29 609.92,387.64 610.29,360.88 610.66,394.36 611.03,418.82 611.4,444.69 611.78,484.22 612.15,520.82 612.52,492.08 612.89,445.64 613.26,384.61 613.63,393.47 614,420.93 614.37,463.06 614.75,502.1 615.12,524.98 615.49,495.77 615.86,409.2 616.23,334.42 616.6,373.25 616.97,409.21 617.34,436.94 617.72,461.32 618.09,480.19 618.46,463.8 618.83,448.49 619.2,425.55 619.57,393.07 619.94,358.37 620.31,376.25 620.69,435.36 621.06,499.6 621.43,526.76 621.8,495.76 622.17,458.15 622.54,421.81 622.91,391.1 623.28,391.68 623.65,411.73 624.03,432.95 624.4,455.79 624.77,477.27 625.14,468.14 625.51,444.56 625.88,419.71 626.25,404.54 626.62,402.56 627,405.17 627.37,399.55 627.74,400.12 628.11,407.09 628.48,417.5 628.85,435.13 629.22,452.19 629.6,468.21 629.97,486.74 630.34,505.36 630.71,502.75 631.08,478.1 631.45,446.43 631.82,423.08 632.19,418.73 632.57,426.96 632.94,433.57 633.31,439.57 633.68,432.1 634.05,427.75 634.42,436.73 634.79,454.69 635.16,471.03 635.54,465.12 635.91,453.23 636.28,443.35 636.65,433.68 637.02,420.63 637.39,410.65 637.76,403.29 638.13,400.1 638.51,396.93 638.88,434.46 639.25,470.51 639.62,474.39 639.99,458.85 640.36,441.63 640.73,442.34 641.1,476.36 641.48,513.56 641.85,491.9 642.22,472.47 642.59,449.88 642.96,425.69 643.33,405.23 643.7,387.71 644.07,364.6 644.44,363.06 644.82,366.8 645.19,382.35 645.56,413.51 645.93,446.43 646.3,463.8 646.67,464.68 647.04,466.18 647.41,463.33 647.79,469.06 648.16,471.69 648.53,460.03 648.9,439.54 649.27,422.78 649.64,413.96 650.01,407.29 650.38,398.61 650.76,396.3 651.13,417.29 651.5,437.7 651.87,445.4 652.24,439.22 652.61,435.25 652.98,436.68 653.36,446.98 653.73,454.63 654.1,440.74 654.47,408.86 654.84,379.99 655.21,430.09 655.58,493.07 655.95,509.38 656.33,484.9 656.7,453.85 657.07,425.19 657.44,401.16 657.81,379.14 658.18,358.99 658.55,342.64 658.92,372.76 659.3,425.12 659.67,465.31 660.04,476.51 660.41,461.05 660.78,462.65 661.15,466.91 661.52,456.96 661.89,432.36 662.27,408.19 662.64,419.44 663.01,435.32 663.38,442.63 663.75,442.02 664.12,449.89 664.49,466.1 664.86,472.53 665.24,460.38 665.61,421.07 665.98,375.56 666.35,352.83 666.72,357.91 667.09,404 667.46,427.25 667.83,428.34 668.21,431.85 668.58,457.03 668.95,497.16 669.32,529.78 669.69,453.9 670.06,367.77 670.43,376.59 670.8,399.3 671.17,428.28 671.55,454.57 671.92,476.82 672.29,497.23 672.66,514.31 673.03,479.35 673.4,440.84 673.77,408.5 674.14,388.45 674.52,385.64 674.89,420.37 675.26,444.17 675.63,464.86 676,438.7 676.37,418.52 676.74,393.65 677.12,398.84 677.49,411 677.86,434.39 678.23,474.06 678.6,518.95" fill="none" stroke="#0000ff" stroke-width="1.15" stroke-linejoin="round" />
<polyline points="381.6,383.47 381.97,437.96 382.34,474.14 382.71,477.42 383.09,464.94 383.46,459.36 383.83,465.21 384.2,466.47 384.57,451.52 384.94,431.64 385.31,429.88 385.68,448.7 386.06,460.02 386.43,434.63 386.8,382.99 387.17,355.22 387.54,372.72 387.91,444.98 388.28,511.69 388.65,521.96 389.03,484.57 389.4,427 389.77,407.65 390.14,432.62 390.51,466.68 390.88,473.83 391.25,454.17 391.62,431.94 392,425.09 392.37,424.14 392.74,410.4 393.11,386.11 393.48,374.62 393.85,393.85 394.22,446.38 394.59,496.54 394.97,513.38 395.34,500.58 395.71,469.09 396.08,437.8 396.45,417.98 396.82,405.84 397.19,396.46 397.56,391.19 397.94,394.51 398.31,409.56 398.68,436.08 399.05,467.94 399.42,493.6 399.79,503.24 400.16,491.59 400.53,457.63 400.91,416.14 401.28,391.32 401.65,390.53 402.02,409.23 402.39,438.45 402.76,467.08 403.13,485.92 403.5,487.48 403.88,465.28 404.25,423.8 404.62,391.55 404.99,391.25 405.36,422.99 405.73,459.8 406.1,466.54 406.47,441.88 406.85,417.33 407.22,422.88 407.59,451.77 407.96,466.88 408.33,446.63 408.7,412.39 409.07,407.78 409.44,444.95 409.82,484.68 410.19,479.7 410.56,425.8 410.93,378.82 411.3,384.6 411.67,440.21 412.04,487.44 412.41,479.63 412.79,432.87 413.16,409.17 413.53,441.2 413.9,490.45 414.27,494.33 414.64,438.03 415.01,376.56 415.38,374.43 415.75,435.71 416.13,500.11 416.5,501.97 416.87,444.71 417.24,387.77 417.61,387.56 417.98,434.08 418.35,474.12 418.73,468.79 419.1,434.93 419.47,415.36 419.84,425.21 420.21,441.37 420.58,439.77 420.95,430.26 421.32,441.14 421.7,474.22 422.07,492.55 422.44,466.83 422.81,406.07 423.18,372.91 423.55,395.27 423.92,461.53 424.29,501.67 424.67,485.97 425.04,433.43 425.41,403.81 425.78,422.68 426.15,459.33 426.52,465.13 426.89,435.13 427.26,411.65 427.64,431.58 428.01,479.77 428.38,501.14 428.75,472.28 429.12,410.01 429.49,376.91 429.86,390.39 430.23,429.48 430.61,449.27 430.98,435.1 431.35,417.35 431.72,427.62 432.09,459.99 432.46,477.22 432.83,459.15 433.2,423.44 433.58,410.79 433.95,435.3 434.32,470.88 434.69,479.03 435.06,451.49 435.43,411.91 435.8,392.68 436.17,396.38 436.55,407.89 436.92,416.7 437.29,430.39 437.66,460.64 438.03,496.24 438.4,511.57 438.77,495.65 439.14,451.73 439.52,412.95 439.89,406.95 440.26,425.1 440.63,438.69 441,426.71 441.37,398.27 441.74,380.62 442.11,388.74 442.49,422.86 442.86,464.73 443.23,488.78 443.6,488.43 443.97,469.04 444.34,443.63 444.71,428.63 445.08,429.34 445.46,436.17 445.83,433.78 446.2,417.64 446.57,401.8 446.94,404.38 447.31,428.61 447.68,454.23 448.05,455.57 448.43,433.49 448.8,418.85 449.17,440.5 449.54,487.82 449.91,512.94 450.28,492.36 450.65,427.51 451.02,382.06 451.4,398.78 451.77,469.6 452.14,517.31 452.51,503.31 452.88,423.54 453.25,355.11 453.62,347.73 453.99,391.58 454.37,461.75 454.74,488.65 455.11,470.81 455.48,446.81 455.85,457.09 456.22,494.52 456.59,516.32 456.96,500.38 457.34,440.23 457.71,376.15 458.08,350.82 458.45,355.47 458.82,381.04 459.19,418.56 459.56,455.91 459.93,485.11 460.31,500.71 460.68,498.8 461.05,478.9 461.42,450.68 461.79,433.12 462.16,434.06 462.53,442.98 462.9,443.28 463.28,429.97 463.65,415.1 464.02,413.74 464.39,426.75 464.76,438.07 465.13,430.47 465.5,407.23 465.87,392.71 466.25,408.04 466.62,455.67 466.99,502.29 467.36,517.63 467.73,501.46 468.1,461.08 468.47,420.24 468.84,395.06 469.22,378.72 469.59,365.37 469.96,362.1 470.33,382.89 470.7,438.3 471.07,496.27 471.44,515.34 471.81,494.39 472.19,446.53 472.56,415.62 472.93,425.43 473.3,458.5 473.67,477.85 474.04,466.55 474.41,435.14 474.78,409.91 475.16,403.66 475.53,409.06 475.9,415.42 476.27,422 476.64,436.16 477.01,459.67 477.38,481.96 477.75,491.85 478.12,487.13 478.5,469.94 478.87,441.45 479.24,404.96 479.61,374.63 479.98,366.7 480.35,391.65 480.72,449.12 481.1,494.83 481.47,497.23 481.84,461.26 482.21,420.62 482.58,413.54 482.95,432.83 483.32,440.57 483.69,415.11 484.07,385.26 484.44,393.36 484.81,453.7 485.18,512.04 485.55,515.59 485.92,459.03 486.29,388.89 486.66,382.44 487.04,442.81 487.41,503.93 487.78,500.78 488.15,431.96 488.52,369.31 488.89,371.09 489.26,432.06 489.63,491.53 490.01,492.49 490.38,449.23 490.75,416.33 491.12,430.33 491.49,465.38 491.86,472.2 492.23,441.5 492.6,413.5 492.98,428.96 493.35,475.02 493.72,493.55 494.09,453.16 494.46,379.17 494.83,348.38 495.2,369.78 495.57,440.26 495.95,494.56 496.32,497.08 496.69,472.23 497.06,459.77 497.43,473.77 497.8,484.36 498.17,461.85 498.54,411.59 498.92,380.15 499.29,390.19 499.66,430.94 500.03,459.45 500.4,446.78 500.77,410.94 501.14,394.99 501.51,418.59 501.88,466.76 502.26,497.03 502.63,493.96 503,468.29 503.37,444.83 503.74,439.76 504.11,441.24 504.48,426.13 504.86,389.16 505.23,356.2 505.6,349.12 505.97,378.03 506.34,452.38 506.71,517.65 507.08,532.4 507.45,520.12 507.83,473.1 508.2,423.53 508.57,399.86 508.94,392.58 509.31,384.91 509.68,377.17 510.05,386.11 510.42,429.42 510.8,492.76 511.17,527.06 511.54,523.81 511.91,486.32 512.28,434.91 512.65,408.16 513.02,405.44 513.39,404.82 513.77,396.99 514.14,396.63 514.51,422.47 514.88,468.91 515.25,497.93 515.62,489.84 515.99,452.73 516.36,423.96 516.74,431.77 517.11,460.35 517.48,469.59 517.85,440.67 518.22,396.17 518.59,377.11 518.96,392.35 519.33,427.4 519.71,452.03 520.08,456.38 520.45,456.61 520.82,465.28 521.19,472.92 521.56,462.58 521.93,435.6 522.3,419.04 522.67,435.18 523.05,472.17 523.42,490.24 523.79,466.96 524.16,411.71 524.53,372.77 524.9,370.67 525.27,396.76 525.64,430.55 526.02,452.7 526.39,468.72 526.76,488.75 527.13,504.73 527.5,500.14 527.87,465.14 528.24,415.08 528.62,387.99 528.99,391.89 529.36,409.21 529.73,414.22 530.1,401.14 530.47,390.6 530.84,402.01 531.21,435.5 531.59,467.54 531.96,477.82 532.33,470.86 532.7,463.65 533.07,466.25 533.44,470.37 533.81,460.77 534.18,432.68 534.56,400.07 534.93,381.65 535.3,382.82 535.67,401.84 536.04,434.27 536.41,469.57 536.78,493.37 537.15,496.01 537.53,473.08 537.9,431.92 538.27,402.31 538.64,407.01 539.01,446.38 539.38,490.13 539.75,502.37 540.12,471.95 540.5,407.63 540.87,362.03 541.24,358.05 541.61,396.87 541.98,466.7 542.35,508.46 542.72,503.74 543.09,458.05 543.47,404.57 543.84,388.26 544.21,412.99 544.58,456.29 544.95,478.54 545.32,467.9 545.69,441.19 546.06,427.12 546.44,435.39 546.81,449.69 547.18,449.48 547.55,434.32 547.92,423.28 548.29,430.88 548.66,448.95 549.03,455.15 549.4,440.38 549.78,421.63 550.15,424.79 550.52,455.39 550.89,488.15 551.26,495.84 551.63,474.72 552,439.99 552.38,416.58 552.75,408.86 553.12,403.85 553.49,395.28 553.86,393.86 554.23,413.93 554.6,453.13 554.97,482.27 555.35,480.21 555.72,451.74 556.09,424.63 556.46,423.08 556.83,440.98 557.2,453.43 557.57,446.95 557.94,433.81 558.32,434.22 558.69,448.31 559.06,453.49 559.43,432.13 559.8,398.03 560.17,384.9 560.54,407.68 560.91,452.74 561.29,477.53 561.66,465.43 562.03,439.64 562.4,443 562.77,486.26 563.14,524.02 563.51,521.15 563.88,456.46 564.26,361.91 564.63,328.67 565,339.3 565.37,398.66 565.74,471.93 566.11,490.14 566.48,464.88 566.85,440.38 567.23,457.3 567.6,500.97 567.97,521.23 568.34,494.23 568.71,412.13 569.08,350.89 569.45,532.4 569.82,439.57 570.2,439.57 570.57,439.57 570.94,439.57 571.31,439.57 571.68,439.57 572.05,439.57 572.42,439.57 572.79,439.57 573.16,439.57 573.54,439.57 573.91,439.57 574.28,439.57 574.65,439.57 575.02,439.57 575.39,439.57 575.76,439.57 576.13,439.57 576.51,439.57 576.88,439.57 577.25,439.57 577.62,439.57 577.99,439.57 578.36,439.57 578.73,439.57 579.11,439.57 579.48,439.57 579.85,439.57 580.22,439.57 580.59,439.57 580.96,439.57 581.33,439.57 581.7,439.57 582.08,439.57 582.45,439.57 582.82,439.57 583.19,439.57 583.56,439.57 583.93,439.57 584.3,439.57 584.67,439.57 585.05,439.57 585.42,439.57 585.79,439.57 586.16,439.57 586.53,439.57 586.9,439.57 587.27,439.57 587.64,439.57 588.02,439.57 588.39,439.57 588.76,439.57 589.13,439.57 589.5,439.57 589.87,439.57 590.24,439.57 590.61,439.57 590.99,439.57 591.36,439.57 591.73,439.57 592.1,439.57 592.47,439.57 592.84,439.57 593.21,439.57 593.58,439.57 593.96,439.57 594.33,439.57 594.7,439.57 595.07,439.57 595.44,439.57 595.81,439.57 596.18,439.57 596.55,439.57 596.92,439.57 597.3,439.57 597.67,439.57 598.04,439.57 598.41,439.57 598.78,439.57 599.15,439.57 599.52,439.57 599.89,439.57 600.27,439.57 600.64,439.57 601.01,439.57 601.38,439.57 601.75,439.57 602.12,439.57 602.49,439.57 602.87,439.57 603.24,439.57 603.61,439.57 603.98,439.57 604.35,439.57 604.72,439.57 605.09,439.57 605.46,439.57 605.84,439.57 606.21,439.57 606.58,439.57 606.95,439.57 607.32,439.57 607.69,439.57 608.06,439.57 608.43,439.57 608.81,439.57 609.18,439.57 609.55,439.57 609.92,439.57 610.29,439.57 610.66,439.57 611.03,439.57 611.4,439.57 611.78,439.57 612.15,439.57 612.52,439.57 612.89,439.57 613.26,439.57 613.63,439.57 614,439.57 614.37,439.57 614.75,439.57 615.12,439.57 615.49,439.57 615.86,439.57 616.23,439.57 616.6,439.57 616.97,439.57 617.34,439.57 617.72,439.57 618.09,439.57 618.46,439.57 618.83,439.57 619.2,439.57 619.57,439.57 619.94,439.57 620.31,439.57 620.69,439.57 621.06,439.57 621.43,439.57 621.8,439.57 622.17,439.57 622.54,439.57 622.91,439.57 623.28,439.57 623.65,439.57 624.03,439.57 624.4,439.57 624.77,439.57 625.14,439.57 625.51,439.57 625.88,439.57 626.25,439.57 626.62,439.57 627,439.57 627.37,439.57 627.74,439.57 628.11,439.57 628.48,439.57 628.85,439.57 629.22,439.57 629.6,439.57 629.97,439.57 630.34,439.57 630.71,439.57 631.08,439.57 631.45,439.57 631.82,439.57 632.19,439.57 632.57,439.57 632.94,439.57 633.31,439.57 633.68,439.57 634.05,439.57 634.42,439.57 634.79,439.57 635.16,439.57 635.54,439.57 635.91,439.57 636.28,439.57 636.65,439.57 637.02,439.57 637.39,439.57 637.76,439.57 638.13,439.57 638.51,439.57 638.88,439.57 639.25,439.57 639.62,439.57 639.99,439.57 640.36,439.57 640.73,439.57 641.1,439.57 641.48,439.57 641.85,439.57 642.22,439.57 642.59,439.57 642.96,439.57 643.33,439.57 643.7,439.57 644.07,439.57 644.44,439.57 644.82,439.57 645.19,439.57 645.56,439.57 645.93,439.57 646.3,439.57 646.67,439.57 647.04,439.57 647.41,439.57 647.79,439.57 648.16,439.57 648.53,439.57 648.9,439.57 649.27,439.57 649.64,439.57 650.01,439.57 650.38,439.57 650.76,439.57 651.13,439.57 651.5,439.57 651.87,439.57 652.24,439.57 652.61,439.57 652.98,439.57 653.36,439.57 653.73,439.57 654.1,439.57 654.47,439.57 654.84,439.57 655.21,439.57 655.58,439.57 655.95,439.57 656.33,439.57 656.7,439.57 657.07,439.57 657.44,439.57 657.81,439.57 658.18,439.57 658.55,439.57 658.92,439.57 659.3,439.57 659.67,439.57 660.04,439.57 660.41,439.57 660.78,439.57 661.15,439.57 661.52,439.57 661.89,439.57 662.27,439.57 662.64,439.57 663.01,439.57 663.38,439.57 663.75,439.57 664.12,439.57 664.49,439.57 664.86,439.57 665.24,439.57 665.61,439.57 665.98,439.57 666.35,439.57 666.72,439.57 667.09,439.57 667.46,439.57 667.83,439.57 668.21,439.57 668.58,439.57 668.95,439.57 669.32,439.57 669.69,439.57 670.06,439.57 670.43,439.57 670.8,439.57 671.17,439.57 671.55,439.57 671.92,439.57 672.29,439.57 672.66,439.57 673.03,439.57 673.4,439.57 673.77,439.57 674.14,439.57 674.52,439.57 674.89,439.57 675.26,439.57 675.63,439.57 676,439.57 676.37,439.57 676.74,439.57 677.12,439.57 677.49,439.57 677.86,439.57 678.23,439.57 678.6,439.57" fill="none" stroke="#ff0000" stroke-width="1.15" stroke-linejoin="round" />
<polyline points="381.6,523.17 381.97,521.62 382.34,489.62 382.71,428.64 383.09,375.07 383.46,355.93 383.83,369.73 384.2,412.21 384.57,460.9 384.94,485.86 385.31,481.6 385.68,457.82 386.06,432.79 386.43,422.26 386.8,427.44 387.17,437.5 387.54,438.22 387.91,422.09 388.28,393.82 388.65,367.29 389.03,353 389.4,353.53 389.77,369.32 390.14,399.56 390.51,436.57 390.88,466.31 391.25,478.86 391.62,471.75 392,448 392.37,418.91 392.74,400.82 393.11,404.31 393.48,431.5 393.85,472.05 394.22,504.46 394.59,516.7 394.97,509.47 395.34,489.23 395.71,470.14 396.08,467.09 396.45,481.78 396.82,500.94 397.19,508.1 397.56,492.61 397.94,449.02 398.31,390.64 398.68,347.78 399.05,329.37 399.42,328.7 399.79,342.4 400.16,369.47 400.53,403.53 400.91,433.44 401.28,453.24 401.65,464.61 402.02,471.96 402.39,478.22 402.76,482.86 403.13,482.28 403.5,471.92 403.88,449.59 404.25,420.11 404.62,395.97 404.99,388.81 405.36,404.72 405.73,443.36 406.1,488.96 406.47,519.21 406.85,527.39 407.22,515.27 407.59,485.75 407.96,450 408.33,424.29 408.7,415 409.07,417.83 409.44,424.89 409.82,429.84 410.19,430.77 410.56,429.19 410.93,427.07 411.3,425.18 411.67,423.88 412.04,424.65 412.41,429.94 412.79,440.41 413.16,451.65 413.53,454.71 413.9,441.28 414.27,411.21 414.64,378.45 415.01,360.71 415.38,366.05 415.75,397.54 416.13,445.35 416.5,479.42 416.87,481.57 417.24,453.85 417.61,416.71 417.98,400.89 418.35,422.08 418.73,475.05 419.1,523.83 419.47,532.4 419.84,532.4 420.21,496.3 420.58,436.36 420.95,390.78 421.32,375.1 421.7,381.8 422.07,400.82 422.44,423.7 422.81,447.6 423.18,473.64 423.55,498.48 423.92,512.6 424.29,506.33 424.67,471.12 425.04,412.47 425.41,365.93 425.78,353.07 426.15,375.06 426.52,430.14 426.89,484.21 427.26,501.33 427.64,477.18 428.01,423.07 428.38,378.21 428.75,368.02 429.12,393.07 429.49,443.07 429.86,484.86 430.23,496.59 430.61,480.71 430.98,450.84 431.35,428.44 431.72,425.58 432.09,437.81 432.46,451.62 432.83,455.87 433.2,449.68 433.58,440.78 433.95,437.67 434.32,442.12 434.69,448.31 435.06,448.88 435.43,442.27 435.8,434.99 436.17,436.79 436.55,452.19 436.92,474.95 437.29,491.25 437.66,490.38 438.03,468.64 438.4,431.79 438.77,397.2 439.14,378.83 439.52,377.87 439.89,388.94 440.26,403.29 440.63,411.82 441,410.39 441.37,401.32 441.74,390.62 442.11,384.37 442.49,387.16 442.86,402.42 443.23,431.35 443.6,467.98 443.97,498.84 444.34,513.66 444.71,509.79 445.08,488.29 445.46,457.83 445.83,436.72 446.2,438.42 446.57,461.47 446.94,489.45 447.31,503.03 447.68,492.73 448.05,457.07 448.43,410.28 448.8,378.31 449.17,371.55 449.54,387.62 449.91,418.03 450.28,445.27 450.65,454.88 451.02,445.75 451.4,427.46 451.77,414.3 452.14,416.5 452.51,436.04 452.88,465.27 453.25,488.96 453.62,494.62 453.99,532.4 454.37,439.57 454.74,439.57 455.11,439.57 455.48,439.57 455.85,439.57 456.22,439.57 456.59,439.57 456.96,439.57 457.34,439.57 457.71,439.57 458.08,439.57 458.45,439.57 458.82,439.57 459.19,439.57 459.56,439.57 459.93,439.57 460.31,439.57 460.68,439.57 461.05,439.57 461.42,439.57 461.79,439.57 462.16,439.57 462.53,439.57 462.9,439.57 463.28,439.57 463.65,439.57 464.02,439.57 464.39,439.57 464.76,439.57 465.13,439.57 465.5,439.57 465.87,439.57 466.25,439.57 466.62,439.57 466.99,439.57 467.36,439.57 467.73,439.57 468.1,439.57 468.47,439.57 468.84,439.57 469.22,439.57 469.59,439.57 469.96,439.57 470.33,439.57 470.7,439.57 471.07,439.57 471.44,439.57 471.81,439.57 472.19,439.57 472.56,439.57 472.93,439.57 473.3,439.57 473.67,439.57 474.04,439.57 474.41,439.57 474.78,439.57 475.16,439.57 475.53,439.57 475.9,439.57 476.27,439.57 476.64,439.57 477.01,439.57 477.38,439.57 477.75,439.57 478.12,439.57 478.5,439.57 478.87,439.57 479.24,439.57 479.61,439.57 479.98,439.57 480.35,439.57 480.72,439.57 481.1,439.57 481.47,439.57 481.84,439.57 482.21,439.57 482.58,439.57 482.95,439.57 483.32,439.57 483.69,439.57 484.07,439.57 484.44,439.57 484.81,439.57 485.18,439.57 485.55,439.57 485.92,439.57 486.29,439.57 486.66,439.57 487.04,439.57 487.41,439.57 487.78,439.57 488.15,439.57 488.52,439.57 488.89,439.57 489.26,439.57 489.63,439.57 490.01,439.57 490.38,439.57 490.75,439.57 491.12,439.57 491.49,439.57 491.86,439.57 492.23,439.57 492.6,439.57 492.98,439.57 493.35,439.57 493.72,439.57 494.09,439.57 494.46,439.57 494.83,439.57 495.2,439.57 495.57,439.57 495.95,439.57 496.32,439.57 496.69,439.57 497.06,439.57 497.43,439.57 497.8,439.57 498.17,439.57 498.54,439.57 498.92,439.57 499.29,439.57 499.66,439.57 500.03,439.57 500.4,439.57 500.77,439.57 501.14,439.57 501.51,439.57 501.88,439.57 502.26,439.57 502.63,439.57 503,439.57 503.37,439.57 503.74,439.57 504.11,439.57 504.48,439.57 504.86,439.57 505.23,439.57 505.6,439.57 505.97,439.57 506.34,439.57 506.71,439.57 507.08,439.57 507.45,439.57 507.83,439.57 508.2,439.57 508.57,439.57 508.94,439.57 509.31,439.57 509.68,439.57 510.05,439.57 510.42,439.57 510.8,439.57 511.17,439.57 511.54,439.57 511.91,439.57 512.28,439.57 512.65,439.57 513.02,439.57 513.39,439.57 513.77,439.57 514.14,439.57 514.51,439.57 514.88,439.57 515.25,439.57 515.62,439.57 515.99,439.57 516.36,439.57 516.74,439.57 517.11,439.57 517.48,439.57 517.85,439.57 518.22,439.57 518.59,439.57 518.96,439.57 519.33,439.57 519.71,439.57 520.08,439.57 520.45,439.57 520.82,439.57 521.19,439.57 521.56,439.57 521.93,439.57 522.3,439.57 522.67,439.57 523.05,439.57 523.42,439.57 523.79,439.57 524.16,439.57 524.53,439.57 524.9,439.57 525.27,439.57 525.64,439.57 526.02,439.57 526.39,439.57 526.76,439.57 527.13,439.57 527.5,439.57 527.87,439.57 528.24,439.57 528.62,439.57 528.99,439.57 529.36,439.57 529.73,439.57 530.1,439.57 530.47,439.57 530.84,439.57 531.21,439.57 531.59,439.57 531.96,439.57 532.33,439.57 532.7,439.57 533.07,439.57 533.44,439.57 533.81,439.57 534.18,439.57 534.56,439.57 534.93,439.57 535.3,439.57 535.67,439.57 536.04,439.57 536.41,439.57 536.78,439.57 537.15,439.57 537.53,439.57 537.9,439.57 538.27,439.57 538.64,439.57 539.01,439.57 539.38,439.57 539.75,439.57 540.12,439.57 540.5,439.57 540.87,439.57 541.24,439.57 541.61,439.57 541.98,439.57 542.35,439.57 542.72,439.57 543.09,439.57 543.47,439.57 543.84,439.57 544.21,439.57 544.58,439.57 544.95,439.57 545.32,439.57 545.69,439.57 546.06,439.57 546.44,439.57 546.81,439.57 547.18,439.57 547.55,439.57 547.92,439.57 548.29,439.57 548.66,439.57 549.03,439.57 549.4,439.57 549.78,439.57 550.15,439.57 550.52,439.57 550.89,439.57 551.26,439.57 551.63,439.57 552,439.57 552.38,439.57 552.75,439.57 553.12,439.57 553.49,439.57 553.86,439.57 554.23,439.57 554.6,439.57 554.97,439.57 555.35,439.57 555.72,439.57 556.09,439.57 556.46,439.57 556.83,439.57 557.2,439.57 557.57,439.57 557.94,439.57 558.32,439.57 558.69,439.57 559.06,439.57 559.43,439.57 559.8,439.57 560.17,439.57 560.54,439.57 560.91,439.57 561.29,439.57 561.66,439.57 562.03,439.57 562.4,439.57 562.77,439.57 563.14,439.57 563.51,439.57 563.88,439.57 564.26,439.57 564.63,439.57 565,439.57 565.37,439.57 565.74,439.57 566.11,439.57 566.48,439.57 566.85,439.57 567.23,439.57 567.6,439.57 567.97,439.57 568.34,439.57 568.71,439.57 569.08,439.57 569.45,439.57 569.82,439.57 570.2,439.57 570.57,439.57 570.94,439.57 571.31,439.57 571.68,439.57 572.05,439.57 572.42,439.57 572.79,439.57 573.16,439.57 573.54,439.57 573.91,439.57 574.28,439.57 574.65,439.57 575.02,439.57 575.39,439.57 575.76,439.57 576.13,439.57 576.51,439.57 576.88,439.57 577.25,439.57 577.62,439.57 577.99,439.57 578.36,439.57 578.73,439.57 579.11,439.57 579.48,439.57 579.85,439.57 580.22,439.57 580.59,439.57 580.96,439.57 581.33,439.57 581.7,439.57 582.08,439.57 582.45,439.57 582.82,439.57 583.19,439.57 583.56,439.57 583.93,439.57 584.3,439.57 584.67,439.57 585.05,439.57 585.42,439.57 585.79,439.57 586.16,439.57 586.53,439.57 586.9,439.57 587.27,439.57 587.64,439.57 588.02,439.57 588.39,439.57 588.76,439.57 589.13,439.57 589.5,439.57 589.87,439.57 590.24,439.57 590.61,439.57 590.99,439.57 591.36,439.57 591.73,439.57 592.1,439.57 592.47,439.57 592.84,439.57 593.21,439.57 593.58,439.57 593.96,439.57 594.33,439.57 594.7,439.57 595.07,439.57 595.44,439.57 595.81,439.57 596.18,439.57 596.55,439.57 596.92,439.57 597.3,439.57 597.67,439.57 598.04,439.57 598.41,439.57 598.78,439.57 599.15,439.57 599.52,439.57 599.89,439.57 600.27,439.57 600.64,439.57 601.01,439.57 601.38,439.57 601.75,439.57 602.12,439.57 602.49,439.57 602.87,439.57 603.24,439.57 603.61,439.57 603.98,439.57 604.35,439.57 604.72,439.57 605.09,439.57 605.46,439.57 605.84,439.57 606.21,439.57 606.58,439.57 606.95,439.57 607.32,439.57 607.69,439.57 608.06,439.57 608.43,439.57 608.81,439.57 609.18,439.57 609.55,439.57 609.92,439.57 610.29,439.57 610.66,439.57 611.03,439.57 611.4,439.57 611.78,439.57 612.15,439.57 612.52,439.57 612.89,439.57 613.26,439.57 613.63,439.57 614,439.57 614.37,439.57 614.75,439.57 615.12,439.57 615.49,439.57 615.86,439.57 616.23,439.57 616.6,439.57 616.97,439.57 617.34,439.57 617.72,439.57 618.09,439.57 618.46,439.57 618.83,439.57 619.2,439.57 619.57,439.57 619.94,439.57 620.31,439.57 620.69,439.57 621.06,439.57 621.43,439.57 621.8,439.57 622.17,439.57 622.54,439.57 622.91,439.57 623.28,439.57 623.65,439.57 624.03,439.57 624.4,439.57 624.77,439.57 625.14,439.57 625.51,439.57 625.88,439.57 626.25,439.57 626.62,439.57 627,439.57 627.37,439.57 627.74,439.57 628.11,439.57 628.48,439.57 628.85,439.57 629.22,439.57 629.6,439.57 629.97,439.57 630.34,439.57 630.71,439.57 631.08,439.57 631.45,439.57 631.82,439.57 632.19,439.57 632.57,439.57 632.94,439.57 633.31,439.57 633.68,439.57 634.05,439.57 634.42,439.57 634.79,439.57 635.16,439.57 635.54,439.57 635.91,439.57 636.28,439.57 636.65,439.57 637.02,439.57 637.39,439.57 637.76,439.57 638.13,439.57 638.51,439.57 638.88,439.57 639.25,439.57 639.62,439.57 639.99,439.57 640.36,439.57 640.73,439.57 641.1,439.57 641.48,439.57 641.85,439.57 642.22,439.57 642.59,439.57 642.96,439.57 643.33,439.57 643.7,439.57 644.07,439.57 644.44,439.57 644.82,439.57 645.19,439.57 645.56,439.57 645.93,439.57 646.3,439.57 646.67,439.57 647.04,439.57 647.41,439.57 647.79,439.57 648.16,439.57 648.53,439.57 648.9,439.57 649.27,439.57 649.64,439.57 650.01,439.57 650.38,439.57 650.76,439.57 651.13,439.57 651.5,439.57 651.87,439.57 652.24,439.57 652.61,439.57 652.98,439.57 653.36,439.57 653.73,439.57 654.1,439.57 654.47,439.57 654.84,439.57 655.21,439.57 655.58,439.57 655.95,439.57 656.33,439.57 656.7,439.57 657.07,439.57 657.44,439.57 657.81,439.57 658.18,439.57 658.55,439.57 658.92,439.57 659.3,439.57 659.67,439.57 660.04,439.57 660.41,439.57 660.78,439.57 661.15,439.57 661.52,439.57 661.89,439.57 662.27,439.57 662.64,439.57 663.01,439.57 663.38,439.57 663.75,439.57 664.12,439.57 664.49,439.57 664.86,439.57 665.24,439.57 665.61,439.57 665.98,439.57 666.35,439.57 666.72,439.57 667.09,439.57 667.46,439.57 667.83,439.57 668.21,439.57 668.58,439.57 668.95,439.57 669.32,439.57 669.69,439.57 670.06,439.57 670.43,439.57 670.8,439.57 671.17,439.57 671.55,439.57 671.92,439.57 672.29,439.57 672.66,439.57 673.03,439.57 673.4,439.57 673.77,439.57 674.14,439.57 674.52,439.57 674.89,439.57 675.26,439.57 675.63,439.57 676,439.57 676.37,439.57 676.74,439.57 677.12,439.57 677.49,439.57 677.86,439.57 678.23,439.57 678.6,439.57" fill="none" stroke="#edb120" stroke-width="1.15" stroke-linejoin="round" />
<line x1="29.5" y1="148.09" x2="329.4" y2="148.09" stroke="#000" stroke-width="1.3" stroke-dasharray="3.4,3.07"/>
<line x1="381.2" y1="131.89" x2="678.6" y2="131.89" stroke="#000" stroke-width="1.3" stroke-dasharray="3.4,3.07"/>
<line x1="33.7" y1="433.48" x2="325.7" y2="433.48" stroke="#000" stroke-width="1.3" stroke-dasharray="3.4,3.07"/>
<line x1="381.6" y1="439.57" x2="678.6" y2="439.57" stroke="#000" stroke-width="1.3" stroke-dasharray="3.4,3.07"/>
<rect x="273.4" y="9.4" width="51.4" height="34" fill="#fff" stroke="#7a7a7a" stroke-width="0.9"/>
<line x1="275" y1="13.3" x2="291.1" y2="13.3" stroke="#0000ff" stroke-width="1.3" />
<text x="292.6" y="15.6" font-size="6.7">OSMC</text>
<line x1="275" y1="21.8" x2="291.1" y2="21.8" stroke="#ff0000" stroke-width="1.3" />
<text x="292.6" y="24.1" font-size="6.7">PID</text>
<line x1="275" y1="30.1" x2="291.1" y2="30.1" stroke="#edb120" stroke-width="1.3" />
<text x="292.6" y="32.4" font-size="6.7">None</text>
<line x1="275" y1="38.6" x2="291.1" y2="38.6" stroke="#000" stroke-width="1.3" stroke-dasharray="3.4,3.07"/>
<text x="292.6" y="40.9" font-size="6.7">Static load</text>
<rect x="623.4" y="10.4" width="50.4" height="33.9" fill="#fff" stroke="#7a7a7a" stroke-width="0.9"/>
<line x1="624.8" y1="14.6" x2="640.4" y2="14.6" stroke="#0000ff" stroke-width="1.3" />
<text x="642" y="16.9" font-size="6.7">OSMC</text>
<line x1="624.8" y1="23.2" x2="640.4" y2="23.2" stroke="#ff0000" stroke-width="1.3" />
<text x="642" y="25.5" font-size="6.7">PID</text>
<line x1="624.8" y1="31.5" x2="640.4" y2="31.5" stroke="#edb120" stroke-width="1.3" />
<text x="642" y="33.8" font-size="6.7">None</text>
<line x1="624.8" y1="40" x2="640.4" y2="40" stroke="#000" stroke-width="1.3" stroke-dasharray="3.4,3.07"/>
<text x="642" y="42.3" font-size="6.7">Static load</text>
<rect x="155.2" y="317.5" width="50.6" height="34" fill="#fff" stroke="#7a7a7a" stroke-width="0.9"/>
<line x1="157.1" y1="322.2" x2="172.8" y2="322.2" stroke="#0000ff" stroke-width="1.3" />
<text x="174.1" y="324.5" font-size="6.7">OSMC</text>
<line x1="157.1" y1="330.3" x2="172.8" y2="330.3" stroke="#ff0000" stroke-width="1.3" />
<text x="174.1" y="332.6" font-size="6.7">PID</text>
<line x1="157.1" y1="338.2" x2="172.8" y2="338.2" stroke="#edb120" stroke-width="1.3" />
<text x="174.1" y="340.5" font-size="6.7">None</text>
<line x1="157.1" y1="346.7" x2="172.8" y2="346.7" stroke="#000" stroke-width="1.3" stroke-dasharray="3.4,3.07"/>
<text x="174.1" y="349" font-size="6.7">Static load</text>
<rect x="552.3" y="313.5" width="51.3" height="34.3" fill="#fff" stroke="#7a7a7a" stroke-width="0.9"/>
<line x1="554.1" y1="318.4" x2="569.8" y2="318.4" stroke="#0000ff" stroke-width="1.3" />
<text x="571.5" y="320.7" font-size="6.7">OSMC</text>
<line x1="554.1" y1="326.9" x2="569.8" y2="326.9" stroke="#ff0000" stroke-width="1.3" />
<text x="571.5" y="329.2" font-size="6.7">PID</text>
<line x1="554.1" y1="335.1" x2="569.8" y2="335.1" stroke="#edb120" stroke-width="1.3" />
<text x="571.5" y="337.4" font-size="6.7">None</text>
<line x1="554.1" y1="343.4" x2="569.8" y2="343.4" stroke="#000" stroke-width="1.3" stroke-dasharray="3.4,3.07"/>
<text x="571.5" y="345.7" font-size="6.7">Static load</text>
</svg></body></html>
